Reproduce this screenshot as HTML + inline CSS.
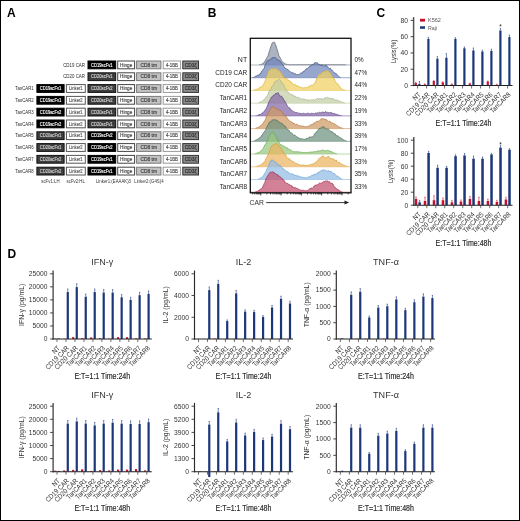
<!DOCTYPE html>
<html><head><meta charset="utf-8"><style>
html,body{margin:0;padding:0;background:#fff;}
svg{display:block;will-change:transform;}
text{font-family:"Liberation Sans", sans-serif;}
</style></head><body>
<svg width="520" height="521" viewBox="0 0 520 521" font-family='"Liberation Sans", sans-serif'>
<rect x="0" y="0" width="520" height="521" fill="#fff"/>
<text x="7.00" y="17.00" font-size="12" fill="#000" text-anchor="start" font-weight="bold" >A</text>
<text x="207.80" y="17.00" font-size="12" fill="#000" text-anchor="start" font-weight="bold" >B</text>
<text x="376.60" y="17.00" font-size="12" fill="#000" text-anchor="start" font-weight="bold" >C</text>
<text x="7.50" y="257.60" font-size="12" fill="#000" text-anchor="start" font-weight="bold" >D</text>
<text x="85.00" y="66.60" font-size="4.8" fill="#2a2a2a" text-anchor="end" font-weight="normal"  textLength="21.84" lengthAdjust="spacingAndGlyphs">CD19 CAR</text>
<rect x="88.00" y="61.00" width="27.70" height="7.80" fill="#000" stroke="#000" stroke-width="1.0" />
<text x="101.85" y="66.60" font-size="4.8" fill="#fff" text-anchor="middle" font-weight="normal" stroke="#fff" stroke-width="0.14" textLength="21.56" lengthAdjust="spacingAndGlyphs">CD19scFv1</text>
<rect x="117.70" y="61.00" width="16.90" height="7.80" fill="#fff" stroke="#444" stroke-width="1.0" />
<text x="126.15" y="66.60" font-size="4.8" fill="#444" text-anchor="middle" font-weight="normal" stroke="#444" stroke-width="0.14" textLength="12.29" lengthAdjust="spacingAndGlyphs">Hinge</text>
<rect x="136.60" y="61.00" width="24.30" height="7.80" fill="#c2c2c2" stroke="#7a7a7a" stroke-width="1.0" />
<text x="148.75" y="66.60" font-size="4.8" fill="#3a3a3a" text-anchor="middle" font-weight="normal" stroke="#3a3a3a" stroke-width="0.14" textLength="16.59" lengthAdjust="spacingAndGlyphs">CD8 tm</text>
<rect x="163.20" y="61.00" width="17.40" height="7.80" fill="#fff" stroke="#999" stroke-width="1.0" />
<text x="171.90" y="66.60" font-size="4.8" fill="#444" text-anchor="middle" font-weight="normal" stroke="#444" stroke-width="0.14" textLength="12.01" lengthAdjust="spacingAndGlyphs">4-1BB</text>
<rect x="182.80" y="61.00" width="15.70" height="7.80" fill="#8a8a8a" stroke="#333" stroke-width="1.0" />
<text x="190.65" y="66.60" font-size="4.8" fill="#2a2a2a" text-anchor="middle" font-weight="normal" stroke="#2a2a2a" stroke-width="0.14" textLength="11.95" lengthAdjust="spacingAndGlyphs">CD3&#950;</text>
<text x="85.00" y="78.40" font-size="4.8" fill="#2a2a2a" text-anchor="end" font-weight="normal"  textLength="21.84" lengthAdjust="spacingAndGlyphs">CD20 CAR</text>
<rect x="88.00" y="72.80" width="27.70" height="7.80" fill="#3e3e3e" stroke="#111" stroke-width="1.0" />
<text x="101.85" y="78.40" font-size="4.8" fill="#d6d6d6" text-anchor="middle" font-weight="normal" stroke="#d6d6d6" stroke-width="0.14" textLength="21.56" lengthAdjust="spacingAndGlyphs">CD20scFv1</text>
<rect x="117.70" y="72.80" width="16.90" height="7.80" fill="#fff" stroke="#444" stroke-width="1.0" />
<text x="126.15" y="78.40" font-size="4.8" fill="#444" text-anchor="middle" font-weight="normal" stroke="#444" stroke-width="0.14" textLength="12.29" lengthAdjust="spacingAndGlyphs">Hinge</text>
<rect x="136.60" y="72.80" width="24.30" height="7.80" fill="#c2c2c2" stroke="#7a7a7a" stroke-width="1.0" />
<text x="148.75" y="78.40" font-size="4.8" fill="#3a3a3a" text-anchor="middle" font-weight="normal" stroke="#3a3a3a" stroke-width="0.14" textLength="16.59" lengthAdjust="spacingAndGlyphs">CD8 tm</text>
<rect x="163.20" y="72.80" width="17.40" height="7.80" fill="#fff" stroke="#999" stroke-width="1.0" />
<text x="171.90" y="78.40" font-size="4.8" fill="#444" text-anchor="middle" font-weight="normal" stroke="#444" stroke-width="0.14" textLength="12.01" lengthAdjust="spacingAndGlyphs">4-1BB</text>
<rect x="182.80" y="72.80" width="15.70" height="7.80" fill="#8a8a8a" stroke="#333" stroke-width="1.0" />
<text x="190.65" y="78.40" font-size="4.8" fill="#2a2a2a" text-anchor="middle" font-weight="normal" stroke="#2a2a2a" stroke-width="0.14" textLength="11.95" lengthAdjust="spacingAndGlyphs">CD3&#950;</text>
<text x="33.60" y="90.20" font-size="4.8" fill="#2a2a2a" text-anchor="end" font-weight="normal"  textLength="18.28" lengthAdjust="spacingAndGlyphs">TanCAR1</text>
<rect x="36.90" y="84.60" width="27.20" height="7.80" fill="#000" stroke="#000" stroke-width="1.0" />
<text x="50.50" y="90.20" font-size="4.8" fill="#fff" text-anchor="middle" font-weight="normal" stroke="#fff" stroke-width="0.14" textLength="21.56" lengthAdjust="spacingAndGlyphs">CD19scFv1</text>
<rect x="66.40" y="84.60" width="18.90" height="7.80" fill="#fff" stroke="#555" stroke-width="1.0" />
<text x="75.85" y="90.20" font-size="4.8" fill="#555" text-anchor="middle" font-weight="normal" stroke="#555" stroke-width="0.14" textLength="13.54" lengthAdjust="spacingAndGlyphs">Linker1</text>
<rect x="88.00" y="84.60" width="27.70" height="7.80" fill="#3e3e3e" stroke="#111" stroke-width="1.0" />
<text x="101.85" y="90.20" font-size="4.8" fill="#d6d6d6" text-anchor="middle" font-weight="normal" stroke="#d6d6d6" stroke-width="0.14" textLength="21.56" lengthAdjust="spacingAndGlyphs">CD20scFv2</text>
<rect x="117.70" y="84.60" width="16.90" height="7.80" fill="#fff" stroke="#444" stroke-width="1.0" />
<text x="126.15" y="90.20" font-size="4.8" fill="#444" text-anchor="middle" font-weight="normal" stroke="#444" stroke-width="0.14" textLength="12.29" lengthAdjust="spacingAndGlyphs">Hinge</text>
<rect x="136.60" y="84.60" width="24.30" height="7.80" fill="#c2c2c2" stroke="#7a7a7a" stroke-width="1.0" />
<text x="148.75" y="90.20" font-size="4.8" fill="#3a3a3a" text-anchor="middle" font-weight="normal" stroke="#3a3a3a" stroke-width="0.14" textLength="16.59" lengthAdjust="spacingAndGlyphs">CD8 tm</text>
<rect x="163.20" y="84.60" width="17.40" height="7.80" fill="#fff" stroke="#999" stroke-width="1.0" />
<text x="171.90" y="90.20" font-size="4.8" fill="#444" text-anchor="middle" font-weight="normal" stroke="#444" stroke-width="0.14" textLength="12.01" lengthAdjust="spacingAndGlyphs">4-1BB</text>
<rect x="182.80" y="84.60" width="15.70" height="7.80" fill="#8a8a8a" stroke="#333" stroke-width="1.0" />
<text x="190.65" y="90.20" font-size="4.8" fill="#2a2a2a" text-anchor="middle" font-weight="normal" stroke="#2a2a2a" stroke-width="0.14" textLength="11.95" lengthAdjust="spacingAndGlyphs">CD3&#950;</text>
<text x="33.60" y="102.00" font-size="4.8" fill="#2a2a2a" text-anchor="end" font-weight="normal"  textLength="18.28" lengthAdjust="spacingAndGlyphs">TanCAR2</text>
<rect x="36.90" y="96.40" width="27.20" height="7.80" fill="#000" stroke="#000" stroke-width="1.0" />
<text x="50.50" y="102.00" font-size="4.8" fill="#fff" text-anchor="middle" font-weight="normal" stroke="#fff" stroke-width="0.14" textLength="21.56" lengthAdjust="spacingAndGlyphs">CD19scFv1</text>
<rect x="66.40" y="96.40" width="18.90" height="7.80" fill="#fff" stroke="#555" stroke-width="1.0" />
<text x="75.85" y="102.00" font-size="4.8" fill="#555" text-anchor="middle" font-weight="normal" stroke="#555" stroke-width="0.14" textLength="13.54" lengthAdjust="spacingAndGlyphs">Linker2</text>
<rect x="88.00" y="96.40" width="27.70" height="7.80" fill="#3e3e3e" stroke="#111" stroke-width="1.0" />
<text x="101.85" y="102.00" font-size="4.8" fill="#d6d6d6" text-anchor="middle" font-weight="normal" stroke="#d6d6d6" stroke-width="0.14" textLength="21.56" lengthAdjust="spacingAndGlyphs">CD20scFv2</text>
<rect x="117.70" y="96.40" width="16.90" height="7.80" fill="#fff" stroke="#444" stroke-width="1.0" />
<text x="126.15" y="102.00" font-size="4.8" fill="#444" text-anchor="middle" font-weight="normal" stroke="#444" stroke-width="0.14" textLength="12.29" lengthAdjust="spacingAndGlyphs">Hinge</text>
<rect x="136.60" y="96.40" width="24.30" height="7.80" fill="#c2c2c2" stroke="#7a7a7a" stroke-width="1.0" />
<text x="148.75" y="102.00" font-size="4.8" fill="#3a3a3a" text-anchor="middle" font-weight="normal" stroke="#3a3a3a" stroke-width="0.14" textLength="16.59" lengthAdjust="spacingAndGlyphs">CD8 tm</text>
<rect x="163.20" y="96.40" width="17.40" height="7.80" fill="#fff" stroke="#999" stroke-width="1.0" />
<text x="171.90" y="102.00" font-size="4.8" fill="#444" text-anchor="middle" font-weight="normal" stroke="#444" stroke-width="0.14" textLength="12.01" lengthAdjust="spacingAndGlyphs">4-1BB</text>
<rect x="182.80" y="96.40" width="15.70" height="7.80" fill="#8a8a8a" stroke="#333" stroke-width="1.0" />
<text x="190.65" y="102.00" font-size="4.8" fill="#2a2a2a" text-anchor="middle" font-weight="normal" stroke="#2a2a2a" stroke-width="0.14" textLength="11.95" lengthAdjust="spacingAndGlyphs">CD3&#950;</text>
<text x="33.60" y="113.80" font-size="4.8" fill="#2a2a2a" text-anchor="end" font-weight="normal"  textLength="18.28" lengthAdjust="spacingAndGlyphs">TanCAR3</text>
<rect x="36.90" y="108.20" width="27.20" height="7.80" fill="#000" stroke="#000" stroke-width="1.0" />
<text x="50.50" y="113.80" font-size="4.8" fill="#fff" text-anchor="middle" font-weight="normal" stroke="#fff" stroke-width="0.14" textLength="21.56" lengthAdjust="spacingAndGlyphs">CD19scFv2</text>
<rect x="66.40" y="108.20" width="18.90" height="7.80" fill="#fff" stroke="#555" stroke-width="1.0" />
<text x="75.85" y="113.80" font-size="4.8" fill="#555" text-anchor="middle" font-weight="normal" stroke="#555" stroke-width="0.14" textLength="13.54" lengthAdjust="spacingAndGlyphs">Linker1</text>
<rect x="88.00" y="108.20" width="27.70" height="7.80" fill="#3e3e3e" stroke="#111" stroke-width="1.0" />
<text x="101.85" y="113.80" font-size="4.8" fill="#d6d6d6" text-anchor="middle" font-weight="normal" stroke="#d6d6d6" stroke-width="0.14" textLength="21.56" lengthAdjust="spacingAndGlyphs">CD20scFv1</text>
<rect x="117.70" y="108.20" width="16.90" height="7.80" fill="#fff" stroke="#444" stroke-width="1.0" />
<text x="126.15" y="113.80" font-size="4.8" fill="#444" text-anchor="middle" font-weight="normal" stroke="#444" stroke-width="0.14" textLength="12.29" lengthAdjust="spacingAndGlyphs">Hinge</text>
<rect x="136.60" y="108.20" width="24.30" height="7.80" fill="#c2c2c2" stroke="#7a7a7a" stroke-width="1.0" />
<text x="148.75" y="113.80" font-size="4.8" fill="#3a3a3a" text-anchor="middle" font-weight="normal" stroke="#3a3a3a" stroke-width="0.14" textLength="16.59" lengthAdjust="spacingAndGlyphs">CD8 tm</text>
<rect x="163.20" y="108.20" width="17.40" height="7.80" fill="#fff" stroke="#999" stroke-width="1.0" />
<text x="171.90" y="113.80" font-size="4.8" fill="#444" text-anchor="middle" font-weight="normal" stroke="#444" stroke-width="0.14" textLength="12.01" lengthAdjust="spacingAndGlyphs">4-1BB</text>
<rect x="182.80" y="108.20" width="15.70" height="7.80" fill="#8a8a8a" stroke="#333" stroke-width="1.0" />
<text x="190.65" y="113.80" font-size="4.8" fill="#2a2a2a" text-anchor="middle" font-weight="normal" stroke="#2a2a2a" stroke-width="0.14" textLength="11.95" lengthAdjust="spacingAndGlyphs">CD3&#950;</text>
<text x="33.60" y="125.60" font-size="4.8" fill="#2a2a2a" text-anchor="end" font-weight="normal"  textLength="18.28" lengthAdjust="spacingAndGlyphs">TanCAR4</text>
<rect x="36.90" y="120.00" width="27.20" height="7.80" fill="#000" stroke="#000" stroke-width="1.0" />
<text x="50.50" y="125.60" font-size="4.8" fill="#fff" text-anchor="middle" font-weight="normal" stroke="#fff" stroke-width="0.14" textLength="21.56" lengthAdjust="spacingAndGlyphs">CD19scFv2</text>
<rect x="66.40" y="120.00" width="18.90" height="7.80" fill="#fff" stroke="#555" stroke-width="1.0" />
<text x="75.85" y="125.60" font-size="4.8" fill="#555" text-anchor="middle" font-weight="normal" stroke="#555" stroke-width="0.14" textLength="13.54" lengthAdjust="spacingAndGlyphs">Linker2</text>
<rect x="88.00" y="120.00" width="27.70" height="7.80" fill="#3e3e3e" stroke="#111" stroke-width="1.0" />
<text x="101.85" y="125.60" font-size="4.8" fill="#d6d6d6" text-anchor="middle" font-weight="normal" stroke="#d6d6d6" stroke-width="0.14" textLength="21.56" lengthAdjust="spacingAndGlyphs">CD20scFv1</text>
<rect x="117.70" y="120.00" width="16.90" height="7.80" fill="#fff" stroke="#444" stroke-width="1.0" />
<text x="126.15" y="125.60" font-size="4.8" fill="#444" text-anchor="middle" font-weight="normal" stroke="#444" stroke-width="0.14" textLength="12.29" lengthAdjust="spacingAndGlyphs">Hinge</text>
<rect x="136.60" y="120.00" width="24.30" height="7.80" fill="#c2c2c2" stroke="#7a7a7a" stroke-width="1.0" />
<text x="148.75" y="125.60" font-size="4.8" fill="#3a3a3a" text-anchor="middle" font-weight="normal" stroke="#3a3a3a" stroke-width="0.14" textLength="16.59" lengthAdjust="spacingAndGlyphs">CD8 tm</text>
<rect x="163.20" y="120.00" width="17.40" height="7.80" fill="#fff" stroke="#999" stroke-width="1.0" />
<text x="171.90" y="125.60" font-size="4.8" fill="#444" text-anchor="middle" font-weight="normal" stroke="#444" stroke-width="0.14" textLength="12.01" lengthAdjust="spacingAndGlyphs">4-1BB</text>
<rect x="182.80" y="120.00" width="15.70" height="7.80" fill="#8a8a8a" stroke="#333" stroke-width="1.0" />
<text x="190.65" y="125.60" font-size="4.8" fill="#2a2a2a" text-anchor="middle" font-weight="normal" stroke="#2a2a2a" stroke-width="0.14" textLength="11.95" lengthAdjust="spacingAndGlyphs">CD3&#950;</text>
<text x="33.60" y="137.40" font-size="4.8" fill="#2a2a2a" text-anchor="end" font-weight="normal"  textLength="18.28" lengthAdjust="spacingAndGlyphs">TanCAR5</text>
<rect x="36.90" y="131.80" width="27.20" height="7.80" fill="#3e3e3e" stroke="#111" stroke-width="1.0" />
<text x="50.50" y="137.40" font-size="4.8" fill="#d6d6d6" text-anchor="middle" font-weight="normal" stroke="#d6d6d6" stroke-width="0.14" textLength="21.56" lengthAdjust="spacingAndGlyphs">CD20scFv1</text>
<rect x="66.40" y="131.80" width="18.90" height="7.80" fill="#fff" stroke="#555" stroke-width="1.0" />
<text x="75.85" y="137.40" font-size="4.8" fill="#555" text-anchor="middle" font-weight="normal" stroke="#555" stroke-width="0.14" textLength="13.54" lengthAdjust="spacingAndGlyphs">Linker1</text>
<rect x="88.00" y="131.80" width="27.70" height="7.80" fill="#000" stroke="#000" stroke-width="1.0" />
<text x="101.85" y="137.40" font-size="4.8" fill="#fff" text-anchor="middle" font-weight="normal" stroke="#fff" stroke-width="0.14" textLength="21.56" lengthAdjust="spacingAndGlyphs">CD19scFv2</text>
<rect x="117.70" y="131.80" width="16.90" height="7.80" fill="#fff" stroke="#444" stroke-width="1.0" />
<text x="126.15" y="137.40" font-size="4.8" fill="#444" text-anchor="middle" font-weight="normal" stroke="#444" stroke-width="0.14" textLength="12.29" lengthAdjust="spacingAndGlyphs">Hinge</text>
<rect x="136.60" y="131.80" width="24.30" height="7.80" fill="#c2c2c2" stroke="#7a7a7a" stroke-width="1.0" />
<text x="148.75" y="137.40" font-size="4.8" fill="#3a3a3a" text-anchor="middle" font-weight="normal" stroke="#3a3a3a" stroke-width="0.14" textLength="16.59" lengthAdjust="spacingAndGlyphs">CD8 tm</text>
<rect x="163.20" y="131.80" width="17.40" height="7.80" fill="#fff" stroke="#999" stroke-width="1.0" />
<text x="171.90" y="137.40" font-size="4.8" fill="#444" text-anchor="middle" font-weight="normal" stroke="#444" stroke-width="0.14" textLength="12.01" lengthAdjust="spacingAndGlyphs">4-1BB</text>
<rect x="182.80" y="131.80" width="15.70" height="7.80" fill="#8a8a8a" stroke="#333" stroke-width="1.0" />
<text x="190.65" y="137.40" font-size="4.8" fill="#2a2a2a" text-anchor="middle" font-weight="normal" stroke="#2a2a2a" stroke-width="0.14" textLength="11.95" lengthAdjust="spacingAndGlyphs">CD3&#950;</text>
<text x="33.60" y="149.20" font-size="4.8" fill="#2a2a2a" text-anchor="end" font-weight="normal"  textLength="18.28" lengthAdjust="spacingAndGlyphs">TanCAR6</text>
<rect x="36.90" y="143.60" width="27.20" height="7.80" fill="#3e3e3e" stroke="#111" stroke-width="1.0" />
<text x="50.50" y="149.20" font-size="4.8" fill="#d6d6d6" text-anchor="middle" font-weight="normal" stroke="#d6d6d6" stroke-width="0.14" textLength="21.56" lengthAdjust="spacingAndGlyphs">CD20scFv1</text>
<rect x="66.40" y="143.60" width="18.90" height="7.80" fill="#fff" stroke="#555" stroke-width="1.0" />
<text x="75.85" y="149.20" font-size="4.8" fill="#555" text-anchor="middle" font-weight="normal" stroke="#555" stroke-width="0.14" textLength="13.54" lengthAdjust="spacingAndGlyphs">Linker2</text>
<rect x="88.00" y="143.60" width="27.70" height="7.80" fill="#000" stroke="#000" stroke-width="1.0" />
<text x="101.85" y="149.20" font-size="4.8" fill="#fff" text-anchor="middle" font-weight="normal" stroke="#fff" stroke-width="0.14" textLength="21.56" lengthAdjust="spacingAndGlyphs">CD19scFv2</text>
<rect x="117.70" y="143.60" width="16.90" height="7.80" fill="#fff" stroke="#444" stroke-width="1.0" />
<text x="126.15" y="149.20" font-size="4.8" fill="#444" text-anchor="middle" font-weight="normal" stroke="#444" stroke-width="0.14" textLength="12.29" lengthAdjust="spacingAndGlyphs">Hinge</text>
<rect x="136.60" y="143.60" width="24.30" height="7.80" fill="#c2c2c2" stroke="#7a7a7a" stroke-width="1.0" />
<text x="148.75" y="149.20" font-size="4.8" fill="#3a3a3a" text-anchor="middle" font-weight="normal" stroke="#3a3a3a" stroke-width="0.14" textLength="16.59" lengthAdjust="spacingAndGlyphs">CD8 tm</text>
<rect x="163.20" y="143.60" width="17.40" height="7.80" fill="#fff" stroke="#999" stroke-width="1.0" />
<text x="171.90" y="149.20" font-size="4.8" fill="#444" text-anchor="middle" font-weight="normal" stroke="#444" stroke-width="0.14" textLength="12.01" lengthAdjust="spacingAndGlyphs">4-1BB</text>
<rect x="182.80" y="143.60" width="15.70" height="7.80" fill="#8a8a8a" stroke="#333" stroke-width="1.0" />
<text x="190.65" y="149.20" font-size="4.8" fill="#2a2a2a" text-anchor="middle" font-weight="normal" stroke="#2a2a2a" stroke-width="0.14" textLength="11.95" lengthAdjust="spacingAndGlyphs">CD3&#950;</text>
<text x="33.60" y="161.00" font-size="4.8" fill="#2a2a2a" text-anchor="end" font-weight="normal"  textLength="18.28" lengthAdjust="spacingAndGlyphs">TanCAR7</text>
<rect x="36.90" y="155.40" width="27.20" height="7.80" fill="#3e3e3e" stroke="#111" stroke-width="1.0" />
<text x="50.50" y="161.00" font-size="4.8" fill="#d6d6d6" text-anchor="middle" font-weight="normal" stroke="#d6d6d6" stroke-width="0.14" textLength="21.56" lengthAdjust="spacingAndGlyphs">CD20scFv2</text>
<rect x="66.40" y="155.40" width="18.90" height="7.80" fill="#fff" stroke="#555" stroke-width="1.0" />
<text x="75.85" y="161.00" font-size="4.8" fill="#555" text-anchor="middle" font-weight="normal" stroke="#555" stroke-width="0.14" textLength="13.54" lengthAdjust="spacingAndGlyphs">Linker1</text>
<rect x="88.00" y="155.40" width="27.70" height="7.80" fill="#000" stroke="#000" stroke-width="1.0" />
<text x="101.85" y="161.00" font-size="4.8" fill="#fff" text-anchor="middle" font-weight="normal" stroke="#fff" stroke-width="0.14" textLength="21.56" lengthAdjust="spacingAndGlyphs">CD19scFv1</text>
<rect x="117.70" y="155.40" width="16.90" height="7.80" fill="#fff" stroke="#444" stroke-width="1.0" />
<text x="126.15" y="161.00" font-size="4.8" fill="#444" text-anchor="middle" font-weight="normal" stroke="#444" stroke-width="0.14" textLength="12.29" lengthAdjust="spacingAndGlyphs">Hinge</text>
<rect x="136.60" y="155.40" width="24.30" height="7.80" fill="#c2c2c2" stroke="#7a7a7a" stroke-width="1.0" />
<text x="148.75" y="161.00" font-size="4.8" fill="#3a3a3a" text-anchor="middle" font-weight="normal" stroke="#3a3a3a" stroke-width="0.14" textLength="16.59" lengthAdjust="spacingAndGlyphs">CD8 tm</text>
<rect x="163.20" y="155.40" width="17.40" height="7.80" fill="#fff" stroke="#999" stroke-width="1.0" />
<text x="171.90" y="161.00" font-size="4.8" fill="#444" text-anchor="middle" font-weight="normal" stroke="#444" stroke-width="0.14" textLength="12.01" lengthAdjust="spacingAndGlyphs">4-1BB</text>
<rect x="182.80" y="155.40" width="15.70" height="7.80" fill="#8a8a8a" stroke="#333" stroke-width="1.0" />
<text x="190.65" y="161.00" font-size="4.8" fill="#2a2a2a" text-anchor="middle" font-weight="normal" stroke="#2a2a2a" stroke-width="0.14" textLength="11.95" lengthAdjust="spacingAndGlyphs">CD3&#950;</text>
<text x="33.60" y="172.80" font-size="4.8" fill="#2a2a2a" text-anchor="end" font-weight="normal"  textLength="18.28" lengthAdjust="spacingAndGlyphs">TanCAR8</text>
<rect x="36.90" y="167.20" width="27.20" height="7.80" fill="#3e3e3e" stroke="#111" stroke-width="1.0" />
<text x="50.50" y="172.80" font-size="4.8" fill="#d6d6d6" text-anchor="middle" font-weight="normal" stroke="#d6d6d6" stroke-width="0.14" textLength="21.56" lengthAdjust="spacingAndGlyphs">CD20scFv2</text>
<rect x="66.40" y="167.20" width="18.90" height="7.80" fill="#fff" stroke="#555" stroke-width="1.0" />
<text x="75.85" y="172.80" font-size="4.8" fill="#555" text-anchor="middle" font-weight="normal" stroke="#555" stroke-width="0.14" textLength="13.54" lengthAdjust="spacingAndGlyphs">Linker2</text>
<rect x="88.00" y="167.20" width="27.70" height="7.80" fill="#000" stroke="#000" stroke-width="1.0" />
<text x="101.85" y="172.80" font-size="4.8" fill="#fff" text-anchor="middle" font-weight="normal" stroke="#fff" stroke-width="0.14" textLength="21.56" lengthAdjust="spacingAndGlyphs">CD19scFv1</text>
<rect x="117.70" y="167.20" width="16.90" height="7.80" fill="#fff" stroke="#444" stroke-width="1.0" />
<text x="126.15" y="172.80" font-size="4.8" fill="#444" text-anchor="middle" font-weight="normal" stroke="#444" stroke-width="0.14" textLength="12.29" lengthAdjust="spacingAndGlyphs">Hinge</text>
<rect x="136.60" y="167.20" width="24.30" height="7.80" fill="#c2c2c2" stroke="#7a7a7a" stroke-width="1.0" />
<text x="148.75" y="172.80" font-size="4.8" fill="#3a3a3a" text-anchor="middle" font-weight="normal" stroke="#3a3a3a" stroke-width="0.14" textLength="16.59" lengthAdjust="spacingAndGlyphs">CD8 tm</text>
<rect x="163.20" y="167.20" width="17.40" height="7.80" fill="#fff" stroke="#999" stroke-width="1.0" />
<text x="171.90" y="172.80" font-size="4.8" fill="#444" text-anchor="middle" font-weight="normal" stroke="#444" stroke-width="0.14" textLength="12.01" lengthAdjust="spacingAndGlyphs">4-1BB</text>
<rect x="182.80" y="167.20" width="15.70" height="7.80" fill="#8a8a8a" stroke="#333" stroke-width="1.0" />
<text x="190.65" y="172.80" font-size="4.8" fill="#2a2a2a" text-anchor="middle" font-weight="normal" stroke="#2a2a2a" stroke-width="0.14" textLength="11.95" lengthAdjust="spacingAndGlyphs">CD3&#950;</text>
<text x="50.40" y="182.70" font-size="4.8" fill="#333" text-anchor="middle" font-weight="normal"  textLength="18.24" lengthAdjust="spacingAndGlyphs">scFv1:LH</text>
<text x="75.70" y="182.70" font-size="4.8" fill="#333" text-anchor="middle" font-weight="normal"  textLength="18.24" lengthAdjust="spacingAndGlyphs">scFv2:HL</text>
<text x="113.50" y="182.70" font-size="4.8" fill="#333" text-anchor="middle" font-weight="normal"  textLength="35.06" lengthAdjust="spacingAndGlyphs">Linker1:(EAAAK)3</text>
<text x="148.90" y="182.70" font-size="4.8" fill="#333" text-anchor="middle" font-weight="normal"  textLength="29.29" lengthAdjust="spacingAndGlyphs">Linker2:(G4S)4</text>
<g font-size="7">
<text x="247.20" y="61.90" font-size="7" fill="#222" text-anchor="end" font-weight="normal"  textLength="9.33" lengthAdjust="spacingAndGlyphs">NT</text>
<text x="354.40" y="61.90" font-size="6.5" fill="#222" text-anchor="start" font-weight="normal"  textLength="9.11" lengthAdjust="spacingAndGlyphs">0%</text>
<text x="247.20" y="74.62" font-size="7" fill="#222" text-anchor="end" font-weight="normal"  textLength="31.85" lengthAdjust="spacingAndGlyphs">CD19 CAR</text>
<text x="354.40" y="74.62" font-size="6.5" fill="#222" text-anchor="start" font-weight="normal"  textLength="12.62" lengthAdjust="spacingAndGlyphs">47%</text>
<text x="247.20" y="87.34" font-size="7" fill="#222" text-anchor="end" font-weight="normal"  textLength="31.85" lengthAdjust="spacingAndGlyphs">CD20 CAR</text>
<text x="354.40" y="87.34" font-size="6.5" fill="#222" text-anchor="start" font-weight="normal"  textLength="12.62" lengthAdjust="spacingAndGlyphs">44%</text>
<text x="247.20" y="100.06" font-size="7" fill="#222" text-anchor="end" font-weight="normal"  textLength="27.56" lengthAdjust="spacingAndGlyphs">TanCAR1</text>
<text x="354.40" y="100.06" font-size="6.5" fill="#222" text-anchor="start" font-weight="normal"  textLength="12.62" lengthAdjust="spacingAndGlyphs">22%</text>
<text x="247.20" y="112.78" font-size="7" fill="#222" text-anchor="end" font-weight="normal"  textLength="27.56" lengthAdjust="spacingAndGlyphs">TanCAR2</text>
<text x="354.40" y="112.78" font-size="6.5" fill="#222" text-anchor="start" font-weight="normal"  textLength="12.62" lengthAdjust="spacingAndGlyphs">19%</text>
<text x="247.20" y="125.50" font-size="7" fill="#222" text-anchor="end" font-weight="normal"  textLength="27.56" lengthAdjust="spacingAndGlyphs">TanCAR3</text>
<text x="354.40" y="125.50" font-size="6.5" fill="#222" text-anchor="start" font-weight="normal"  textLength="12.62" lengthAdjust="spacingAndGlyphs">33%</text>
<text x="247.20" y="138.22" font-size="7" fill="#222" text-anchor="end" font-weight="normal"  textLength="27.56" lengthAdjust="spacingAndGlyphs">TanCAR4</text>
<text x="354.40" y="138.22" font-size="6.5" fill="#222" text-anchor="start" font-weight="normal"  textLength="12.62" lengthAdjust="spacingAndGlyphs">39%</text>
<text x="247.20" y="150.94" font-size="7" fill="#222" text-anchor="end" font-weight="normal"  textLength="27.56" lengthAdjust="spacingAndGlyphs">TanCAR5</text>
<text x="354.40" y="150.94" font-size="6.5" fill="#222" text-anchor="start" font-weight="normal"  textLength="12.62" lengthAdjust="spacingAndGlyphs">17%</text>
<text x="247.20" y="163.66" font-size="7" fill="#222" text-anchor="end" font-weight="normal"  textLength="27.56" lengthAdjust="spacingAndGlyphs">TanCAR6</text>
<text x="354.40" y="163.66" font-size="6.5" fill="#222" text-anchor="start" font-weight="normal"  textLength="12.62" lengthAdjust="spacingAndGlyphs">33%</text>
<text x="247.20" y="176.38" font-size="7" fill="#222" text-anchor="end" font-weight="normal"  textLength="27.56" lengthAdjust="spacingAndGlyphs">TanCAR7</text>
<text x="354.40" y="176.38" font-size="6.5" fill="#222" text-anchor="start" font-weight="normal"  textLength="12.62" lengthAdjust="spacingAndGlyphs">35%</text>
<text x="247.20" y="189.10" font-size="7" fill="#222" text-anchor="end" font-weight="normal"  textLength="27.56" lengthAdjust="spacingAndGlyphs">TanCAR8</text>
<text x="354.40" y="189.10" font-size="6.5" fill="#222" text-anchor="start" font-weight="normal"  textLength="12.62" lengthAdjust="spacingAndGlyphs">33%</text>
</g>
<clipPath id="fc"><rect x="250.3" y="38.3" width="100.69999999999999" height="154.5"/></clipPath>
<g clip-path="url(#fc)">
<path d="M250.30,65.00 L250.80,65.00 L251.30,65.00 L251.80,65.00 L252.30,65.00 L252.80,65.00 L253.30,65.00 L253.80,65.00 L254.30,65.00 L254.80,65.00 L255.30,65.00 L255.80,65.00 L256.30,65.00 L256.80,65.00 L257.30,64.99 L257.80,64.97 L258.30,64.93 L258.80,64.88 L259.30,64.81 L259.80,64.74 L260.30,64.67 L260.80,64.50 L261.30,64.41 L261.80,64.07 L262.30,63.84 L262.80,63.60 L263.30,63.33 L263.80,62.85 L264.30,61.87 L264.80,61.54 L265.30,60.54 L265.80,59.44 L266.30,58.74 L266.80,57.60 L267.30,57.13 L267.80,56.30 L268.30,55.02 L268.80,52.98 L269.30,51.52 L269.80,50.09 L270.30,48.20 L270.80,46.72 L271.30,45.63 L271.80,43.92 L272.30,42.81 L272.80,42.70 L273.30,42.20 L273.80,42.21 L274.30,42.10 L274.80,42.79 L275.30,44.37 L275.80,44.84 L276.30,47.02 L276.80,48.52 L277.30,49.66 L277.80,51.92 L278.30,53.37 L278.80,55.48 L279.30,56.27 L279.80,57.08 L280.30,58.23 L280.80,58.80 L281.30,60.22 L281.80,60.85 L282.30,61.59 L282.80,62.21 L283.30,62.78 L283.80,62.96 L284.30,63.12 L284.80,63.54 L285.30,63.81 L285.80,64.19 L286.30,64.29 L286.80,64.41 L287.30,64.45 L287.80,64.50 L288.30,64.59 L288.80,64.64 L289.30,64.64 L289.80,64.71 L290.30,64.71 L290.80,64.74 L291.30,64.70 L291.80,64.70 L292.30,64.70 L292.80,64.70 L293.30,64.70 L293.80,64.70 L294.30,64.70 L294.80,64.70 L295.30,64.70 L295.80,64.70 L296.30,64.70 L296.80,64.70 L297.30,64.70 L297.80,64.70 L298.30,64.70 L298.80,64.70 L299.30,64.70 L299.80,64.70 L300.30,64.70 L300.80,64.70 L301.30,64.70 L301.80,64.70 L302.30,64.70 L302.80,64.70 L303.30,64.70 L303.80,64.70 L304.30,64.70 L304.80,64.70 L305.30,64.70 L305.80,64.70 L306.30,64.70 L306.80,64.70 L307.30,64.70 L307.80,64.70 L308.30,64.70 L308.80,64.70 L309.30,64.70 L309.80,64.70 L310.30,64.70 L310.80,64.70 L311.30,64.70 L311.80,64.70 L312.30,64.70 L312.80,64.70 L313.30,64.70 L313.80,64.70 L314.30,64.70 L314.80,64.70 L315.30,64.70 L315.80,64.70 L316.30,64.70 L316.80,64.70 L317.30,64.70 L317.80,64.70 L318.30,64.70 L318.80,64.70 L319.30,64.70 L319.80,64.70 L320.30,64.70 L320.80,64.70 L321.30,64.70 L321.80,64.70 L322.30,64.70 L322.80,64.70 L323.30,64.70 L323.80,64.70 L324.30,64.70 L324.80,64.70 L325.30,64.70 L325.80,64.70 L326.30,64.70 L326.80,64.70 L327.30,64.70 L327.80,64.70 L328.30,64.70 L328.80,64.70 L329.30,64.70 L329.80,64.70 L330.30,64.70 L330.80,64.70 L331.30,64.70 L331.80,64.70 L332.30,64.70 L332.80,64.70 L333.30,64.70 L333.80,64.70 L334.30,64.70 L334.80,64.70 L335.30,64.70 L335.80,64.70 L336.30,64.70 L336.80,64.70 L337.30,64.70 L337.80,64.70 L338.30,64.70 L338.80,64.70 L339.30,64.70 L339.80,64.70 L340.30,64.70 L340.80,64.70 L341.30,64.70 L341.80,64.70 L342.30,64.70 L342.80,64.70 L343.30,64.70 L343.80,64.70 L344.30,64.70 L344.80,64.71 L345.30,64.73 L345.80,64.75 L346.30,64.78 L346.80,64.81 L347.30,64.84 L347.80,64.87 L348.30,64.90 L348.80,64.93 L349.30,64.95 L349.80,64.97 L350.30,64.98 L351.00,65.00 Z" fill="#8e96a8" fill-opacity="0.72"/>
<path d="M259.30,64.81 L259.80,64.74 L260.30,64.67 L260.80,64.50 L261.30,64.41 L261.80,64.07 L262.30,63.84 L262.80,63.60 L263.30,63.33 L263.80,62.85 L264.30,61.87 L264.80,61.54 L265.30,60.54 L265.80,59.44 L266.30,58.74 L266.80,57.60 L267.30,57.13 L267.80,56.30 L268.30,55.02 L268.80,52.98 L269.30,51.52 L269.80,50.09 L270.30,48.20 L270.80,46.72 L271.30,45.63 L271.80,43.92 L272.30,42.81 L272.80,42.70 L273.30,42.20 L273.80,42.21 L274.30,42.10 L274.80,42.79 L275.30,44.37 L275.80,44.84 L276.30,47.02 L276.80,48.52 L277.30,49.66 L277.80,51.92 L278.30,53.37 L278.80,55.48 L279.30,56.27 L279.80,57.08 L280.30,58.23 L280.80,58.80 L281.30,60.22 L281.80,60.85 L282.30,61.59 L282.80,62.21 L283.30,62.78 L283.80,62.96 L284.30,63.12 L284.80,63.54 L285.30,63.81 L285.80,64.19 L286.30,64.29 L286.80,64.41 L287.30,64.45 L287.80,64.50 L288.30,64.59 L288.80,64.64 L289.30,64.64 L289.80,64.71 L290.30,64.71 L290.80,64.74 L291.30,64.70 L291.80,64.70 L292.30,64.70 L292.80,64.70 L293.30,64.70 L293.80,64.70 L294.30,64.70 L294.80,64.70 L295.30,64.70 L295.80,64.70 L296.30,64.70 L296.80,64.70 L297.30,64.70 L297.80,64.70 L298.30,64.70 L298.80,64.70 L299.30,64.70 L299.80,64.70 L300.30,64.70 L300.80,64.70 L301.30,64.70 L301.80,64.70 L302.30,64.70 L302.80,64.70 L303.30,64.70 L303.80,64.70 L304.30,64.70 L304.80,64.70 L305.30,64.70 L305.80,64.70 L306.30,64.70 L306.80,64.70 L307.30,64.70 L307.80,64.70 L308.30,64.70 L308.80,64.70 L309.30,64.70 L309.80,64.70 L310.30,64.70 L310.80,64.70 L311.30,64.70 L311.80,64.70 L312.30,64.70 L312.80,64.70 L313.30,64.70 L313.80,64.70 L314.30,64.70 L314.80,64.70 L315.30,64.70 L315.80,64.70 L316.30,64.70 L316.80,64.70 L317.30,64.70 L317.80,64.70 L318.30,64.70 L318.80,64.70 L319.30,64.70 L319.80,64.70 L320.30,64.70 L320.80,64.70 L321.30,64.70 L321.80,64.70 L322.30,64.70 L322.80,64.70 L323.30,64.70 L323.80,64.70 L324.30,64.70 L324.80,64.70 L325.30,64.70 L325.80,64.70 L326.30,64.70 L326.80,64.70 L327.30,64.70 L327.80,64.70 L328.30,64.70 L328.80,64.70 L329.30,64.70 L329.80,64.70 L330.30,64.70 L330.80,64.70 L331.30,64.70 L331.80,64.70 L332.30,64.70 L332.80,64.70 L333.30,64.70 L333.80,64.70 L334.30,64.70 L334.80,64.70 L335.30,64.70 L335.80,64.70 L336.30,64.70 L336.80,64.70 L337.30,64.70 L337.80,64.70 L338.30,64.70 L338.80,64.70 L339.30,64.70 L339.80,64.70 L340.30,64.70 L340.80,64.70 L341.30,64.70 L341.80,64.70 L342.30,64.70 L342.80,64.70 L343.30,64.70 L343.80,64.70 L344.30,64.70 L344.80,64.71 L345.30,64.73 L345.80,64.75" fill="none" stroke="#5c6272" stroke-width="0.8" stroke-linejoin="round" stroke-opacity="0.9"/>
<line x1="250.3" y1="65.00" x2="351.0" y2="65.00" stroke="#8e96a8" stroke-width="0.9" stroke-opacity="0.75"/>
<path d="M250.30,77.72 L250.80,77.72 L251.30,77.72 L251.80,77.72 L252.30,77.68 L252.80,77.60 L253.30,77.46 L253.80,77.31 L254.30,77.02 L254.80,76.84 L255.30,76.50 L255.80,76.11 L256.30,76.01 L256.80,75.84 L257.30,75.31 L257.80,75.00 L258.30,75.10 L258.80,75.09 L259.30,74.97 L259.80,74.01 L260.30,73.30 L260.80,73.41 L261.30,72.24 L261.80,71.02 L262.30,70.44 L262.80,70.15 L263.30,69.23 L263.80,68.81 L264.30,68.19 L264.80,65.93 L265.30,64.70 L265.80,63.80 L266.30,62.35 L266.80,61.95 L267.30,60.89 L267.80,60.18 L268.30,60.48 L268.80,60.41 L269.30,60.19 L269.80,59.99 L270.30,59.23 L270.80,59.15 L271.30,58.73 L271.80,58.75 L272.30,57.56 L272.80,57.72 L273.30,57.68 L273.80,57.59 L274.30,57.24 L274.80,57.91 L275.30,57.67 L275.80,58.24 L276.30,58.58 L276.80,58.86 L277.30,59.79 L277.80,59.75 L278.30,60.25 L278.80,60.96 L279.30,60.44 L279.80,61.34 L280.30,61.69 L280.80,61.84 L281.30,62.49 L281.80,63.52 L282.30,64.16 L282.80,64.83 L283.30,65.19 L283.80,66.62 L284.30,66.99 L284.80,67.86 L285.30,68.49 L285.80,68.34 L286.30,68.85 L286.80,69.24 L287.30,69.34 L287.80,69.37 L288.30,70.22 L288.80,70.59 L289.30,71.09 L289.80,71.50 L290.30,71.62 L290.80,72.17 L291.30,72.47 L291.80,72.83 L292.30,72.53 L292.80,72.83 L293.30,72.92 L293.80,73.04 L294.30,73.94 L294.80,74.12 L295.30,73.87 L295.80,73.83 L296.30,74.43 L296.80,74.69 L297.30,74.49 L297.80,74.72 L298.30,74.64 L298.80,74.75 L299.30,74.15 L299.80,73.64 L300.30,73.15 L300.80,73.63 L301.30,73.08 L301.80,72.70 L302.30,73.08 L302.80,72.09 L303.30,71.29 L303.80,71.72 L304.30,70.68 L304.80,70.68 L305.30,70.30 L305.80,69.17 L306.30,68.58 L306.80,68.97 L307.30,68.54 L307.80,67.96 L308.30,67.67 L308.80,67.47 L309.30,66.98 L309.80,65.98 L310.30,66.31 L310.80,65.59 L311.30,65.28 L311.80,65.60 L312.30,65.19 L312.80,64.46 L313.30,64.12 L313.80,64.45 L314.30,63.20 L314.80,62.72 L315.30,62.09 L315.80,62.87 L316.30,62.90 L316.80,63.26 L317.30,62.60 L317.80,63.31 L318.30,64.23 L318.80,64.63 L319.30,64.36 L319.80,64.44 L320.30,65.25 L320.80,65.76 L321.30,64.96 L321.80,65.07 L322.30,64.97 L322.80,65.79 L323.30,66.27 L323.80,65.64 L324.30,65.71 L324.80,66.26 L325.30,65.35 L325.80,65.36 L326.30,65.31 L326.80,66.53 L327.30,66.38 L327.80,67.68 L328.30,67.46 L328.80,68.06 L329.30,68.59 L329.80,68.60 L330.30,68.22 L330.80,69.10 L331.30,69.92 L331.80,69.97 L332.30,70.58 L332.80,71.26 L333.30,71.73 L333.80,72.35 L334.30,72.69 L334.80,72.96 L335.30,73.36 L335.80,73.18 L336.30,73.94 L336.80,74.32 L337.30,75.03 L337.80,75.46 L338.30,76.08 L338.80,76.46 L339.30,76.91 L339.80,77.11 L340.30,77.38 L340.80,77.58 L341.30,77.68 L341.80,77.71 L342.30,77.72 L342.80,77.72 L343.30,77.72 L343.80,77.72 L344.30,77.72 L344.80,77.72 L345.30,77.72 L345.80,77.72 L346.30,77.72 L346.80,77.72 L347.30,77.72 L347.80,77.72 L348.30,77.72 L348.80,77.72 L349.30,77.72 L349.80,77.72 L350.30,77.72 L351.00,77.72 Z" fill="#6d83b8" fill-opacity="0.72"/>
<path d="M252.80,77.60 L253.30,77.46 L253.80,77.31 L254.30,77.02 L254.80,76.84 L255.30,76.50 L255.80,76.11 L256.30,76.01 L256.80,75.84 L257.30,75.31 L257.80,75.00 L258.30,75.10 L258.80,75.09 L259.30,74.97 L259.80,74.01 L260.30,73.30 L260.80,73.41 L261.30,72.24 L261.80,71.02 L262.30,70.44 L262.80,70.15 L263.30,69.23 L263.80,68.81 L264.30,68.19 L264.80,65.93 L265.30,64.70 L265.80,63.80 L266.30,62.35 L266.80,61.95 L267.30,60.89 L267.80,60.18 L268.30,60.48 L268.80,60.41 L269.30,60.19 L269.80,59.99 L270.30,59.23 L270.80,59.15 L271.30,58.73 L271.80,58.75 L272.30,57.56 L272.80,57.72 L273.30,57.68 L273.80,57.59 L274.30,57.24 L274.80,57.91 L275.30,57.67 L275.80,58.24 L276.30,58.58 L276.80,58.86 L277.30,59.79 L277.80,59.75 L278.30,60.25 L278.80,60.96 L279.30,60.44 L279.80,61.34 L280.30,61.69 L280.80,61.84 L281.30,62.49 L281.80,63.52 L282.30,64.16 L282.80,64.83 L283.30,65.19 L283.80,66.62 L284.30,66.99 L284.80,67.86 L285.30,68.49 L285.80,68.34 L286.30,68.85 L286.80,69.24 L287.30,69.34 L287.80,69.37 L288.30,70.22 L288.80,70.59 L289.30,71.09 L289.80,71.50 L290.30,71.62 L290.80,72.17 L291.30,72.47 L291.80,72.83 L292.30,72.53 L292.80,72.83 L293.30,72.92 L293.80,73.04 L294.30,73.94 L294.80,74.12 L295.30,73.87 L295.80,73.83 L296.30,74.43 L296.80,74.69 L297.30,74.49 L297.80,74.72 L298.30,74.64 L298.80,74.75 L299.30,74.15 L299.80,73.64 L300.30,73.15 L300.80,73.63 L301.30,73.08 L301.80,72.70 L302.30,73.08 L302.80,72.09 L303.30,71.29 L303.80,71.72 L304.30,70.68 L304.80,70.68 L305.30,70.30 L305.80,69.17 L306.30,68.58 L306.80,68.97 L307.30,68.54 L307.80,67.96 L308.30,67.67 L308.80,67.47 L309.30,66.98 L309.80,65.98 L310.30,66.31 L310.80,65.59 L311.30,65.28 L311.80,65.60 L312.30,65.19 L312.80,64.46 L313.30,64.12 L313.80,64.45 L314.30,63.20 L314.80,62.72 L315.30,62.09 L315.80,62.87 L316.30,62.90 L316.80,63.26 L317.30,62.60 L317.80,63.31 L318.30,64.23 L318.80,64.63 L319.30,64.36 L319.80,64.44 L320.30,65.25 L320.80,65.76 L321.30,64.96 L321.80,65.07 L322.30,64.97 L322.80,65.79 L323.30,66.27 L323.80,65.64 L324.30,65.71 L324.80,66.26 L325.30,65.35 L325.80,65.36 L326.30,65.31 L326.80,66.53 L327.30,66.38 L327.80,67.68 L328.30,67.46 L328.80,68.06 L329.30,68.59 L329.80,68.60 L330.30,68.22 L330.80,69.10 L331.30,69.92 L331.80,69.97 L332.30,70.58 L332.80,71.26 L333.30,71.73 L333.80,72.35 L334.30,72.69 L334.80,72.96 L335.30,73.36 L335.80,73.18 L336.30,73.94 L336.80,74.32 L337.30,75.03 L337.80,75.46 L338.30,76.08 L338.80,76.46 L339.30,76.91 L339.80,77.11 L340.30,77.38 L340.80,77.58" fill="none" stroke="#3f5288" stroke-width="0.8" stroke-linejoin="round" stroke-opacity="0.9"/>
<line x1="250.3" y1="77.72" x2="351.0" y2="77.72" stroke="#6d83b8" stroke-width="0.9" stroke-opacity="0.75"/>
<path d="M250.30,90.44 L250.80,90.44 L251.30,90.44 L251.80,90.44 L252.30,90.41 L252.80,90.36 L253.30,90.27 L253.80,90.15 L254.30,89.96 L254.80,89.85 L255.30,89.75 L255.80,89.62 L256.30,89.44 L256.80,89.37 L257.30,89.13 L257.80,88.98 L258.30,88.41 L258.80,87.91 L259.30,87.73 L259.80,87.73 L260.30,87.00 L260.80,87.05 L261.30,86.90 L261.80,87.02 L262.30,86.37 L262.80,85.50 L263.30,84.54 L263.80,83.94 L264.30,82.56 L264.80,81.86 L265.30,80.35 L265.80,78.98 L266.30,77.07 L266.80,75.95 L267.30,74.84 L267.80,73.39 L268.30,72.37 L268.80,71.07 L269.30,70.30 L269.80,69.48 L270.30,69.18 L270.80,68.98 L271.30,68.60 L271.80,69.03 L272.30,69.27 L272.80,68.40 L273.30,69.05 L273.80,68.49 L274.30,68.32 L274.80,69.17 L275.30,68.65 L275.80,68.53 L276.30,69.02 L276.80,69.21 L277.30,69.19 L277.80,70.21 L278.30,70.31 L278.80,70.65 L279.30,70.74 L279.80,71.30 L280.30,71.92 L280.80,72.92 L281.30,73.30 L281.80,74.09 L282.30,74.74 L282.80,75.96 L283.30,77.06 L283.80,77.65 L284.30,77.79 L284.80,78.35 L285.30,77.79 L285.80,78.07 L286.30,78.32 L286.80,78.64 L287.30,78.94 L287.80,79.56 L288.30,80.74 L288.80,80.40 L289.30,80.47 L289.80,81.02 L290.30,81.41 L290.80,81.61 L291.30,82.72 L291.80,82.52 L292.30,83.28 L292.80,84.10 L293.30,84.43 L293.80,84.13 L294.30,84.89 L294.80,84.68 L295.30,84.37 L295.80,85.01 L296.30,85.59 L296.80,85.84 L297.30,85.82 L297.80,85.83 L298.30,86.12 L298.80,86.33 L299.30,87.07 L299.80,87.41 L300.30,87.50 L300.80,87.11 L301.30,87.37 L301.80,87.31 L302.30,87.80 L302.80,88.03 L303.30,88.00 L303.80,87.71 L304.30,87.60 L304.80,87.59 L305.30,87.86 L305.80,87.77 L306.30,87.68 L306.80,87.53 L307.30,87.63 L307.80,86.88 L308.30,87.06 L308.80,86.24 L309.30,85.74 L309.80,86.44 L310.30,86.21 L310.80,85.54 L311.30,84.90 L311.80,85.18 L312.30,85.48 L312.80,85.51 L313.30,84.24 L313.80,84.32 L314.30,83.48 L314.80,83.29 L315.30,82.17 L315.80,80.44 L316.30,80.07 L316.80,78.31 L317.30,77.31 L317.80,75.87 L318.30,75.12 L318.80,75.22 L319.30,74.12 L319.80,73.90 L320.30,74.19 L320.80,74.11 L321.30,73.14 L321.80,72.53 L322.30,72.31 L322.80,72.36 L323.30,72.06 L323.80,71.97 L324.30,71.18 L324.80,71.93 L325.30,71.24 L325.80,70.75 L326.30,71.49 L326.80,70.71 L327.30,70.60 L327.80,70.38 L328.30,71.30 L328.80,71.88 L329.30,72.44 L329.80,72.23 L330.30,72.99 L330.80,74.02 L331.30,74.79 L331.80,75.77 L332.30,76.98 L332.80,77.93 L333.30,77.80 L333.80,78.91 L334.30,78.95 L334.80,80.32 L335.30,81.37 L335.80,81.92 L336.30,83.01 L336.80,83.68 L337.30,83.55 L337.80,83.92 L338.30,84.53 L338.80,85.45 L339.30,85.91 L339.80,86.49 L340.30,87.44 L340.80,87.99 L341.30,88.79 L341.80,88.98 L342.30,89.28 L342.80,89.42 L343.30,89.64 L343.80,89.89 L344.30,90.10 L344.80,90.18 L345.30,90.29 L345.80,90.36 L346.30,90.41 L346.80,90.43 L347.30,90.44 L347.80,90.44 L348.30,90.44 L348.80,90.44 L349.30,90.44 L349.80,90.44 L350.30,90.44 L351.00,90.44 Z" fill="#f0d060" fill-opacity="0.72"/>
<path d="M253.30,90.27 L253.80,90.15 L254.30,89.96 L254.80,89.85 L255.30,89.75 L255.80,89.62 L256.30,89.44 L256.80,89.37 L257.30,89.13 L257.80,88.98 L258.30,88.41 L258.80,87.91 L259.30,87.73 L259.80,87.73 L260.30,87.00 L260.80,87.05 L261.30,86.90 L261.80,87.02 L262.30,86.37 L262.80,85.50 L263.30,84.54 L263.80,83.94 L264.30,82.56 L264.80,81.86 L265.30,80.35 L265.80,78.98 L266.30,77.07 L266.80,75.95 L267.30,74.84 L267.80,73.39 L268.30,72.37 L268.80,71.07 L269.30,70.30 L269.80,69.48 L270.30,69.18 L270.80,68.98 L271.30,68.60 L271.80,69.03 L272.30,69.27 L272.80,68.40 L273.30,69.05 L273.80,68.49 L274.30,68.32 L274.80,69.17 L275.30,68.65 L275.80,68.53 L276.30,69.02 L276.80,69.21 L277.30,69.19 L277.80,70.21 L278.30,70.31 L278.80,70.65 L279.30,70.74 L279.80,71.30 L280.30,71.92 L280.80,72.92 L281.30,73.30 L281.80,74.09 L282.30,74.74 L282.80,75.96 L283.30,77.06 L283.80,77.65 L284.30,77.79 L284.80,78.35 L285.30,77.79 L285.80,78.07 L286.30,78.32 L286.80,78.64 L287.30,78.94 L287.80,79.56 L288.30,80.74 L288.80,80.40 L289.30,80.47 L289.80,81.02 L290.30,81.41 L290.80,81.61 L291.30,82.72 L291.80,82.52 L292.30,83.28 L292.80,84.10 L293.30,84.43 L293.80,84.13 L294.30,84.89 L294.80,84.68 L295.30,84.37 L295.80,85.01 L296.30,85.59 L296.80,85.84 L297.30,85.82 L297.80,85.83 L298.30,86.12 L298.80,86.33 L299.30,87.07 L299.80,87.41 L300.30,87.50 L300.80,87.11 L301.30,87.37 L301.80,87.31 L302.30,87.80 L302.80,88.03 L303.30,88.00 L303.80,87.71 L304.30,87.60 L304.80,87.59 L305.30,87.86 L305.80,87.77 L306.30,87.68 L306.80,87.53 L307.30,87.63 L307.80,86.88 L308.30,87.06 L308.80,86.24 L309.30,85.74 L309.80,86.44 L310.30,86.21 L310.80,85.54 L311.30,84.90 L311.80,85.18 L312.30,85.48 L312.80,85.51 L313.30,84.24 L313.80,84.32 L314.30,83.48 L314.80,83.29 L315.30,82.17 L315.80,80.44 L316.30,80.07 L316.80,78.31 L317.30,77.31 L317.80,75.87 L318.30,75.12 L318.80,75.22 L319.30,74.12 L319.80,73.90 L320.30,74.19 L320.80,74.11 L321.30,73.14 L321.80,72.53 L322.30,72.31 L322.80,72.36 L323.30,72.06 L323.80,71.97 L324.30,71.18 L324.80,71.93 L325.30,71.24 L325.80,70.75 L326.30,71.49 L326.80,70.71 L327.30,70.60 L327.80,70.38 L328.30,71.30 L328.80,71.88 L329.30,72.44 L329.80,72.23 L330.30,72.99 L330.80,74.02 L331.30,74.79 L331.80,75.77 L332.30,76.98 L332.80,77.93 L333.30,77.80 L333.80,78.91 L334.30,78.95 L334.80,80.32 L335.30,81.37 L335.80,81.92 L336.30,83.01 L336.80,83.68 L337.30,83.55 L337.80,83.92 L338.30,84.53 L338.80,85.45 L339.30,85.91 L339.80,86.49 L340.30,87.44 L340.80,87.99 L341.30,88.79 L341.80,88.98 L342.30,89.28 L342.80,89.42 L343.30,89.64 L343.80,89.89 L344.30,90.10 L344.80,90.18 L345.30,90.29" fill="none" stroke="#dcb83a" stroke-width="0.8" stroke-linejoin="round" stroke-opacity="0.9"/>
<line x1="250.3" y1="90.44" x2="351.0" y2="90.44" stroke="#f0d060" stroke-width="0.9" stroke-opacity="0.75"/>
<path d="M250.30,103.16 L250.80,103.16 L251.30,103.16 L251.80,103.16 L252.30,103.16 L252.80,103.16 L253.30,103.16 L253.80,103.16 L254.30,103.16 L254.80,103.16 L255.30,103.16 L255.80,103.16 L256.30,103.16 L256.80,103.16 L257.30,103.12 L257.80,103.04 L258.30,102.92 L258.80,102.78 L259.30,102.50 L259.80,102.26 L260.30,102.12 L260.80,101.93 L261.30,101.64 L261.80,101.39 L262.30,101.11 L262.80,100.97 L263.30,100.58 L263.80,99.53 L264.30,99.61 L264.80,99.04 L265.30,98.27 L265.80,97.17 L266.30,97.11 L266.80,96.55 L267.30,95.80 L267.80,94.76 L268.30,93.73 L268.80,92.04 L269.30,90.90 L269.80,89.83 L270.30,90.04 L270.80,89.69 L271.30,88.15 L271.80,86.71 L272.30,86.20 L272.80,85.41 L273.30,85.47 L273.80,84.58 L274.30,83.00 L274.80,82.04 L275.30,81.26 L275.80,80.52 L276.30,81.01 L276.80,81.35 L277.30,81.35 L277.80,80.71 L278.30,80.03 L278.80,79.34 L279.30,79.43 L279.80,79.78 L280.30,80.09 L280.80,81.06 L281.30,81.75 L281.80,83.12 L282.30,83.08 L282.80,84.19 L283.30,84.17 L283.80,84.95 L284.30,86.25 L284.80,87.60 L285.30,88.53 L285.80,88.89 L286.30,89.42 L286.80,90.84 L287.30,91.90 L287.80,92.04 L288.30,92.23 L288.80,92.75 L289.30,93.44 L289.80,93.45 L290.30,94.48 L290.80,94.79 L291.30,94.91 L291.80,94.43 L292.30,94.77 L292.80,94.71 L293.30,95.36 L293.80,96.10 L294.30,96.55 L294.80,95.88 L295.30,96.00 L295.80,96.71 L296.30,97.57 L296.80,97.43 L297.30,97.22 L297.80,97.56 L298.30,98.06 L298.80,97.84 L299.30,97.47 L299.80,98.35 L300.30,99.12 L300.80,99.15 L301.30,99.12 L301.80,98.85 L302.30,99.32 L302.80,98.90 L303.30,98.82 L303.80,99.08 L304.30,99.58 L304.80,99.06 L305.30,99.54 L305.80,99.31 L306.30,99.82 L306.80,100.12 L307.30,99.81 L307.80,100.12 L308.30,99.72 L308.80,99.92 L309.30,100.27 L309.80,100.39 L310.30,100.25 L310.80,99.93 L311.30,99.48 L311.80,99.97 L312.30,99.96 L312.80,100.11 L313.30,99.42 L313.80,99.86 L314.30,100.15 L314.80,100.27 L315.30,99.97 L315.80,99.27 L316.30,98.90 L316.80,98.85 L317.30,98.50 L317.80,98.36 L318.30,98.92 L318.80,99.34 L319.30,98.65 L319.80,98.47 L320.30,99.19 L320.80,98.75 L321.30,98.84 L321.80,98.85 L322.30,98.87 L322.80,99.06 L323.30,99.34 L323.80,99.08 L324.30,98.81 L324.80,97.79 L325.30,98.39 L325.80,97.48 L326.30,98.04 L326.80,98.09 L327.30,97.47 L327.80,97.19 L328.30,97.64 L328.80,98.47 L329.30,98.36 L329.80,98.50 L330.30,97.86 L330.80,98.60 L331.30,98.78 L331.80,98.24 L332.30,99.12 L332.80,99.13 L333.30,98.72 L333.80,98.65 L334.30,99.52 L334.80,100.01 L335.30,100.29 L335.80,99.68 L336.30,100.12 L336.80,99.99 L337.30,99.92 L337.80,100.43 L338.30,100.81 L338.80,100.64 L339.30,100.88 L339.80,101.30 L340.30,101.36 L340.80,101.67 L341.30,101.92 L341.80,102.21 L342.30,102.21 L342.80,102.29 L343.30,102.50 L343.80,102.66 L344.30,102.89 L344.80,103.01 L345.30,103.10 L345.80,103.15 L346.30,103.16 L346.80,103.16 L347.30,103.16 L347.80,103.16 L348.30,103.16 L348.80,103.16 L349.30,103.16 L349.80,103.16 L350.30,103.16 L351.00,103.16 Z" fill="#c4cea6" fill-opacity="0.72"/>
<path d="M258.30,102.92 L258.80,102.78 L259.30,102.50 L259.80,102.26 L260.30,102.12 L260.80,101.93 L261.30,101.64 L261.80,101.39 L262.30,101.11 L262.80,100.97 L263.30,100.58 L263.80,99.53 L264.30,99.61 L264.80,99.04 L265.30,98.27 L265.80,97.17 L266.30,97.11 L266.80,96.55 L267.30,95.80 L267.80,94.76 L268.30,93.73 L268.80,92.04 L269.30,90.90 L269.80,89.83 L270.30,90.04 L270.80,89.69 L271.30,88.15 L271.80,86.71 L272.30,86.20 L272.80,85.41 L273.30,85.47 L273.80,84.58 L274.30,83.00 L274.80,82.04 L275.30,81.26 L275.80,80.52 L276.30,81.01 L276.80,81.35 L277.30,81.35 L277.80,80.71 L278.30,80.03 L278.80,79.34 L279.30,79.43 L279.80,79.78 L280.30,80.09 L280.80,81.06 L281.30,81.75 L281.80,83.12 L282.30,83.08 L282.80,84.19 L283.30,84.17 L283.80,84.95 L284.30,86.25 L284.80,87.60 L285.30,88.53 L285.80,88.89 L286.30,89.42 L286.80,90.84 L287.30,91.90 L287.80,92.04 L288.30,92.23 L288.80,92.75 L289.30,93.44 L289.80,93.45 L290.30,94.48 L290.80,94.79 L291.30,94.91 L291.80,94.43 L292.30,94.77 L292.80,94.71 L293.30,95.36 L293.80,96.10 L294.30,96.55 L294.80,95.88 L295.30,96.00 L295.80,96.71 L296.30,97.57 L296.80,97.43 L297.30,97.22 L297.80,97.56 L298.30,98.06 L298.80,97.84 L299.30,97.47 L299.80,98.35 L300.30,99.12 L300.80,99.15 L301.30,99.12 L301.80,98.85 L302.30,99.32 L302.80,98.90 L303.30,98.82 L303.80,99.08 L304.30,99.58 L304.80,99.06 L305.30,99.54 L305.80,99.31 L306.30,99.82 L306.80,100.12 L307.30,99.81 L307.80,100.12 L308.30,99.72 L308.80,99.92 L309.30,100.27 L309.80,100.39 L310.30,100.25 L310.80,99.93 L311.30,99.48 L311.80,99.97 L312.30,99.96 L312.80,100.11 L313.30,99.42 L313.80,99.86 L314.30,100.15 L314.80,100.27 L315.30,99.97 L315.80,99.27 L316.30,98.90 L316.80,98.85 L317.30,98.50 L317.80,98.36 L318.30,98.92 L318.80,99.34 L319.30,98.65 L319.80,98.47 L320.30,99.19 L320.80,98.75 L321.30,98.84 L321.80,98.85 L322.30,98.87 L322.80,99.06 L323.30,99.34 L323.80,99.08 L324.30,98.81 L324.80,97.79 L325.30,98.39 L325.80,97.48 L326.30,98.04 L326.80,98.09 L327.30,97.47 L327.80,97.19 L328.30,97.64 L328.80,98.47 L329.30,98.36 L329.80,98.50 L330.30,97.86 L330.80,98.60 L331.30,98.78 L331.80,98.24 L332.30,99.12 L332.80,99.13 L333.30,98.72 L333.80,98.65 L334.30,99.52 L334.80,100.01 L335.30,100.29 L335.80,99.68 L336.30,100.12 L336.80,99.99 L337.30,99.92 L337.80,100.43 L338.30,100.81 L338.80,100.64 L339.30,100.88 L339.80,101.30 L340.30,101.36 L340.80,101.67 L341.30,101.92 L341.80,102.21 L342.30,102.21 L342.80,102.29 L343.30,102.50 L343.80,102.66 L344.30,102.89 L344.80,103.01" fill="none" stroke="#a6b48a" stroke-width="0.8" stroke-linejoin="round" stroke-opacity="0.9"/>
<line x1="250.3" y1="103.16" x2="351.0" y2="103.16" stroke="#c4cea6" stroke-width="0.9" stroke-opacity="0.75"/>
<path d="M250.30,115.88 L250.80,115.88 L251.30,115.88 L251.80,115.88 L252.30,115.88 L252.80,115.88 L253.30,115.88 L253.80,115.88 L254.30,115.88 L254.80,115.88 L255.30,115.85 L255.80,115.80 L256.30,115.70 L256.80,115.64 L257.30,115.46 L257.80,115.32 L258.30,115.03 L258.80,114.79 L259.30,114.54 L259.80,114.53 L260.30,114.50 L260.80,114.36 L261.30,113.92 L261.80,113.33 L262.30,113.01 L262.80,112.86 L263.30,112.45 L263.80,111.83 L264.30,111.24 L264.80,110.58 L265.30,109.71 L265.80,109.06 L266.30,108.91 L266.80,107.17 L267.30,106.34 L267.80,104.90 L268.30,103.80 L268.80,102.09 L269.30,101.34 L269.80,100.33 L270.30,99.40 L270.80,98.74 L271.30,97.15 L271.80,96.65 L272.30,96.63 L272.80,96.34 L273.30,95.18 L273.80,95.11 L274.30,95.28 L274.80,94.38 L275.30,93.97 L275.80,93.11 L276.30,93.75 L276.80,93.47 L277.30,92.90 L277.80,92.71 L278.30,92.73 L278.80,94.26 L279.30,94.96 L279.80,95.80 L280.30,96.38 L280.80,95.82 L281.30,96.33 L281.80,96.40 L282.30,97.55 L282.80,97.79 L283.30,98.89 L283.80,100.13 L284.30,100.43 L284.80,100.74 L285.30,102.47 L285.80,103.04 L286.30,103.70 L286.80,104.93 L287.30,105.64 L287.80,106.60 L288.30,107.25 L288.80,107.72 L289.30,107.73 L289.80,107.92 L290.30,108.90 L290.80,109.91 L291.30,110.22 L291.80,110.15 L292.30,111.02 L292.80,111.44 L293.30,111.89 L293.80,111.47 L294.30,111.64 L294.80,112.32 L295.30,112.67 L295.80,112.59 L296.30,112.46 L296.80,112.40 L297.30,112.95 L297.80,113.21 L298.30,112.95 L298.80,113.14 L299.30,113.40 L299.80,113.57 L300.30,113.26 L300.80,113.58 L301.30,113.59 L301.80,113.73 L302.30,113.74 L302.80,113.46 L303.30,113.22 L303.80,113.50 L304.30,113.74 L304.80,113.52 L305.30,113.74 L305.80,113.97 L306.30,113.50 L306.80,113.57 L307.30,113.34 L307.80,113.49 L308.30,113.25 L308.80,113.40 L309.30,113.67 L309.80,113.90 L310.30,113.65 L310.80,113.46 L311.30,113.17 L311.80,113.58 L312.30,113.42 L312.80,113.50 L313.30,113.45 L313.80,113.66 L314.30,113.66 L314.80,113.47 L315.30,113.06 L315.80,113.41 L316.30,113.28 L316.80,112.94 L317.30,112.61 L317.80,113.02 L318.30,113.26 L318.80,112.68 L319.30,112.32 L319.80,112.53 L320.30,112.99 L320.80,112.41 L321.30,112.57 L321.80,112.15 L322.30,112.17 L322.80,111.95 L323.30,112.45 L323.80,112.06 L324.30,112.40 L324.80,112.36 L325.30,111.85 L325.80,111.59 L326.30,112.16 L326.80,112.43 L327.30,112.40 L327.80,112.32 L328.30,112.46 L328.80,112.83 L329.30,112.92 L329.80,112.56 L330.30,112.27 L330.80,112.94 L331.30,112.85 L331.80,112.71 L332.30,113.29 L332.80,113.01 L333.30,113.51 L333.80,113.49 L334.30,113.61 L334.80,113.71 L335.30,114.03 L335.80,114.20 L336.30,114.29 L336.80,114.50 L337.30,114.59 L337.80,114.80 L338.30,114.99 L338.80,115.23 L339.30,115.29 L339.80,115.41 L340.30,115.55 L340.80,115.62 L341.30,115.72 L341.80,115.79 L342.30,115.84 L342.80,115.87 L343.30,115.88 L343.80,115.88 L344.30,115.88 L344.80,115.88 L345.30,115.88 L345.80,115.88 L346.30,115.88 L346.80,115.88 L347.30,115.88 L347.80,115.88 L348.30,115.88 L348.80,115.88 L349.30,115.88 L349.80,115.88 L350.30,115.88 L351.00,115.88 Z" fill="#8468a8" fill-opacity="0.72"/>
<path d="M256.80,115.64 L257.30,115.46 L257.80,115.32 L258.30,115.03 L258.80,114.79 L259.30,114.54 L259.80,114.53 L260.30,114.50 L260.80,114.36 L261.30,113.92 L261.80,113.33 L262.30,113.01 L262.80,112.86 L263.30,112.45 L263.80,111.83 L264.30,111.24 L264.80,110.58 L265.30,109.71 L265.80,109.06 L266.30,108.91 L266.80,107.17 L267.30,106.34 L267.80,104.90 L268.30,103.80 L268.80,102.09 L269.30,101.34 L269.80,100.33 L270.30,99.40 L270.80,98.74 L271.30,97.15 L271.80,96.65 L272.30,96.63 L272.80,96.34 L273.30,95.18 L273.80,95.11 L274.30,95.28 L274.80,94.38 L275.30,93.97 L275.80,93.11 L276.30,93.75 L276.80,93.47 L277.30,92.90 L277.80,92.71 L278.30,92.73 L278.80,94.26 L279.30,94.96 L279.80,95.80 L280.30,96.38 L280.80,95.82 L281.30,96.33 L281.80,96.40 L282.30,97.55 L282.80,97.79 L283.30,98.89 L283.80,100.13 L284.30,100.43 L284.80,100.74 L285.30,102.47 L285.80,103.04 L286.30,103.70 L286.80,104.93 L287.30,105.64 L287.80,106.60 L288.30,107.25 L288.80,107.72 L289.30,107.73 L289.80,107.92 L290.30,108.90 L290.80,109.91 L291.30,110.22 L291.80,110.15 L292.30,111.02 L292.80,111.44 L293.30,111.89 L293.80,111.47 L294.30,111.64 L294.80,112.32 L295.30,112.67 L295.80,112.59 L296.30,112.46 L296.80,112.40 L297.30,112.95 L297.80,113.21 L298.30,112.95 L298.80,113.14 L299.30,113.40 L299.80,113.57 L300.30,113.26 L300.80,113.58 L301.30,113.59 L301.80,113.73 L302.30,113.74 L302.80,113.46 L303.30,113.22 L303.80,113.50 L304.30,113.74 L304.80,113.52 L305.30,113.74 L305.80,113.97 L306.30,113.50 L306.80,113.57 L307.30,113.34 L307.80,113.49 L308.30,113.25 L308.80,113.40 L309.30,113.67 L309.80,113.90 L310.30,113.65 L310.80,113.46 L311.30,113.17 L311.80,113.58 L312.30,113.42 L312.80,113.50 L313.30,113.45 L313.80,113.66 L314.30,113.66 L314.80,113.47 L315.30,113.06 L315.80,113.41 L316.30,113.28 L316.80,112.94 L317.30,112.61 L317.80,113.02 L318.30,113.26 L318.80,112.68 L319.30,112.32 L319.80,112.53 L320.30,112.99 L320.80,112.41 L321.30,112.57 L321.80,112.15 L322.30,112.17 L322.80,111.95 L323.30,112.45 L323.80,112.06 L324.30,112.40 L324.80,112.36 L325.30,111.85 L325.80,111.59 L326.30,112.16 L326.80,112.43 L327.30,112.40 L327.80,112.32 L328.30,112.46 L328.80,112.83 L329.30,112.92 L329.80,112.56 L330.30,112.27 L330.80,112.94 L331.30,112.85 L331.80,112.71 L332.30,113.29 L332.80,113.01 L333.30,113.51 L333.80,113.49 L334.30,113.61 L334.80,113.71 L335.30,114.03 L335.80,114.20 L336.30,114.29 L336.80,114.50 L337.30,114.59 L337.80,114.80 L338.30,114.99 L338.80,115.23 L339.30,115.29 L339.80,115.41 L340.30,115.55 L340.80,115.62 L341.30,115.72" fill="none" stroke="#5e3e82" stroke-width="0.8" stroke-linejoin="round" stroke-opacity="0.9"/>
<line x1="250.3" y1="115.88" x2="351.0" y2="115.88" stroke="#8468a8" stroke-width="0.9" stroke-opacity="0.75"/>
<path d="M250.30,128.60 L250.80,128.60 L251.30,128.60 L251.80,128.60 L252.30,128.60 L252.80,128.60 L253.30,128.60 L253.80,128.60 L254.30,128.57 L254.80,128.50 L255.30,128.40 L255.80,128.20 L256.30,128.09 L256.80,127.85 L257.30,127.58 L257.80,127.58 L258.30,127.41 L258.80,127.01 L259.30,126.91 L259.80,126.27 L260.30,126.11 L260.80,125.42 L261.30,125.44 L261.80,124.92 L262.30,123.81 L262.80,123.74 L263.30,123.21 L263.80,122.10 L264.30,121.25 L264.80,120.72 L265.30,119.76 L265.80,118.80 L266.30,116.74 L266.80,115.57 L267.30,114.19 L267.80,114.02 L268.30,112.58 L268.80,112.31 L269.30,111.10 L269.80,109.90 L270.30,109.34 L270.80,108.06 L271.30,107.64 L271.80,107.22 L272.30,106.50 L272.80,107.24 L273.30,106.45 L273.80,106.72 L274.30,107.44 L274.80,107.49 L275.30,108.48 L275.80,108.11 L276.30,108.58 L276.80,109.16 L277.30,108.86 L277.80,109.15 L278.30,109.74 L278.80,109.37 L279.30,110.33 L279.80,109.96 L280.30,110.79 L280.80,110.89 L281.30,110.70 L281.80,111.44 L282.30,111.98 L282.80,113.04 L283.30,114.30 L283.80,115.17 L284.30,115.74 L284.80,115.65 L285.30,116.16 L285.80,116.58 L286.30,116.55 L286.80,117.86 L287.30,118.62 L287.80,118.63 L288.30,119.74 L288.80,120.51 L289.30,120.61 L289.80,121.23 L290.30,121.39 L290.80,121.87 L291.30,121.82 L291.80,122.00 L292.30,122.82 L292.80,122.80 L293.30,123.12 L293.80,123.87 L294.30,123.21 L294.80,123.93 L295.30,124.48 L295.80,124.89 L296.30,124.52 L296.80,124.18 L297.30,124.23 L297.80,124.77 L298.30,125.25 L298.80,125.80 L299.30,125.58 L299.80,125.65 L300.30,125.94 L300.80,125.91 L301.30,126.10 L301.80,125.88 L302.30,125.94 L302.80,126.30 L303.30,126.09 L303.80,126.55 L304.30,126.50 L304.80,126.57 L305.30,126.73 L305.80,126.93 L306.30,126.61 L306.80,126.83 L307.30,126.56 L307.80,126.05 L308.30,126.19 L308.80,126.13 L309.30,125.67 L309.80,125.40 L310.30,125.01 L310.80,124.51 L311.30,124.82 L311.80,124.74 L312.30,124.61 L312.80,124.77 L313.30,123.64 L313.80,123.06 L314.30,122.73 L314.80,123.40 L315.30,122.41 L315.80,121.88 L316.30,121.83 L316.80,121.25 L317.30,121.20 L317.80,121.32 L318.30,121.38 L318.80,121.08 L319.30,121.08 L319.80,120.55 L320.30,119.62 L320.80,119.17 L321.30,118.66 L321.80,118.52 L322.30,118.99 L322.80,118.80 L323.30,118.90 L323.80,118.53 L324.30,118.83 L324.80,119.50 L325.30,119.45 L325.80,119.10 L326.30,120.11 L326.80,119.81 L327.30,121.01 L327.80,121.39 L328.30,121.75 L328.80,121.35 L329.30,120.99 L329.80,121.23 L330.30,122.07 L330.80,121.86 L331.30,122.66 L331.80,123.33 L332.30,122.87 L332.80,123.17 L333.30,123.40 L333.80,123.71 L334.30,123.65 L334.80,124.37 L335.30,124.48 L335.80,124.84 L336.30,125.04 L336.80,125.63 L337.30,125.82 L337.80,126.15 L338.30,126.57 L338.80,126.91 L339.30,126.98 L339.80,127.35 L340.30,127.32 L340.80,127.67 L341.30,127.94 L341.80,128.12 L342.30,128.16 L342.80,128.32 L343.30,128.43 L343.80,128.51 L344.30,128.56 L344.80,128.59 L345.30,128.60 L345.80,128.60 L346.30,128.60 L346.80,128.60 L347.30,128.60 L347.80,128.60 L348.30,128.60 L348.80,128.60 L349.30,128.60 L349.80,128.60 L350.30,128.60 L351.00,128.60 Z" fill="#cf9a62" fill-opacity="0.72"/>
<path d="M255.30,128.40 L255.80,128.20 L256.30,128.09 L256.80,127.85 L257.30,127.58 L257.80,127.58 L258.30,127.41 L258.80,127.01 L259.30,126.91 L259.80,126.27 L260.30,126.11 L260.80,125.42 L261.30,125.44 L261.80,124.92 L262.30,123.81 L262.80,123.74 L263.30,123.21 L263.80,122.10 L264.30,121.25 L264.80,120.72 L265.30,119.76 L265.80,118.80 L266.30,116.74 L266.80,115.57 L267.30,114.19 L267.80,114.02 L268.30,112.58 L268.80,112.31 L269.30,111.10 L269.80,109.90 L270.30,109.34 L270.80,108.06 L271.30,107.64 L271.80,107.22 L272.30,106.50 L272.80,107.24 L273.30,106.45 L273.80,106.72 L274.30,107.44 L274.80,107.49 L275.30,108.48 L275.80,108.11 L276.30,108.58 L276.80,109.16 L277.30,108.86 L277.80,109.15 L278.30,109.74 L278.80,109.37 L279.30,110.33 L279.80,109.96 L280.30,110.79 L280.80,110.89 L281.30,110.70 L281.80,111.44 L282.30,111.98 L282.80,113.04 L283.30,114.30 L283.80,115.17 L284.30,115.74 L284.80,115.65 L285.30,116.16 L285.80,116.58 L286.30,116.55 L286.80,117.86 L287.30,118.62 L287.80,118.63 L288.30,119.74 L288.80,120.51 L289.30,120.61 L289.80,121.23 L290.30,121.39 L290.80,121.87 L291.30,121.82 L291.80,122.00 L292.30,122.82 L292.80,122.80 L293.30,123.12 L293.80,123.87 L294.30,123.21 L294.80,123.93 L295.30,124.48 L295.80,124.89 L296.30,124.52 L296.80,124.18 L297.30,124.23 L297.80,124.77 L298.30,125.25 L298.80,125.80 L299.30,125.58 L299.80,125.65 L300.30,125.94 L300.80,125.91 L301.30,126.10 L301.80,125.88 L302.30,125.94 L302.80,126.30 L303.30,126.09 L303.80,126.55 L304.30,126.50 L304.80,126.57 L305.30,126.73 L305.80,126.93 L306.30,126.61 L306.80,126.83 L307.30,126.56 L307.80,126.05 L308.30,126.19 L308.80,126.13 L309.30,125.67 L309.80,125.40 L310.30,125.01 L310.80,124.51 L311.30,124.82 L311.80,124.74 L312.30,124.61 L312.80,124.77 L313.30,123.64 L313.80,123.06 L314.30,122.73 L314.80,123.40 L315.30,122.41 L315.80,121.88 L316.30,121.83 L316.80,121.25 L317.30,121.20 L317.80,121.32 L318.30,121.38 L318.80,121.08 L319.30,121.08 L319.80,120.55 L320.30,119.62 L320.80,119.17 L321.30,118.66 L321.80,118.52 L322.30,118.99 L322.80,118.80 L323.30,118.90 L323.80,118.53 L324.30,118.83 L324.80,119.50 L325.30,119.45 L325.80,119.10 L326.30,120.11 L326.80,119.81 L327.30,121.01 L327.80,121.39 L328.30,121.75 L328.80,121.35 L329.30,120.99 L329.80,121.23 L330.30,122.07 L330.80,121.86 L331.30,122.66 L331.80,123.33 L332.30,122.87 L332.80,123.17 L333.30,123.40 L333.80,123.71 L334.30,123.65 L334.80,124.37 L335.30,124.48 L335.80,124.84 L336.30,125.04 L336.80,125.63 L337.30,125.82 L337.80,126.15 L338.30,126.57 L338.80,126.91 L339.30,126.98 L339.80,127.35 L340.30,127.32 L340.80,127.67 L341.30,127.94 L341.80,128.12 L342.30,128.16 L342.80,128.32 L343.30,128.43" fill="none" stroke="#b57436" stroke-width="0.8" stroke-linejoin="round" stroke-opacity="0.9"/>
<line x1="250.3" y1="128.60" x2="351.0" y2="128.60" stroke="#cf9a62" stroke-width="0.9" stroke-opacity="0.75"/>
<path d="M250.30,141.32 L250.80,141.32 L251.30,141.32 L251.80,141.32 L252.30,141.32 L252.80,141.32 L253.30,141.28 L253.80,141.18 L254.30,140.99 L254.80,140.75 L255.30,140.40 L255.80,140.08 L256.30,139.89 L256.80,139.77 L257.30,139.59 L257.80,138.90 L258.30,138.72 L258.80,138.35 L259.30,137.82 L259.80,137.80 L260.30,137.32 L260.80,136.80 L261.30,135.68 L261.80,135.36 L262.30,135.02 L262.80,133.70 L263.30,133.32 L263.80,132.24 L264.30,131.58 L264.80,131.56 L265.30,130.48 L265.80,129.41 L266.30,127.91 L266.80,127.26 L267.30,125.94 L267.80,125.01 L268.30,124.51 L268.80,122.91 L269.30,122.88 L269.80,121.60 L270.30,121.70 L270.80,121.90 L271.30,121.64 L271.80,120.60 L272.30,119.66 L272.80,120.43 L273.30,120.01 L273.80,119.74 L274.30,119.19 L274.80,119.84 L275.30,119.86 L275.80,120.25 L276.30,119.93 L276.80,120.71 L277.30,120.29 L277.80,121.14 L278.30,121.81 L278.80,121.62 L279.30,121.97 L279.80,122.86 L280.30,122.74 L280.80,123.64 L281.30,123.29 L281.80,123.41 L282.30,123.53 L282.80,123.99 L283.30,124.78 L283.80,125.33 L284.30,125.85 L284.80,125.69 L285.30,127.01 L285.80,126.85 L286.30,128.26 L286.80,129.00 L287.30,129.57 L287.80,129.24 L288.30,129.92 L288.80,130.72 L289.30,130.69 L289.80,131.87 L290.30,132.41 L290.80,132.81 L291.30,132.90 L291.80,133.13 L292.30,133.54 L292.80,134.30 L293.30,134.87 L293.80,135.55 L294.30,135.09 L294.80,135.26 L295.30,135.40 L295.80,136.42 L296.30,136.71 L296.80,136.58 L297.30,136.94 L297.80,137.77 L298.30,137.93 L298.80,137.72 L299.30,138.29 L299.80,138.64 L300.30,138.75 L300.80,138.52 L301.30,138.34 L301.80,138.82 L302.30,139.08 L302.80,139.19 L303.30,139.22 L303.80,139.15 L304.30,139.35 L304.80,139.31 L305.30,139.32 L305.80,138.72 L306.30,138.45 L306.80,138.69 L307.30,138.04 L307.80,138.34 L308.30,138.17 L308.80,137.40 L309.30,137.08 L309.80,136.88 L310.30,137.02 L310.80,137.29 L311.30,136.80 L311.80,137.13 L312.30,137.03 L312.80,136.49 L313.30,136.45 L313.80,135.62 L314.30,134.34 L314.80,133.54 L315.30,133.12 L315.80,132.43 L316.30,132.03 L316.80,131.99 L317.30,131.03 L317.80,130.55 L318.30,129.63 L318.80,128.73 L319.30,128.79 L319.80,128.48 L320.30,127.95 L320.80,128.00 L321.30,128.15 L321.80,127.44 L322.30,126.85 L322.80,126.73 L323.30,126.85 L323.80,126.82 L324.30,127.17 L324.80,127.49 L325.30,128.01 L325.80,128.57 L326.30,128.50 L326.80,129.31 L327.30,129.36 L327.80,129.00 L328.30,129.07 L328.80,129.39 L329.30,130.26 L329.80,130.65 L330.30,130.99 L330.80,131.12 L331.30,131.67 L331.80,131.75 L332.30,131.63 L332.80,132.80 L333.30,132.91 L333.80,132.98 L334.30,133.74 L334.80,134.17 L335.30,133.90 L335.80,135.24 L336.30,135.38 L336.80,136.14 L337.30,135.81 L337.80,135.58 L338.30,136.23 L338.80,137.22 L339.30,137.27 L339.80,137.51 L340.30,137.62 L340.80,138.04 L341.30,138.30 L341.80,138.47 L342.30,138.94 L342.80,139.39 L343.30,139.50 L343.80,140.01 L344.30,140.19 L344.80,140.48 L345.30,140.63 L345.80,140.90 L346.30,141.03 L346.80,141.16 L347.30,141.25 L347.80,141.30 L348.30,141.32 L348.80,141.32 L349.30,141.32 L349.80,141.32 L350.30,141.32 L351.00,141.32 Z" fill="#6e937f" fill-opacity="0.72"/>
<path d="M253.80,141.18 L254.30,140.99 L254.80,140.75 L255.30,140.40 L255.80,140.08 L256.30,139.89 L256.80,139.77 L257.30,139.59 L257.80,138.90 L258.30,138.72 L258.80,138.35 L259.30,137.82 L259.80,137.80 L260.30,137.32 L260.80,136.80 L261.30,135.68 L261.80,135.36 L262.30,135.02 L262.80,133.70 L263.30,133.32 L263.80,132.24 L264.30,131.58 L264.80,131.56 L265.30,130.48 L265.80,129.41 L266.30,127.91 L266.80,127.26 L267.30,125.94 L267.80,125.01 L268.30,124.51 L268.80,122.91 L269.30,122.88 L269.80,121.60 L270.30,121.70 L270.80,121.90 L271.30,121.64 L271.80,120.60 L272.30,119.66 L272.80,120.43 L273.30,120.01 L273.80,119.74 L274.30,119.19 L274.80,119.84 L275.30,119.86 L275.80,120.25 L276.30,119.93 L276.80,120.71 L277.30,120.29 L277.80,121.14 L278.30,121.81 L278.80,121.62 L279.30,121.97 L279.80,122.86 L280.30,122.74 L280.80,123.64 L281.30,123.29 L281.80,123.41 L282.30,123.53 L282.80,123.99 L283.30,124.78 L283.80,125.33 L284.30,125.85 L284.80,125.69 L285.30,127.01 L285.80,126.85 L286.30,128.26 L286.80,129.00 L287.30,129.57 L287.80,129.24 L288.30,129.92 L288.80,130.72 L289.30,130.69 L289.80,131.87 L290.30,132.41 L290.80,132.81 L291.30,132.90 L291.80,133.13 L292.30,133.54 L292.80,134.30 L293.30,134.87 L293.80,135.55 L294.30,135.09 L294.80,135.26 L295.30,135.40 L295.80,136.42 L296.30,136.71 L296.80,136.58 L297.30,136.94 L297.80,137.77 L298.30,137.93 L298.80,137.72 L299.30,138.29 L299.80,138.64 L300.30,138.75 L300.80,138.52 L301.30,138.34 L301.80,138.82 L302.30,139.08 L302.80,139.19 L303.30,139.22 L303.80,139.15 L304.30,139.35 L304.80,139.31 L305.30,139.32 L305.80,138.72 L306.30,138.45 L306.80,138.69 L307.30,138.04 L307.80,138.34 L308.30,138.17 L308.80,137.40 L309.30,137.08 L309.80,136.88 L310.30,137.02 L310.80,137.29 L311.30,136.80 L311.80,137.13 L312.30,137.03 L312.80,136.49 L313.30,136.45 L313.80,135.62 L314.30,134.34 L314.80,133.54 L315.30,133.12 L315.80,132.43 L316.30,132.03 L316.80,131.99 L317.30,131.03 L317.80,130.55 L318.30,129.63 L318.80,128.73 L319.30,128.79 L319.80,128.48 L320.30,127.95 L320.80,128.00 L321.30,128.15 L321.80,127.44 L322.30,126.85 L322.80,126.73 L323.30,126.85 L323.80,126.82 L324.30,127.17 L324.80,127.49 L325.30,128.01 L325.80,128.57 L326.30,128.50 L326.80,129.31 L327.30,129.36 L327.80,129.00 L328.30,129.07 L328.80,129.39 L329.30,130.26 L329.80,130.65 L330.30,130.99 L330.80,131.12 L331.30,131.67 L331.80,131.75 L332.30,131.63 L332.80,132.80 L333.30,132.91 L333.80,132.98 L334.30,133.74 L334.80,134.17 L335.30,133.90 L335.80,135.24 L336.30,135.38 L336.80,136.14 L337.30,135.81 L337.80,135.58 L338.30,136.23 L338.80,137.22 L339.30,137.27 L339.80,137.51 L340.30,137.62 L340.80,138.04 L341.30,138.30 L341.80,138.47 L342.30,138.94 L342.80,139.39 L343.30,139.50 L343.80,140.01 L344.30,140.19 L344.80,140.48 L345.30,140.63 L345.80,140.90 L346.30,141.03 L346.80,141.16" fill="none" stroke="#4c6e5c" stroke-width="0.8" stroke-linejoin="round" stroke-opacity="0.9"/>
<line x1="250.3" y1="141.32" x2="351.0" y2="141.32" stroke="#6e937f" stroke-width="0.9" stroke-opacity="0.75"/>
<path d="M250.30,154.04 L250.80,154.04 L251.30,154.04 L251.80,154.04 L252.30,154.04 L252.80,154.04 L253.30,154.02 L253.80,153.98 L254.30,153.90 L254.80,153.80 L255.30,153.70 L255.80,153.60 L256.30,153.38 L256.80,153.15 L257.30,152.96 L257.80,152.80 L258.30,152.55 L258.80,152.45 L259.30,151.88 L259.80,151.79 L260.30,151.43 L260.80,150.97 L261.30,150.43 L261.80,150.13 L262.30,149.83 L262.80,148.94 L263.30,148.57 L263.80,146.94 L264.30,146.35 L264.80,144.91 L265.30,144.56 L265.80,143.77 L266.30,143.03 L266.80,141.88 L267.30,141.07 L267.80,140.32 L268.30,138.32 L268.80,137.37 L269.30,136.45 L269.80,135.44 L270.30,134.25 L270.80,133.34 L271.30,132.39 L271.80,131.87 L272.30,132.17 L272.80,131.81 L273.30,132.18 L273.80,133.89 L274.30,134.02 L274.80,134.34 L275.30,135.07 L275.80,136.76 L276.30,137.07 L276.80,137.95 L277.30,139.71 L277.80,141.04 L278.30,140.82 L278.80,141.50 L279.30,142.72 L279.80,143.80 L280.30,144.50 L280.80,144.89 L281.30,144.52 L281.80,145.15 L282.30,145.94 L282.80,145.50 L283.30,145.64 L283.80,146.79 L284.30,146.56 L284.80,147.01 L285.30,147.14 L285.80,147.50 L286.30,147.47 L286.80,147.70 L287.30,147.86 L287.80,148.95 L288.30,148.92 L288.80,149.24 L289.30,149.26 L289.80,149.75 L290.30,149.61 L290.80,150.03 L291.30,150.63 L291.80,151.05 L292.30,151.41 L292.80,151.36 L293.30,151.73 L293.80,151.64 L294.30,151.85 L294.80,151.73 L295.30,151.69 L295.80,151.68 L296.30,151.49 L296.80,151.98 L297.30,151.73 L297.80,151.86 L298.30,151.90 L298.80,151.90 L299.30,151.83 L299.80,152.08 L300.30,152.21 L300.80,152.03 L301.30,152.41 L301.80,152.36 L302.30,152.36 L302.80,152.66 L303.30,152.59 L303.80,152.55 L304.30,152.46 L304.80,152.64 L305.30,152.47 L305.80,152.54 L306.30,152.55 L306.80,152.35 L307.30,152.60 L307.80,152.40 L308.30,152.31 L308.80,152.38 L309.30,152.13 L309.80,152.23 L310.30,152.19 L310.80,152.13 L311.30,151.93 L311.80,152.12 L312.30,152.07 L312.80,152.02 L313.30,151.89 L313.80,151.63 L314.30,151.80 L314.80,151.50 L315.30,151.59 L315.80,151.52 L316.30,151.60 L316.80,151.43 L317.30,150.94 L317.80,150.88 L318.30,150.69 L318.80,150.94 L319.30,151.03 L319.80,151.06 L320.30,150.77 L320.80,150.53 L321.30,150.21 L321.80,150.74 L322.30,150.28 L322.80,149.84 L323.30,149.98 L323.80,150.60 L324.30,150.67 L324.80,151.06 L325.30,151.10 L325.80,150.44 L326.30,150.48 L326.80,150.49 L327.30,150.43 L327.80,150.35 L328.30,150.62 L328.80,150.79 L329.30,150.91 L329.80,150.99 L330.30,151.18 L330.80,151.31 L331.30,151.80 L331.80,151.85 L332.30,152.11 L332.80,152.19 L333.30,152.63 L333.80,152.89 L334.30,153.14 L334.80,153.15 L335.30,153.26 L335.80,153.46 L336.30,153.67 L336.80,153.81 L337.30,153.91 L337.80,153.97 L338.30,154.01 L338.80,154.03 L339.30,154.04 L339.80,154.04 L340.30,154.04 L340.80,154.04 L341.30,154.04 L341.80,154.04 L342.30,154.04 L342.80,154.04 L343.30,154.04 L343.80,154.04 L344.30,154.04 L344.80,154.04 L345.30,154.04 L345.80,154.04 L346.30,154.04 L346.80,154.04 L347.30,154.04 L347.80,154.04 L348.30,154.04 L348.80,154.04 L349.30,154.04 L349.80,154.04 L350.30,154.04 L351.00,154.04 Z" fill="#98c880" fill-opacity="0.72"/>
<path d="M254.80,153.80 L255.30,153.70 L255.80,153.60 L256.30,153.38 L256.80,153.15 L257.30,152.96 L257.80,152.80 L258.30,152.55 L258.80,152.45 L259.30,151.88 L259.80,151.79 L260.30,151.43 L260.80,150.97 L261.30,150.43 L261.80,150.13 L262.30,149.83 L262.80,148.94 L263.30,148.57 L263.80,146.94 L264.30,146.35 L264.80,144.91 L265.30,144.56 L265.80,143.77 L266.30,143.03 L266.80,141.88 L267.30,141.07 L267.80,140.32 L268.30,138.32 L268.80,137.37 L269.30,136.45 L269.80,135.44 L270.30,134.25 L270.80,133.34 L271.30,132.39 L271.80,131.87 L272.30,132.17 L272.80,131.81 L273.30,132.18 L273.80,133.89 L274.30,134.02 L274.80,134.34 L275.30,135.07 L275.80,136.76 L276.30,137.07 L276.80,137.95 L277.30,139.71 L277.80,141.04 L278.30,140.82 L278.80,141.50 L279.30,142.72 L279.80,143.80 L280.30,144.50 L280.80,144.89 L281.30,144.52 L281.80,145.15 L282.30,145.94 L282.80,145.50 L283.30,145.64 L283.80,146.79 L284.30,146.56 L284.80,147.01 L285.30,147.14 L285.80,147.50 L286.30,147.47 L286.80,147.70 L287.30,147.86 L287.80,148.95 L288.30,148.92 L288.80,149.24 L289.30,149.26 L289.80,149.75 L290.30,149.61 L290.80,150.03 L291.30,150.63 L291.80,151.05 L292.30,151.41 L292.80,151.36 L293.30,151.73 L293.80,151.64 L294.30,151.85 L294.80,151.73 L295.30,151.69 L295.80,151.68 L296.30,151.49 L296.80,151.98 L297.30,151.73 L297.80,151.86 L298.30,151.90 L298.80,151.90 L299.30,151.83 L299.80,152.08 L300.30,152.21 L300.80,152.03 L301.30,152.41 L301.80,152.36 L302.30,152.36 L302.80,152.66 L303.30,152.59 L303.80,152.55 L304.30,152.46 L304.80,152.64 L305.30,152.47 L305.80,152.54 L306.30,152.55 L306.80,152.35 L307.30,152.60 L307.80,152.40 L308.30,152.31 L308.80,152.38 L309.30,152.13 L309.80,152.23 L310.30,152.19 L310.80,152.13 L311.30,151.93 L311.80,152.12 L312.30,152.07 L312.80,152.02 L313.30,151.89 L313.80,151.63 L314.30,151.80 L314.80,151.50 L315.30,151.59 L315.80,151.52 L316.30,151.60 L316.80,151.43 L317.30,150.94 L317.80,150.88 L318.30,150.69 L318.80,150.94 L319.30,151.03 L319.80,151.06 L320.30,150.77 L320.80,150.53 L321.30,150.21 L321.80,150.74 L322.30,150.28 L322.80,149.84 L323.30,149.98 L323.80,150.60 L324.30,150.67 L324.80,151.06 L325.30,151.10 L325.80,150.44 L326.30,150.48 L326.80,150.49 L327.30,150.43 L327.80,150.35 L328.30,150.62 L328.80,150.79 L329.30,150.91 L329.80,150.99 L330.30,151.18 L330.80,151.31 L331.30,151.80 L331.80,151.85 L332.30,152.11 L332.80,152.19 L333.30,152.63 L333.80,152.89 L334.30,153.14 L334.80,153.15 L335.30,153.26 L335.80,153.46 L336.30,153.67 L336.80,153.81" fill="none" stroke="#6aa852" stroke-width="0.8" stroke-linejoin="round" stroke-opacity="0.9"/>
<line x1="250.3" y1="154.04" x2="351.0" y2="154.04" stroke="#98c880" stroke-width="0.9" stroke-opacity="0.75"/>
<path d="M250.30,166.76 L250.80,166.76 L251.30,166.76 L251.80,166.76 L252.30,166.76 L252.80,166.76 L253.30,166.76 L253.80,166.76 L254.30,166.75 L254.80,166.70 L255.30,166.64 L255.80,166.55 L256.30,166.46 L256.80,166.30 L257.30,166.23 L257.80,166.17 L258.30,165.92 L258.80,165.69 L259.30,165.39 L259.80,165.14 L260.30,165.16 L260.80,164.78 L261.30,164.40 L261.80,164.22 L262.30,163.64 L262.80,163.72 L263.30,162.82 L263.80,162.17 L264.30,162.30 L264.80,161.93 L265.30,160.28 L265.80,158.73 L266.30,158.48 L266.80,157.54 L267.30,155.98 L267.80,155.46 L268.30,153.65 L268.80,152.67 L269.30,152.13 L269.80,150.76 L270.30,149.11 L270.80,147.90 L271.30,146.58 L271.80,146.38 L272.30,145.20 L272.80,145.16 L273.30,144.71 L273.80,144.40 L274.30,144.44 L274.80,144.41 L275.30,143.73 L275.80,143.15 L276.30,143.17 L276.80,143.64 L277.30,144.48 L277.80,145.53 L278.30,145.06 L278.80,145.46 L279.30,145.75 L279.80,146.88 L280.30,147.40 L280.80,147.51 L281.30,148.16 L281.80,149.22 L282.30,150.57 L282.80,151.47 L283.30,151.68 L283.80,152.90 L284.30,153.47 L284.80,154.21 L285.30,154.48 L285.80,155.02 L286.30,156.27 L286.80,157.51 L287.30,158.02 L287.80,158.30 L288.30,158.46 L288.80,158.47 L289.30,158.62 L289.80,160.13 L290.30,160.02 L290.80,160.18 L291.30,160.35 L291.80,160.98 L292.30,161.82 L292.80,161.54 L293.30,161.60 L293.80,161.92 L294.30,161.93 L294.80,162.70 L295.30,163.44 L295.80,163.43 L296.30,163.33 L296.80,163.92 L297.30,163.87 L297.80,163.86 L298.30,164.43 L298.80,164.53 L299.30,164.60 L299.80,164.78 L300.30,165.02 L300.80,165.13 L301.30,164.96 L301.80,164.89 L302.30,165.04 L302.80,165.30 L303.30,165.14 L303.80,165.10 L304.30,165.34 L304.80,165.34 L305.30,165.24 L305.80,165.23 L306.30,165.35 L306.80,165.40 L307.30,165.33 L307.80,165.38 L308.30,165.34 L308.80,165.26 L309.30,164.89 L309.80,164.80 L310.30,164.57 L310.80,164.48 L311.30,164.29 L311.80,164.39 L312.30,164.47 L312.80,163.67 L313.30,163.71 L313.80,163.89 L314.30,163.35 L314.80,162.71 L315.30,162.86 L315.80,162.18 L316.30,161.89 L316.80,161.25 L317.30,161.37 L317.80,161.17 L318.30,159.48 L318.80,158.57 L319.30,158.44 L319.80,158.06 L320.30,158.13 L320.80,157.28 L321.30,157.23 L321.80,156.40 L322.30,156.20 L322.80,156.02 L323.30,155.75 L323.80,156.64 L324.30,157.39 L324.80,157.54 L325.30,157.66 L325.80,157.86 L326.30,158.01 L326.80,157.39 L327.30,156.65 L327.80,156.90 L328.30,156.41 L328.80,156.31 L329.30,157.57 L329.80,157.59 L330.30,158.01 L330.80,158.73 L331.30,158.04 L331.80,158.80 L332.30,158.88 L332.80,158.93 L333.30,158.64 L333.80,159.02 L334.30,159.72 L334.80,160.11 L335.30,160.84 L335.80,160.21 L336.30,160.01 L336.80,161.15 L337.30,162.14 L337.80,162.49 L338.30,162.67 L338.80,162.26 L339.30,162.28 L339.80,162.58 L340.30,163.65 L340.80,163.66 L341.30,163.93 L341.80,164.26 L342.30,164.35 L342.80,165.01 L343.30,165.33 L343.80,165.29 L344.30,165.32 L344.80,165.53 L345.30,165.83 L345.80,165.98 L346.30,166.12 L346.80,166.37 L347.30,166.50 L347.80,166.62 L348.30,166.70 L348.80,166.75 L349.30,166.76 L349.80,166.76 L350.30,166.76 L351.00,166.76 Z" fill="#ecb460" fill-opacity="0.72"/>
<path d="M255.80,166.55 L256.30,166.46 L256.80,166.30 L257.30,166.23 L257.80,166.17 L258.30,165.92 L258.80,165.69 L259.30,165.39 L259.80,165.14 L260.30,165.16 L260.80,164.78 L261.30,164.40 L261.80,164.22 L262.30,163.64 L262.80,163.72 L263.30,162.82 L263.80,162.17 L264.30,162.30 L264.80,161.93 L265.30,160.28 L265.80,158.73 L266.30,158.48 L266.80,157.54 L267.30,155.98 L267.80,155.46 L268.30,153.65 L268.80,152.67 L269.30,152.13 L269.80,150.76 L270.30,149.11 L270.80,147.90 L271.30,146.58 L271.80,146.38 L272.30,145.20 L272.80,145.16 L273.30,144.71 L273.80,144.40 L274.30,144.44 L274.80,144.41 L275.30,143.73 L275.80,143.15 L276.30,143.17 L276.80,143.64 L277.30,144.48 L277.80,145.53 L278.30,145.06 L278.80,145.46 L279.30,145.75 L279.80,146.88 L280.30,147.40 L280.80,147.51 L281.30,148.16 L281.80,149.22 L282.30,150.57 L282.80,151.47 L283.30,151.68 L283.80,152.90 L284.30,153.47 L284.80,154.21 L285.30,154.48 L285.80,155.02 L286.30,156.27 L286.80,157.51 L287.30,158.02 L287.80,158.30 L288.30,158.46 L288.80,158.47 L289.30,158.62 L289.80,160.13 L290.30,160.02 L290.80,160.18 L291.30,160.35 L291.80,160.98 L292.30,161.82 L292.80,161.54 L293.30,161.60 L293.80,161.92 L294.30,161.93 L294.80,162.70 L295.30,163.44 L295.80,163.43 L296.30,163.33 L296.80,163.92 L297.30,163.87 L297.80,163.86 L298.30,164.43 L298.80,164.53 L299.30,164.60 L299.80,164.78 L300.30,165.02 L300.80,165.13 L301.30,164.96 L301.80,164.89 L302.30,165.04 L302.80,165.30 L303.30,165.14 L303.80,165.10 L304.30,165.34 L304.80,165.34 L305.30,165.24 L305.80,165.23 L306.30,165.35 L306.80,165.40 L307.30,165.33 L307.80,165.38 L308.30,165.34 L308.80,165.26 L309.30,164.89 L309.80,164.80 L310.30,164.57 L310.80,164.48 L311.30,164.29 L311.80,164.39 L312.30,164.47 L312.80,163.67 L313.30,163.71 L313.80,163.89 L314.30,163.35 L314.80,162.71 L315.30,162.86 L315.80,162.18 L316.30,161.89 L316.80,161.25 L317.30,161.37 L317.80,161.17 L318.30,159.48 L318.80,158.57 L319.30,158.44 L319.80,158.06 L320.30,158.13 L320.80,157.28 L321.30,157.23 L321.80,156.40 L322.30,156.20 L322.80,156.02 L323.30,155.75 L323.80,156.64 L324.30,157.39 L324.80,157.54 L325.30,157.66 L325.80,157.86 L326.30,158.01 L326.80,157.39 L327.30,156.65 L327.80,156.90 L328.30,156.41 L328.80,156.31 L329.30,157.57 L329.80,157.59 L330.30,158.01 L330.80,158.73 L331.30,158.04 L331.80,158.80 L332.30,158.88 L332.80,158.93 L333.30,158.64 L333.80,159.02 L334.30,159.72 L334.80,160.11 L335.30,160.84 L335.80,160.21 L336.30,160.01 L336.80,161.15 L337.30,162.14 L337.80,162.49 L338.30,162.67 L338.80,162.26 L339.30,162.28 L339.80,162.58 L340.30,163.65 L340.80,163.66 L341.30,163.93 L341.80,164.26 L342.30,164.35 L342.80,165.01 L343.30,165.33 L343.80,165.29 L344.30,165.32 L344.80,165.53 L345.30,165.83 L345.80,165.98 L346.30,166.12 L346.80,166.37 L347.30,166.50 L347.80,166.62" fill="none" stroke="#de9a34" stroke-width="0.8" stroke-linejoin="round" stroke-opacity="0.9"/>
<line x1="250.3" y1="166.76" x2="351.0" y2="166.76" stroke="#ecb460" stroke-width="0.9" stroke-opacity="0.75"/>
<path d="M250.30,179.48 L250.80,179.48 L251.30,179.48 L251.80,179.48 L252.30,179.48 L252.80,179.48 L253.30,179.48 L253.80,179.48 L254.30,179.48 L254.80,179.48 L255.30,179.48 L255.80,179.48 L256.30,179.48 L256.80,179.48 L257.30,179.44 L257.80,179.35 L258.30,179.21 L258.80,179.02 L259.30,178.83 L259.80,178.49 L260.30,178.24 L260.80,177.86 L261.30,177.70 L261.80,177.41 L262.30,177.21 L262.80,176.35 L263.30,175.67 L263.80,175.44 L264.30,173.92 L264.80,173.47 L265.30,172.50 L265.80,171.87 L266.30,170.90 L266.80,169.10 L267.30,168.37 L267.80,167.69 L268.30,166.33 L268.80,165.32 L269.30,163.40 L269.80,163.05 L270.30,161.30 L270.80,161.44 L271.30,160.16 L271.80,159.74 L272.30,160.16 L272.80,160.09 L273.30,160.49 L273.80,160.99 L274.30,161.68 L274.80,162.16 L275.30,161.84 L275.80,161.94 L276.30,162.31 L276.80,163.82 L277.30,164.45 L277.80,164.02 L278.30,165.08 L278.80,164.79 L279.30,165.38 L279.80,164.88 L280.30,166.17 L280.80,165.92 L281.30,166.70 L281.80,167.64 L282.30,168.56 L282.80,168.10 L283.30,168.55 L283.80,169.51 L284.30,169.88 L284.80,169.61 L285.30,170.61 L285.80,170.77 L286.30,171.58 L286.80,172.03 L287.30,171.55 L287.80,171.52 L288.30,172.35 L288.80,173.05 L289.30,173.52 L289.80,173.15 L290.30,173.25 L290.80,173.73 L291.30,174.19 L291.80,173.98 L292.30,173.86 L292.80,173.75 L293.30,174.12 L293.80,174.91 L294.30,175.54 L294.80,175.07 L295.30,175.33 L295.80,175.17 L296.30,175.93 L296.80,175.56 L297.30,175.96 L297.80,175.74 L298.30,175.72 L298.80,176.14 L299.30,176.82 L299.80,176.51 L300.30,176.77 L300.80,176.68 L301.30,177.10 L301.80,177.39 L302.30,177.15 L302.80,177.35 L303.30,177.60 L303.80,177.63 L304.30,177.56 L304.80,177.87 L305.30,177.79 L305.80,177.82 L306.30,177.79 L306.80,177.92 L307.30,177.62 L307.80,177.30 L308.30,176.94 L308.80,176.99 L309.30,176.65 L309.80,176.61 L310.30,176.18 L310.80,176.47 L311.30,175.75 L311.80,175.16 L312.30,175.22 L312.80,175.13 L313.30,174.96 L313.80,174.75 L314.30,175.21 L314.80,174.00 L315.30,174.27 L315.80,174.29 L316.30,174.23 L316.80,173.83 L317.30,172.67 L317.80,173.02 L318.30,172.93 L318.80,171.89 L319.30,171.95 L319.80,172.12 L320.30,171.30 L320.80,170.84 L321.30,170.62 L321.80,170.18 L322.30,170.71 L322.80,169.82 L323.30,169.51 L323.80,170.26 L324.30,170.52 L324.80,170.18 L325.30,170.06 L325.80,170.42 L326.30,170.92 L326.80,170.86 L327.30,171.29 L327.80,170.95 L328.30,170.49 L328.80,171.34 L329.30,171.26 L329.80,171.08 L330.30,171.94 L330.80,171.59 L331.30,171.42 L331.80,172.28 L332.30,172.83 L332.80,172.69 L333.30,173.22 L333.80,173.84 L334.30,173.54 L334.80,173.80 L335.30,174.71 L335.80,175.42 L336.30,175.81 L336.80,176.06 L337.30,175.87 L337.80,176.18 L338.30,176.48 L338.80,176.93 L339.30,177.35 L339.80,178.10 L340.30,178.42 L340.80,178.62 L341.30,178.88 L341.80,179.17 L342.30,179.31 L342.80,179.39 L343.30,179.44 L343.80,179.47 L344.30,179.48 L344.80,179.48 L345.30,179.48 L345.80,179.48 L346.30,179.48 L346.80,179.48 L347.30,179.48 L347.80,179.48 L348.30,179.48 L348.80,179.48 L349.30,179.48 L349.80,179.48 L350.30,179.48 L351.00,179.48 Z" fill="#92bce6" fill-opacity="0.72"/>
<path d="M257.80,179.35 L258.30,179.21 L258.80,179.02 L259.30,178.83 L259.80,178.49 L260.30,178.24 L260.80,177.86 L261.30,177.70 L261.80,177.41 L262.30,177.21 L262.80,176.35 L263.30,175.67 L263.80,175.44 L264.30,173.92 L264.80,173.47 L265.30,172.50 L265.80,171.87 L266.30,170.90 L266.80,169.10 L267.30,168.37 L267.80,167.69 L268.30,166.33 L268.80,165.32 L269.30,163.40 L269.80,163.05 L270.30,161.30 L270.80,161.44 L271.30,160.16 L271.80,159.74 L272.30,160.16 L272.80,160.09 L273.30,160.49 L273.80,160.99 L274.30,161.68 L274.80,162.16 L275.30,161.84 L275.80,161.94 L276.30,162.31 L276.80,163.82 L277.30,164.45 L277.80,164.02 L278.30,165.08 L278.80,164.79 L279.30,165.38 L279.80,164.88 L280.30,166.17 L280.80,165.92 L281.30,166.70 L281.80,167.64 L282.30,168.56 L282.80,168.10 L283.30,168.55 L283.80,169.51 L284.30,169.88 L284.80,169.61 L285.30,170.61 L285.80,170.77 L286.30,171.58 L286.80,172.03 L287.30,171.55 L287.80,171.52 L288.30,172.35 L288.80,173.05 L289.30,173.52 L289.80,173.15 L290.30,173.25 L290.80,173.73 L291.30,174.19 L291.80,173.98 L292.30,173.86 L292.80,173.75 L293.30,174.12 L293.80,174.91 L294.30,175.54 L294.80,175.07 L295.30,175.33 L295.80,175.17 L296.30,175.93 L296.80,175.56 L297.30,175.96 L297.80,175.74 L298.30,175.72 L298.80,176.14 L299.30,176.82 L299.80,176.51 L300.30,176.77 L300.80,176.68 L301.30,177.10 L301.80,177.39 L302.30,177.15 L302.80,177.35 L303.30,177.60 L303.80,177.63 L304.30,177.56 L304.80,177.87 L305.30,177.79 L305.80,177.82 L306.30,177.79 L306.80,177.92 L307.30,177.62 L307.80,177.30 L308.30,176.94 L308.80,176.99 L309.30,176.65 L309.80,176.61 L310.30,176.18 L310.80,176.47 L311.30,175.75 L311.80,175.16 L312.30,175.22 L312.80,175.13 L313.30,174.96 L313.80,174.75 L314.30,175.21 L314.80,174.00 L315.30,174.27 L315.80,174.29 L316.30,174.23 L316.80,173.83 L317.30,172.67 L317.80,173.02 L318.30,172.93 L318.80,171.89 L319.30,171.95 L319.80,172.12 L320.30,171.30 L320.80,170.84 L321.30,170.62 L321.80,170.18 L322.30,170.71 L322.80,169.82 L323.30,169.51 L323.80,170.26 L324.30,170.52 L324.80,170.18 L325.30,170.06 L325.80,170.42 L326.30,170.92 L326.80,170.86 L327.30,171.29 L327.80,170.95 L328.30,170.49 L328.80,171.34 L329.30,171.26 L329.80,171.08 L330.30,171.94 L330.80,171.59 L331.30,171.42 L331.80,172.28 L332.30,172.83 L332.80,172.69 L333.30,173.22 L333.80,173.84 L334.30,173.54 L334.80,173.80 L335.30,174.71 L335.80,175.42 L336.30,175.81 L336.80,176.06 L337.30,175.87 L337.80,176.18 L338.30,176.48 L338.80,176.93 L339.30,177.35 L339.80,178.10 L340.30,178.42 L340.80,178.62 L341.30,178.88 L341.80,179.17 L342.30,179.31" fill="none" stroke="#6aa0d8" stroke-width="0.8" stroke-linejoin="round" stroke-opacity="0.9"/>
<line x1="250.3" y1="179.48" x2="351.0" y2="179.48" stroke="#92bce6" stroke-width="0.9" stroke-opacity="0.75"/>
<path d="M250.30,192.20 L250.80,192.20 L251.30,192.20 L251.80,192.20 L252.30,192.20 L252.80,192.20 L253.30,192.20 L253.80,192.20 L254.30,192.17 L254.80,192.10 L255.30,191.99 L255.80,191.80 L256.30,191.66 L256.80,191.51 L257.30,191.24 L257.80,191.13 L258.30,190.76 L258.80,190.21 L259.30,189.94 L259.80,189.81 L260.30,189.44 L260.80,189.02 L261.30,188.88 L261.80,188.53 L262.30,187.95 L262.80,186.84 L263.30,185.50 L263.80,184.44 L264.30,183.42 L264.80,182.58 L265.30,180.97 L265.80,179.21 L266.30,178.16 L266.80,177.22 L267.30,176.19 L267.80,175.89 L268.30,174.63 L268.80,173.97 L269.30,173.24 L269.80,172.57 L270.30,172.28 L270.80,172.26 L271.30,172.26 L271.80,172.25 L272.30,171.88 L272.80,172.00 L273.30,171.95 L273.80,172.97 L274.30,173.24 L274.80,172.87 L275.30,173.76 L275.80,173.96 L276.30,174.32 L276.80,174.96 L277.30,174.46 L277.80,175.32 L278.30,175.23 L278.80,176.20 L279.30,176.97 L279.80,176.38 L280.30,176.84 L280.80,177.80 L281.30,178.06 L281.80,178.38 L282.30,178.42 L282.80,179.65 L283.30,180.40 L283.80,180.05 L284.30,180.49 L284.80,181.83 L285.30,182.54 L285.80,183.11 L286.30,183.15 L286.80,183.43 L287.30,183.39 L287.80,183.52 L288.30,184.15 L288.80,184.30 L289.30,184.51 L289.80,184.74 L290.30,185.40 L290.80,185.43 L291.30,185.70 L291.80,185.69 L292.30,186.92 L292.80,186.62 L293.30,187.77 L293.80,187.41 L294.30,187.57 L294.80,187.84 L295.30,187.54 L295.80,187.94 L296.30,188.39 L296.80,188.34 L297.30,188.34 L297.80,188.69 L298.30,189.15 L298.80,189.40 L299.30,189.61 L299.80,189.62 L300.30,190.00 L300.80,190.17 L301.30,190.20 L301.80,190.34 L302.30,190.46 L302.80,190.30 L303.30,190.22 L303.80,190.38 L304.30,190.51 L304.80,190.72 L305.30,190.79 L305.80,190.91 L306.30,190.76 L306.80,190.62 L307.30,190.68 L307.80,190.15 L308.30,190.04 L308.80,189.49 L309.30,189.03 L309.80,188.52 L310.30,188.79 L310.80,188.60 L311.30,187.83 L311.80,188.32 L312.30,188.44 L312.80,187.71 L313.30,187.28 L313.80,186.32 L314.30,185.90 L314.80,185.88 L315.30,185.08 L315.80,185.22 L316.30,185.15 L316.80,184.74 L317.30,184.81 L317.80,184.75 L318.30,184.24 L318.80,184.19 L319.30,183.19 L319.80,182.94 L320.30,182.92 L320.80,183.42 L321.30,183.20 L321.80,182.98 L322.30,182.59 L322.80,182.30 L323.30,181.65 L323.80,181.14 L324.30,181.48 L324.80,181.64 L325.30,181.39 L325.80,180.68 L326.30,181.16 L326.80,181.13 L327.30,180.76 L327.80,181.59 L328.30,181.95 L328.80,181.41 L329.30,181.55 L329.80,182.23 L330.30,183.30 L330.80,182.92 L331.30,183.18 L331.80,183.33 L332.30,183.39 L332.80,183.79 L333.30,184.89 L333.80,186.07 L334.30,186.73 L334.80,187.00 L335.30,187.39 L335.80,188.23 L336.30,188.84 L336.80,188.87 L337.30,189.15 L337.80,189.68 L338.30,189.67 L338.80,190.07 L339.30,190.71 L339.80,190.99 L340.30,191.17 L340.80,191.51 L341.30,191.69 L341.80,191.94 L342.30,192.03 L342.80,192.11 L343.30,192.16 L343.80,192.19 L344.30,192.20 L344.80,192.20 L345.30,192.20 L345.80,192.20 L346.30,192.20 L346.80,192.20 L347.30,192.20 L347.80,192.20 L348.30,192.20 L348.80,192.20 L349.30,192.20 L349.80,192.20 L350.30,192.20 L351.00,192.20 Z" fill="#c2506e" fill-opacity="0.72"/>
<path d="M255.30,191.99 L255.80,191.80 L256.30,191.66 L256.80,191.51 L257.30,191.24 L257.80,191.13 L258.30,190.76 L258.80,190.21 L259.30,189.94 L259.80,189.81 L260.30,189.44 L260.80,189.02 L261.30,188.88 L261.80,188.53 L262.30,187.95 L262.80,186.84 L263.30,185.50 L263.80,184.44 L264.30,183.42 L264.80,182.58 L265.30,180.97 L265.80,179.21 L266.30,178.16 L266.80,177.22 L267.30,176.19 L267.80,175.89 L268.30,174.63 L268.80,173.97 L269.30,173.24 L269.80,172.57 L270.30,172.28 L270.80,172.26 L271.30,172.26 L271.80,172.25 L272.30,171.88 L272.80,172.00 L273.30,171.95 L273.80,172.97 L274.30,173.24 L274.80,172.87 L275.30,173.76 L275.80,173.96 L276.30,174.32 L276.80,174.96 L277.30,174.46 L277.80,175.32 L278.30,175.23 L278.80,176.20 L279.30,176.97 L279.80,176.38 L280.30,176.84 L280.80,177.80 L281.30,178.06 L281.80,178.38 L282.30,178.42 L282.80,179.65 L283.30,180.40 L283.80,180.05 L284.30,180.49 L284.80,181.83 L285.30,182.54 L285.80,183.11 L286.30,183.15 L286.80,183.43 L287.30,183.39 L287.80,183.52 L288.30,184.15 L288.80,184.30 L289.30,184.51 L289.80,184.74 L290.30,185.40 L290.80,185.43 L291.30,185.70 L291.80,185.69 L292.30,186.92 L292.80,186.62 L293.30,187.77 L293.80,187.41 L294.30,187.57 L294.80,187.84 L295.30,187.54 L295.80,187.94 L296.30,188.39 L296.80,188.34 L297.30,188.34 L297.80,188.69 L298.30,189.15 L298.80,189.40 L299.30,189.61 L299.80,189.62 L300.30,190.00 L300.80,190.17 L301.30,190.20 L301.80,190.34 L302.30,190.46 L302.80,190.30 L303.30,190.22 L303.80,190.38 L304.30,190.51 L304.80,190.72 L305.30,190.79 L305.80,190.91 L306.30,190.76 L306.80,190.62 L307.30,190.68 L307.80,190.15 L308.30,190.04 L308.80,189.49 L309.30,189.03 L309.80,188.52 L310.30,188.79 L310.80,188.60 L311.30,187.83 L311.80,188.32 L312.30,188.44 L312.80,187.71 L313.30,187.28 L313.80,186.32 L314.30,185.90 L314.80,185.88 L315.30,185.08 L315.80,185.22 L316.30,185.15 L316.80,184.74 L317.30,184.81 L317.80,184.75 L318.30,184.24 L318.80,184.19 L319.30,183.19 L319.80,182.94 L320.30,182.92 L320.80,183.42 L321.30,183.20 L321.80,182.98 L322.30,182.59 L322.80,182.30 L323.30,181.65 L323.80,181.14 L324.30,181.48 L324.80,181.64 L325.30,181.39 L325.80,180.68 L326.30,181.16 L326.80,181.13 L327.30,180.76 L327.80,181.59 L328.30,181.95 L328.80,181.41 L329.30,181.55 L329.80,182.23 L330.30,183.30 L330.80,182.92 L331.30,183.18 L331.80,183.33 L332.30,183.39 L332.80,183.79 L333.30,184.89 L333.80,186.07 L334.30,186.73 L334.80,187.00 L335.30,187.39 L335.80,188.23 L336.30,188.84 L336.80,188.87 L337.30,189.15 L337.80,189.68 L338.30,189.67 L338.80,190.07 L339.30,190.71 L339.80,190.99 L340.30,191.17 L340.80,191.51 L341.30,191.69 L341.80,191.94 L342.30,192.03" fill="none" stroke="#a42a4c" stroke-width="0.8" stroke-linejoin="round" stroke-opacity="0.9"/>
<line x1="250.3" y1="192.20" x2="351.0" y2="192.20" stroke="#c2506e" stroke-width="0.9" stroke-opacity="0.75"/>
</g>
<rect x="250.30" y="38.30" width="100.70" height="154.50" fill="none" stroke="#111" stroke-width="1.3" />
<line x1="252.72" y1="192.80" x2="252.72" y2="194.40" stroke="#111" stroke-width="0.8"/>
<line x1="254.69" y1="192.80" x2="254.69" y2="194.40" stroke="#111" stroke-width="0.8"/>
<line x1="256.30" y1="192.80" x2="256.30" y2="194.40" stroke="#111" stroke-width="0.8"/>
<line x1="257.66" y1="192.80" x2="257.66" y2="194.40" stroke="#111" stroke-width="0.8"/>
<line x1="258.83" y1="192.80" x2="258.83" y2="194.40" stroke="#111" stroke-width="0.8"/>
<line x1="259.87" y1="192.80" x2="259.87" y2="194.40" stroke="#111" stroke-width="0.8"/>
<line x1="260.80" y1="192.80" x2="260.80" y2="195.40" stroke="#111" stroke-width="0.8"/>
<line x1="266.91" y1="192.80" x2="266.91" y2="194.40" stroke="#111" stroke-width="0.8"/>
<line x1="270.49" y1="192.80" x2="270.49" y2="194.40" stroke="#111" stroke-width="0.8"/>
<line x1="273.02" y1="192.80" x2="273.02" y2="194.40" stroke="#111" stroke-width="0.8"/>
<line x1="274.99" y1="192.80" x2="274.99" y2="194.40" stroke="#111" stroke-width="0.8"/>
<line x1="276.60" y1="192.80" x2="276.60" y2="194.40" stroke="#111" stroke-width="0.8"/>
<line x1="277.96" y1="192.80" x2="277.96" y2="194.40" stroke="#111" stroke-width="0.8"/>
<line x1="279.13" y1="192.80" x2="279.13" y2="194.40" stroke="#111" stroke-width="0.8"/>
<line x1="280.17" y1="192.80" x2="280.17" y2="194.40" stroke="#111" stroke-width="0.8"/>
<line x1="281.10" y1="192.80" x2="281.10" y2="195.40" stroke="#111" stroke-width="0.8"/>
<line x1="287.21" y1="192.80" x2="287.21" y2="194.40" stroke="#111" stroke-width="0.8"/>
<line x1="290.79" y1="192.80" x2="290.79" y2="194.40" stroke="#111" stroke-width="0.8"/>
<line x1="293.32" y1="192.80" x2="293.32" y2="194.40" stroke="#111" stroke-width="0.8"/>
<line x1="295.29" y1="192.80" x2="295.29" y2="194.40" stroke="#111" stroke-width="0.8"/>
<line x1="296.90" y1="192.80" x2="296.90" y2="194.40" stroke="#111" stroke-width="0.8"/>
<line x1="298.26" y1="192.80" x2="298.26" y2="194.40" stroke="#111" stroke-width="0.8"/>
<line x1="299.43" y1="192.80" x2="299.43" y2="194.40" stroke="#111" stroke-width="0.8"/>
<line x1="300.47" y1="192.80" x2="300.47" y2="194.40" stroke="#111" stroke-width="0.8"/>
<line x1="301.40" y1="192.80" x2="301.40" y2="195.40" stroke="#111" stroke-width="0.8"/>
<line x1="307.51" y1="192.80" x2="307.51" y2="194.40" stroke="#111" stroke-width="0.8"/>
<line x1="311.09" y1="192.80" x2="311.09" y2="194.40" stroke="#111" stroke-width="0.8"/>
<line x1="313.62" y1="192.80" x2="313.62" y2="194.40" stroke="#111" stroke-width="0.8"/>
<line x1="315.59" y1="192.80" x2="315.59" y2="194.40" stroke="#111" stroke-width="0.8"/>
<line x1="317.20" y1="192.80" x2="317.20" y2="194.40" stroke="#111" stroke-width="0.8"/>
<line x1="318.56" y1="192.80" x2="318.56" y2="194.40" stroke="#111" stroke-width="0.8"/>
<line x1="319.73" y1="192.80" x2="319.73" y2="194.40" stroke="#111" stroke-width="0.8"/>
<line x1="320.77" y1="192.80" x2="320.77" y2="194.40" stroke="#111" stroke-width="0.8"/>
<line x1="321.70" y1="192.80" x2="321.70" y2="195.40" stroke="#111" stroke-width="0.8"/>
<line x1="327.81" y1="192.80" x2="327.81" y2="194.40" stroke="#111" stroke-width="0.8"/>
<line x1="331.39" y1="192.80" x2="331.39" y2="194.40" stroke="#111" stroke-width="0.8"/>
<line x1="333.92" y1="192.80" x2="333.92" y2="194.40" stroke="#111" stroke-width="0.8"/>
<line x1="335.89" y1="192.80" x2="335.89" y2="194.40" stroke="#111" stroke-width="0.8"/>
<line x1="337.50" y1="192.80" x2="337.50" y2="194.40" stroke="#111" stroke-width="0.8"/>
<line x1="338.86" y1="192.80" x2="338.86" y2="194.40" stroke="#111" stroke-width="0.8"/>
<line x1="340.03" y1="192.80" x2="340.03" y2="194.40" stroke="#111" stroke-width="0.8"/>
<line x1="341.07" y1="192.80" x2="341.07" y2="194.40" stroke="#111" stroke-width="0.8"/>
<line x1="342.00" y1="192.80" x2="342.00" y2="195.40" stroke="#111" stroke-width="0.8"/>
<line x1="348.11" y1="192.80" x2="348.11" y2="194.40" stroke="#111" stroke-width="0.8"/>
<text x="249.60" y="204.70" font-size="6.8" fill="#333" text-anchor="start" font-weight="normal" >CAR</text>
<line x1="266.20" y1="202.60" x2="345.50" y2="202.60" stroke="#222" stroke-width="0.9"/>
<path d="M349.2,202.6 L344.5,200.6 L344.5,204.6 Z" fill="#222"/>
<rect x="414.70" y="83.06" width="2.20" height="2.44" fill="#c8102e" />
<line x1="415.80" y1="83.06" x2="415.80" y2="82.25" stroke="#c8102e" stroke-width="0.6"/>
<line x1="415.20" y1="82.25" x2="416.40" y2="82.25" stroke="#c8102e" stroke-width="0.6"/>
<rect x="418.30" y="83.87" width="2.20" height="1.63" fill="#1c3679" />
<line x1="419.40" y1="83.87" x2="419.40" y2="81.43" stroke="#1c3679" stroke-width="0.6"/>
<line x1="418.80" y1="81.43" x2="420.00" y2="81.43" stroke="#1c3679" stroke-width="0.6"/>
<line x1="417.60" y1="85.50" x2="417.60" y2="88.50" stroke="#333" stroke-width="0.7"/>
<text x="421.10" y="95.10" font-size="7.0" fill="#333" text-anchor="end" textLength="8.12" lengthAdjust="spacingAndGlyphs" transform="rotate(-45 421.10 95.10)">NT</text>
<rect x="423.70" y="84.28" width="2.20" height="1.22" fill="#c8102e" />
<line x1="424.80" y1="84.28" x2="424.80" y2="83.87" stroke="#c8102e" stroke-width="0.6"/>
<line x1="424.20" y1="83.87" x2="425.40" y2="83.87" stroke="#c8102e" stroke-width="0.6"/>
<rect x="427.30" y="38.95" width="2.20" height="46.55" fill="#1c3679" />
<line x1="428.40" y1="38.95" x2="428.40" y2="37.33" stroke="#1c3679" stroke-width="0.6"/>
<line x1="427.80" y1="37.33" x2="429.00" y2="37.33" stroke="#1c3679" stroke-width="0.6"/>
<line x1="426.60" y1="85.50" x2="426.60" y2="88.50" stroke="#333" stroke-width="0.7"/>
<text x="430.10" y="95.10" font-size="7.0" fill="#333" text-anchor="end" textLength="30.12" lengthAdjust="spacingAndGlyphs" transform="rotate(-45 430.10 95.10)">CD19 CAR</text>
<rect x="432.70" y="81.02" width="2.20" height="4.48" fill="#c8102e" />
<line x1="433.80" y1="81.02" x2="433.80" y2="80.62" stroke="#c8102e" stroke-width="0.6"/>
<line x1="433.20" y1="80.62" x2="434.40" y2="80.62" stroke="#c8102e" stroke-width="0.6"/>
<rect x="436.30" y="58.65" width="2.20" height="26.85" fill="#1c3679" />
<line x1="437.40" y1="58.65" x2="437.40" y2="56.61" stroke="#1c3679" stroke-width="0.6"/>
<line x1="436.80" y1="56.61" x2="438.00" y2="56.61" stroke="#1c3679" stroke-width="0.6"/>
<line x1="435.60" y1="85.50" x2="435.60" y2="88.50" stroke="#333" stroke-width="0.7"/>
<text x="439.10" y="95.10" font-size="7.0" fill="#333" text-anchor="end" textLength="30.12" lengthAdjust="spacingAndGlyphs" transform="rotate(-45 439.10 95.10)">CD20 CAR</text>
<rect x="441.70" y="82.25" width="2.20" height="3.25" fill="#c8102e" />
<line x1="442.80" y1="82.25" x2="442.80" y2="81.84" stroke="#c8102e" stroke-width="0.6"/>
<line x1="442.20" y1="81.84" x2="443.40" y2="81.84" stroke="#c8102e" stroke-width="0.6"/>
<rect x="445.30" y="57.67" width="2.20" height="27.83" fill="#1c3679" />
<line x1="446.40" y1="57.67" x2="446.40" y2="53.60" stroke="#1c3679" stroke-width="0.6"/>
<line x1="445.80" y1="53.60" x2="447.00" y2="53.60" stroke="#1c3679" stroke-width="0.6"/>
<line x1="444.60" y1="85.50" x2="444.60" y2="88.50" stroke="#333" stroke-width="0.7"/>
<text x="448.10" y="95.10" font-size="7.0" fill="#333" text-anchor="end" textLength="26.06" lengthAdjust="spacingAndGlyphs" transform="rotate(-45 448.10 95.10)">TanCAR1</text>
<rect x="450.70" y="84.28" width="2.20" height="1.22" fill="#c8102e" />
<line x1="451.80" y1="84.28" x2="451.80" y2="83.87" stroke="#c8102e" stroke-width="0.6"/>
<line x1="451.20" y1="83.87" x2="452.40" y2="83.87" stroke="#c8102e" stroke-width="0.6"/>
<rect x="454.30" y="38.95" width="2.20" height="46.55" fill="#1c3679" />
<line x1="455.40" y1="38.95" x2="455.40" y2="37.73" stroke="#1c3679" stroke-width="0.6"/>
<line x1="454.80" y1="37.73" x2="456.00" y2="37.73" stroke="#1c3679" stroke-width="0.6"/>
<line x1="453.60" y1="85.50" x2="453.60" y2="88.50" stroke="#333" stroke-width="0.7"/>
<text x="457.10" y="95.10" font-size="7.0" fill="#333" text-anchor="end" textLength="26.06" lengthAdjust="spacingAndGlyphs" transform="rotate(-45 457.10 95.10)">TanCAR2</text>
<rect x="463.30" y="48.23" width="2.20" height="37.27" fill="#1c3679" />
<line x1="464.40" y1="48.23" x2="464.40" y2="47.01" stroke="#1c3679" stroke-width="0.6"/>
<line x1="463.80" y1="47.01" x2="465.00" y2="47.01" stroke="#1c3679" stroke-width="0.6"/>
<line x1="462.60" y1="85.50" x2="462.60" y2="88.50" stroke="#333" stroke-width="0.7"/>
<text x="466.10" y="95.10" font-size="7.0" fill="#333" text-anchor="end" textLength="26.06" lengthAdjust="spacingAndGlyphs" transform="rotate(-45 466.10 95.10)">TanCAR3</text>
<rect x="468.70" y="83.47" width="2.20" height="2.03" fill="#c8102e" />
<line x1="469.80" y1="83.47" x2="469.80" y2="83.06" stroke="#c8102e" stroke-width="0.6"/>
<line x1="469.20" y1="83.06" x2="470.40" y2="83.06" stroke="#c8102e" stroke-width="0.6"/>
<rect x="472.30" y="50.43" width="2.20" height="35.07" fill="#1c3679" />
<line x1="473.40" y1="50.43" x2="473.40" y2="47.99" stroke="#1c3679" stroke-width="0.6"/>
<line x1="472.80" y1="47.99" x2="474.00" y2="47.99" stroke="#1c3679" stroke-width="0.6"/>
<line x1="471.60" y1="85.50" x2="471.60" y2="88.50" stroke="#333" stroke-width="0.7"/>
<text x="475.10" y="95.10" font-size="7.0" fill="#333" text-anchor="end" textLength="26.06" lengthAdjust="spacingAndGlyphs" transform="rotate(-45 475.10 95.10)">TanCAR4</text>
<rect x="481.30" y="51.49" width="2.20" height="34.01" fill="#1c3679" />
<line x1="482.40" y1="51.49" x2="482.40" y2="50.26" stroke="#1c3679" stroke-width="0.6"/>
<line x1="481.80" y1="50.26" x2="483.00" y2="50.26" stroke="#1c3679" stroke-width="0.6"/>
<line x1="480.60" y1="85.50" x2="480.60" y2="88.50" stroke="#333" stroke-width="0.7"/>
<text x="484.10" y="95.10" font-size="7.0" fill="#333" text-anchor="end" textLength="26.06" lengthAdjust="spacingAndGlyphs" transform="rotate(-45 484.10 95.10)">TanCAR5</text>
<rect x="486.70" y="81.43" width="2.20" height="4.07" fill="#c8102e" />
<line x1="487.80" y1="81.43" x2="487.80" y2="81.02" stroke="#c8102e" stroke-width="0.6"/>
<line x1="487.20" y1="81.02" x2="488.40" y2="81.02" stroke="#c8102e" stroke-width="0.6"/>
<rect x="490.30" y="50.83" width="2.20" height="34.67" fill="#1c3679" />
<line x1="491.40" y1="50.83" x2="491.40" y2="49.21" stroke="#1c3679" stroke-width="0.6"/>
<line x1="490.80" y1="49.21" x2="492.00" y2="49.21" stroke="#1c3679" stroke-width="0.6"/>
<line x1="489.60" y1="85.50" x2="489.60" y2="88.50" stroke="#333" stroke-width="0.7"/>
<text x="493.10" y="95.10" font-size="7.0" fill="#333" text-anchor="end" textLength="26.06" lengthAdjust="spacingAndGlyphs" transform="rotate(-45 493.10 95.10)">TanCAR6</text>
<rect x="495.70" y="84.69" width="2.20" height="0.81" fill="#c8102e" />
<line x1="496.80" y1="84.69" x2="496.80" y2="84.28" stroke="#c8102e" stroke-width="0.6"/>
<line x1="496.20" y1="84.28" x2="497.40" y2="84.28" stroke="#c8102e" stroke-width="0.6"/>
<rect x="499.30" y="30.49" width="2.20" height="55.01" fill="#1c3679" />
<line x1="500.40" y1="30.49" x2="500.40" y2="28.46" stroke="#1c3679" stroke-width="0.6"/>
<line x1="499.80" y1="28.46" x2="501.00" y2="28.46" stroke="#1c3679" stroke-width="0.6"/>
<line x1="498.60" y1="85.50" x2="498.60" y2="88.50" stroke="#333" stroke-width="0.7"/>
<text x="502.10" y="95.10" font-size="7.0" fill="#333" text-anchor="end" textLength="26.06" lengthAdjust="spacingAndGlyphs" transform="rotate(-45 502.10 95.10)">TanCAR7</text>
<rect x="508.30" y="37.08" width="2.20" height="48.42" fill="#1c3679" />
<line x1="509.40" y1="37.08" x2="509.40" y2="35.05" stroke="#1c3679" stroke-width="0.6"/>
<line x1="508.80" y1="35.05" x2="510.00" y2="35.05" stroke="#1c3679" stroke-width="0.6"/>
<line x1="507.60" y1="85.50" x2="507.60" y2="88.50" stroke="#333" stroke-width="0.7"/>
<text x="511.10" y="95.10" font-size="7.0" fill="#333" text-anchor="end" textLength="26.06" lengthAdjust="spacingAndGlyphs" transform="rotate(-45 511.10 95.10)">TanCAR8</text>
<text x="500.40" y="29.10" font-size="6.5" fill="#222" text-anchor="middle" font-weight="normal" >*</text>
<line x1="413.60" y1="17.10" x2="413.60" y2="86.10" stroke="#555" stroke-width="1.5"/>
<line x1="413.00" y1="85.50" x2="512.50" y2="85.50" stroke="#222" stroke-width="1.1"/>
<line x1="410.60" y1="85.50" x2="413.60" y2="85.50" stroke="#333" stroke-width="0.9"/>
<text x="408.00" y="87.80" font-size="6.4" fill="#333" text-anchor="end" font-weight="normal"  textLength="3.74" lengthAdjust="spacingAndGlyphs">0</text>
<line x1="410.60" y1="69.22" x2="413.60" y2="69.22" stroke="#333" stroke-width="0.9"/>
<text x="408.00" y="71.52" font-size="6.4" fill="#333" text-anchor="end" font-weight="normal"  textLength="7.47" lengthAdjust="spacingAndGlyphs">20</text>
<line x1="410.60" y1="52.95" x2="413.60" y2="52.95" stroke="#333" stroke-width="0.9"/>
<text x="408.00" y="55.25" font-size="6.4" fill="#333" text-anchor="end" font-weight="normal"  textLength="7.47" lengthAdjust="spacingAndGlyphs">40</text>
<line x1="410.60" y1="36.68" x2="413.60" y2="36.68" stroke="#333" stroke-width="0.9"/>
<text x="408.00" y="38.98" font-size="6.4" fill="#333" text-anchor="end" font-weight="normal"  textLength="7.47" lengthAdjust="spacingAndGlyphs">60</text>
<line x1="410.60" y1="20.40" x2="413.60" y2="20.40" stroke="#333" stroke-width="0.9"/>
<text x="408.00" y="22.70" font-size="6.4" fill="#333" text-anchor="end" font-weight="normal"  textLength="7.47" lengthAdjust="spacingAndGlyphs">80</text>
<text x="396.20" y="51.40" font-size="6.9" fill="#333" text-anchor="middle" textLength="23.31" lengthAdjust="spacingAndGlyphs" transform="rotate(-90 396.20 51.40)">Lysis(%)</text>
<text x="463.50" y="125.70" font-size="8.4" fill="#2a2a2a" text-anchor="middle" font-weight="normal" stroke="#2a2a2a" stroke-width="0.18" textLength="55.80" lengthAdjust="spacingAndGlyphs">E:T=1:1 Time:24h</text>
<rect x="420.00" y="18.80" width="5.00" height="2.80" fill="#c8102e" />
<rect x="420.00" y="26.30" width="5.00" height="2.50" fill="#1c3679" />
<text x="428.00" y="22.20" font-size="6.0" fill="#555" text-anchor="start" font-weight="normal"  textLength="12.90" lengthAdjust="spacingAndGlyphs">K562</text>
<text x="428.00" y="29.60" font-size="6.0" fill="#555" text-anchor="start" font-weight="normal"  textLength="9.00" lengthAdjust="spacingAndGlyphs">Raji</text>
<rect x="414.75" y="198.89" width="2.50" height="6.30" fill="#c8102e" />
<line x1="416.00" y1="198.89" x2="416.00" y2="196.94" stroke="#c8102e" stroke-width="0.6"/>
<line x1="415.40" y1="196.94" x2="416.60" y2="196.94" stroke="#c8102e" stroke-width="0.6"/>
<rect x="418.35" y="202.27" width="2.50" height="2.93" fill="#1c3679" />
<line x1="419.60" y1="202.27" x2="419.60" y2="200.32" stroke="#1c3679" stroke-width="0.6"/>
<line x1="419.00" y1="200.32" x2="420.20" y2="200.32" stroke="#1c3679" stroke-width="0.6"/>
<line x1="417.80" y1="205.20" x2="417.80" y2="208.20" stroke="#333" stroke-width="0.7"/>
<text x="421.30" y="214.80" font-size="7.0" fill="#333" text-anchor="end" textLength="8.12" lengthAdjust="spacingAndGlyphs" transform="rotate(-45 421.30 214.80)">NT</text>
<rect x="423.74" y="200.97" width="2.50" height="4.23" fill="#c8102e" />
<line x1="424.99" y1="200.97" x2="424.99" y2="197.07" stroke="#c8102e" stroke-width="0.6"/>
<line x1="424.39" y1="197.07" x2="425.59" y2="197.07" stroke="#c8102e" stroke-width="0.6"/>
<rect x="427.34" y="152.94" width="2.50" height="52.26" fill="#1c3679" />
<line x1="428.59" y1="152.94" x2="428.59" y2="151.31" stroke="#1c3679" stroke-width="0.6"/>
<line x1="427.99" y1="151.31" x2="429.19" y2="151.31" stroke="#1c3679" stroke-width="0.6"/>
<line x1="426.79" y1="205.20" x2="426.79" y2="208.20" stroke="#333" stroke-width="0.7"/>
<text x="430.29" y="214.80" font-size="7.0" fill="#333" text-anchor="end" textLength="30.12" lengthAdjust="spacingAndGlyphs" transform="rotate(-45 430.29 214.80)">CD19 CAR</text>
<rect x="432.73" y="200.19" width="2.50" height="5.00" fill="#c8102e" />
<line x1="433.98" y1="200.19" x2="433.98" y2="195.64" stroke="#c8102e" stroke-width="0.6"/>
<line x1="433.38" y1="195.64" x2="434.58" y2="195.64" stroke="#c8102e" stroke-width="0.6"/>
<rect x="436.33" y="167.76" width="2.50" height="37.44" fill="#1c3679" />
<line x1="437.58" y1="167.76" x2="437.58" y2="165.16" stroke="#1c3679" stroke-width="0.6"/>
<line x1="436.98" y1="165.16" x2="438.18" y2="165.16" stroke="#1c3679" stroke-width="0.6"/>
<line x1="435.78" y1="205.20" x2="435.78" y2="208.20" stroke="#333" stroke-width="0.7"/>
<text x="439.28" y="214.80" font-size="7.0" fill="#333" text-anchor="end" textLength="30.12" lengthAdjust="spacingAndGlyphs" transform="rotate(-45 439.28 214.80)">CD20 CAR</text>
<rect x="441.72" y="200.19" width="2.50" height="5.00" fill="#c8102e" />
<line x1="442.97" y1="200.19" x2="442.97" y2="197.92" stroke="#c8102e" stroke-width="0.6"/>
<line x1="442.37" y1="197.92" x2="443.57" y2="197.92" stroke="#c8102e" stroke-width="0.6"/>
<rect x="445.32" y="167.76" width="2.50" height="37.44" fill="#1c3679" />
<line x1="446.57" y1="167.76" x2="446.57" y2="166.46" stroke="#1c3679" stroke-width="0.6"/>
<line x1="445.97" y1="166.46" x2="447.17" y2="166.46" stroke="#1c3679" stroke-width="0.6"/>
<line x1="444.77" y1="205.20" x2="444.77" y2="208.20" stroke="#333" stroke-width="0.7"/>
<text x="448.27" y="214.80" font-size="7.0" fill="#333" text-anchor="end" textLength="26.06" lengthAdjust="spacingAndGlyphs" transform="rotate(-45 448.27 214.80)">TanCAR1</text>
<rect x="450.71" y="202.27" width="2.50" height="2.93" fill="#c8102e" />
<line x1="451.96" y1="202.27" x2="451.96" y2="200.32" stroke="#c8102e" stroke-width="0.6"/>
<line x1="451.36" y1="200.32" x2="452.56" y2="200.32" stroke="#c8102e" stroke-width="0.6"/>
<rect x="454.31" y="156.12" width="2.50" height="49.08" fill="#1c3679" />
<line x1="455.56" y1="156.12" x2="455.56" y2="154.82" stroke="#1c3679" stroke-width="0.6"/>
<line x1="454.96" y1="154.82" x2="456.16" y2="154.82" stroke="#1c3679" stroke-width="0.6"/>
<line x1="453.76" y1="205.20" x2="453.76" y2="208.20" stroke="#333" stroke-width="0.7"/>
<text x="457.26" y="214.80" font-size="7.0" fill="#333" text-anchor="end" textLength="26.06" lengthAdjust="spacingAndGlyphs" transform="rotate(-45 457.26 214.80)">TanCAR2</text>
<rect x="459.70" y="201.49" width="2.50" height="3.71" fill="#c8102e" />
<line x1="460.95" y1="201.49" x2="460.95" y2="199.87" stroke="#c8102e" stroke-width="0.6"/>
<line x1="460.35" y1="199.87" x2="461.55" y2="199.87" stroke="#c8102e" stroke-width="0.6"/>
<rect x="463.30" y="155.41" width="2.50" height="49.79" fill="#1c3679" />
<line x1="464.55" y1="155.41" x2="464.55" y2="153.46" stroke="#1c3679" stroke-width="0.6"/>
<line x1="463.95" y1="153.46" x2="465.15" y2="153.46" stroke="#1c3679" stroke-width="0.6"/>
<line x1="462.75" y1="205.20" x2="462.75" y2="208.20" stroke="#333" stroke-width="0.7"/>
<text x="466.25" y="214.80" font-size="7.0" fill="#333" text-anchor="end" textLength="26.06" lengthAdjust="spacingAndGlyphs" transform="rotate(-45 466.25 214.80)">TanCAR3</text>
<rect x="468.69" y="198.89" width="2.50" height="6.30" fill="#c8102e" />
<line x1="469.94" y1="198.89" x2="469.94" y2="196.29" stroke="#c8102e" stroke-width="0.6"/>
<line x1="469.34" y1="196.29" x2="470.54" y2="196.29" stroke="#c8102e" stroke-width="0.6"/>
<rect x="472.29" y="158.66" width="2.50" height="46.54" fill="#1c3679" />
<line x1="473.54" y1="158.66" x2="473.54" y2="156.06" stroke="#1c3679" stroke-width="0.6"/>
<line x1="472.94" y1="156.06" x2="474.14" y2="156.06" stroke="#1c3679" stroke-width="0.6"/>
<line x1="471.74" y1="205.20" x2="471.74" y2="208.20" stroke="#333" stroke-width="0.7"/>
<text x="475.24" y="214.80" font-size="7.0" fill="#333" text-anchor="end" textLength="26.06" lengthAdjust="spacingAndGlyphs" transform="rotate(-45 475.24 214.80)">TanCAR4</text>
<rect x="477.68" y="200.97" width="2.50" height="4.23" fill="#c8102e" />
<line x1="478.93" y1="200.97" x2="478.93" y2="197.07" stroke="#c8102e" stroke-width="0.6"/>
<line x1="478.33" y1="197.07" x2="479.53" y2="197.07" stroke="#c8102e" stroke-width="0.6"/>
<rect x="481.28" y="158.66" width="2.50" height="46.54" fill="#1c3679" />
<line x1="482.53" y1="158.66" x2="482.53" y2="157.03" stroke="#1c3679" stroke-width="0.6"/>
<line x1="481.93" y1="157.03" x2="483.13" y2="157.03" stroke="#1c3679" stroke-width="0.6"/>
<line x1="480.73" y1="205.20" x2="480.73" y2="208.20" stroke="#333" stroke-width="0.7"/>
<text x="484.23" y="214.80" font-size="7.0" fill="#333" text-anchor="end" textLength="26.06" lengthAdjust="spacingAndGlyphs" transform="rotate(-45 484.23 214.80)">TanCAR5</text>
<rect x="486.67" y="200.97" width="2.50" height="4.23" fill="#c8102e" />
<line x1="487.92" y1="200.97" x2="487.92" y2="199.03" stroke="#c8102e" stroke-width="0.6"/>
<line x1="487.32" y1="199.03" x2="488.52" y2="199.03" stroke="#c8102e" stroke-width="0.6"/>
<rect x="490.27" y="154.44" width="2.50" height="50.77" fill="#1c3679" />
<line x1="491.52" y1="154.44" x2="491.52" y2="153.46" stroke="#1c3679" stroke-width="0.6"/>
<line x1="490.92" y1="153.46" x2="492.12" y2="153.46" stroke="#1c3679" stroke-width="0.6"/>
<line x1="489.72" y1="205.20" x2="489.72" y2="208.20" stroke="#333" stroke-width="0.7"/>
<text x="493.22" y="214.80" font-size="7.0" fill="#333" text-anchor="end" textLength="26.06" lengthAdjust="spacingAndGlyphs" transform="rotate(-45 493.22 214.80)">TanCAR6</text>
<rect x="495.66" y="201.95" width="2.50" height="3.25" fill="#c8102e" />
<line x1="496.91" y1="201.95" x2="496.91" y2="200.32" stroke="#c8102e" stroke-width="0.6"/>
<line x1="496.31" y1="200.32" x2="497.51" y2="200.32" stroke="#c8102e" stroke-width="0.6"/>
<rect x="499.26" y="147.61" width="2.50" height="57.59" fill="#1c3679" />
<line x1="500.51" y1="147.61" x2="500.51" y2="145.66" stroke="#1c3679" stroke-width="0.6"/>
<line x1="499.91" y1="145.66" x2="501.11" y2="145.66" stroke="#1c3679" stroke-width="0.6"/>
<line x1="498.71" y1="205.20" x2="498.71" y2="208.20" stroke="#333" stroke-width="0.7"/>
<text x="502.21" y="214.80" font-size="7.0" fill="#333" text-anchor="end" textLength="26.06" lengthAdjust="spacingAndGlyphs" transform="rotate(-45 502.21 214.80)">TanCAR7</text>
<rect x="504.65" y="199.48" width="2.50" height="5.72" fill="#c8102e" />
<line x1="505.90" y1="199.48" x2="505.90" y2="197.20" stroke="#c8102e" stroke-width="0.6"/>
<line x1="505.30" y1="197.20" x2="506.50" y2="197.20" stroke="#c8102e" stroke-width="0.6"/>
<rect x="508.25" y="149.69" width="2.50" height="55.51" fill="#1c3679" />
<line x1="509.50" y1="149.69" x2="509.50" y2="148.72" stroke="#1c3679" stroke-width="0.6"/>
<line x1="508.90" y1="148.72" x2="510.10" y2="148.72" stroke="#1c3679" stroke-width="0.6"/>
<line x1="507.70" y1="205.20" x2="507.70" y2="208.20" stroke="#333" stroke-width="0.7"/>
<text x="511.20" y="214.80" font-size="7.0" fill="#333" text-anchor="end" textLength="26.06" lengthAdjust="spacingAndGlyphs" transform="rotate(-45 511.20 214.80)">TanCAR8</text>
<text x="500.51" y="146.70" font-size="6.5" fill="#222" text-anchor="middle" font-weight="normal" >*</text>
<line x1="413.80" y1="136.90" x2="413.80" y2="205.80" stroke="#555" stroke-width="1.5"/>
<line x1="413.20" y1="205.20" x2="512.50" y2="205.20" stroke="#222" stroke-width="1.1"/>
<line x1="410.80" y1="205.20" x2="413.80" y2="205.20" stroke="#333" stroke-width="0.9"/>
<text x="408.20" y="207.50" font-size="6.4" fill="#333" text-anchor="end" font-weight="normal"  textLength="3.74" lengthAdjust="spacingAndGlyphs">0</text>
<line x1="410.80" y1="192.20" x2="413.80" y2="192.20" stroke="#333" stroke-width="0.9"/>
<text x="408.20" y="194.50" font-size="6.4" fill="#333" text-anchor="end" font-weight="normal"  textLength="7.47" lengthAdjust="spacingAndGlyphs">20</text>
<line x1="410.80" y1="179.20" x2="413.80" y2="179.20" stroke="#333" stroke-width="0.9"/>
<text x="408.20" y="181.50" font-size="6.4" fill="#333" text-anchor="end" font-weight="normal"  textLength="7.47" lengthAdjust="spacingAndGlyphs">40</text>
<line x1="410.80" y1="166.20" x2="413.80" y2="166.20" stroke="#333" stroke-width="0.9"/>
<text x="408.20" y="168.50" font-size="6.4" fill="#333" text-anchor="end" font-weight="normal"  textLength="7.47" lengthAdjust="spacingAndGlyphs">60</text>
<line x1="410.80" y1="153.20" x2="413.80" y2="153.20" stroke="#333" stroke-width="0.9"/>
<text x="408.20" y="155.50" font-size="6.4" fill="#333" text-anchor="end" font-weight="normal"  textLength="7.47" lengthAdjust="spacingAndGlyphs">80</text>
<line x1="410.80" y1="140.20" x2="413.80" y2="140.20" stroke="#333" stroke-width="0.9"/>
<text x="408.20" y="142.50" font-size="6.4" fill="#333" text-anchor="end" font-weight="normal"  textLength="11.21" lengthAdjust="spacingAndGlyphs">100</text>
<text x="392.60" y="171.40" font-size="6.9" fill="#333" text-anchor="middle" textLength="23.31" lengthAdjust="spacingAndGlyphs" transform="rotate(-90 392.60 171.40)">Lysis(%)</text>
<text x="463.50" y="245.70" font-size="8.4" fill="#2a2a2a" text-anchor="middle" font-weight="normal" stroke="#2a2a2a" stroke-width="0.18" textLength="55.80" lengthAdjust="spacingAndGlyphs">E:T=1:1 Time:48h</text>
<rect x="54.10" y="338.61" width="2.20" height="0.39" fill="#c8102e" />
<rect x="57.70" y="338.48" width="2.20" height="0.52" fill="#1c3679" />
<line x1="57.00" y1="339.00" x2="57.00" y2="342.00" stroke="#333" stroke-width="0.7"/>
<text x="60.50" y="348.60" font-size="7.0" fill="#333" text-anchor="end" textLength="8.12" lengthAdjust="spacingAndGlyphs" transform="rotate(-45 60.50 348.60)">NT</text>
<rect x="63.08" y="338.74" width="2.20" height="0.26" fill="#c8102e" />
<rect x="66.68" y="292.06" width="2.20" height="46.94" fill="#1c3679" />
<line x1="67.78" y1="292.06" x2="67.78" y2="289.00" stroke="#1c3679" stroke-width="0.6"/>
<line x1="67.18" y1="289.00" x2="68.38" y2="289.00" stroke="#1c3679" stroke-width="0.6"/>
<line x1="65.98" y1="339.00" x2="65.98" y2="342.00" stroke="#333" stroke-width="0.7"/>
<text x="69.48" y="348.60" font-size="7.0" fill="#333" text-anchor="end" textLength="30.12" lengthAdjust="spacingAndGlyphs" transform="rotate(-45 69.48 348.60)">CD19 CAR</text>
<rect x="72.06" y="337.17" width="2.20" height="1.83" fill="#c8102e" />
<rect x="75.66" y="287.10" width="2.20" height="51.90" fill="#1c3679" />
<line x1="76.76" y1="287.10" x2="76.76" y2="283.73" stroke="#1c3679" stroke-width="0.6"/>
<line x1="76.16" y1="283.73" x2="77.36" y2="283.73" stroke="#1c3679" stroke-width="0.6"/>
<line x1="74.96" y1="339.00" x2="74.96" y2="342.00" stroke="#333" stroke-width="0.7"/>
<text x="78.46" y="348.60" font-size="7.0" fill="#333" text-anchor="end" textLength="30.12" lengthAdjust="spacingAndGlyphs" transform="rotate(-45 78.46 348.60)">CD20 CAR</text>
<rect x="81.04" y="338.22" width="2.20" height="0.78" fill="#c8102e" />
<rect x="84.64" y="296.75" width="2.20" height="42.25" fill="#1c3679" />
<line x1="85.74" y1="296.75" x2="85.74" y2="294.00" stroke="#1c3679" stroke-width="0.6"/>
<line x1="85.14" y1="294.00" x2="86.34" y2="294.00" stroke="#1c3679" stroke-width="0.6"/>
<line x1="83.94" y1="339.00" x2="83.94" y2="342.00" stroke="#333" stroke-width="0.7"/>
<text x="87.44" y="348.60" font-size="7.0" fill="#333" text-anchor="end" textLength="26.06" lengthAdjust="spacingAndGlyphs" transform="rotate(-45 87.44 348.60)">TanCAR1</text>
<rect x="90.02" y="337.44" width="2.20" height="1.56" fill="#c8102e" />
<rect x="93.62" y="292.06" width="2.20" height="46.94" fill="#1c3679" />
<line x1="94.72" y1="292.06" x2="94.72" y2="289.00" stroke="#1c3679" stroke-width="0.6"/>
<line x1="94.12" y1="289.00" x2="95.32" y2="289.00" stroke="#1c3679" stroke-width="0.6"/>
<line x1="92.92" y1="339.00" x2="92.92" y2="342.00" stroke="#333" stroke-width="0.7"/>
<text x="96.42" y="348.60" font-size="7.0" fill="#333" text-anchor="end" textLength="26.06" lengthAdjust="spacingAndGlyphs" transform="rotate(-45 96.42 348.60)">TanCAR2</text>
<rect x="99.00" y="338.22" width="2.20" height="0.78" fill="#c8102e" />
<rect x="102.60" y="292.58" width="2.20" height="46.42" fill="#1c3679" />
<line x1="103.70" y1="292.58" x2="103.70" y2="289.56" stroke="#1c3679" stroke-width="0.6"/>
<line x1="103.10" y1="289.56" x2="104.30" y2="289.56" stroke="#1c3679" stroke-width="0.6"/>
<line x1="101.90" y1="339.00" x2="101.90" y2="342.00" stroke="#333" stroke-width="0.7"/>
<text x="105.40" y="348.60" font-size="7.0" fill="#333" text-anchor="end" textLength="26.06" lengthAdjust="spacingAndGlyphs" transform="rotate(-45 105.40 348.60)">TanCAR3</text>
<rect x="107.98" y="338.74" width="2.20" height="0.26" fill="#c8102e" />
<rect x="111.58" y="292.58" width="2.20" height="46.42" fill="#1c3679" />
<line x1="112.68" y1="292.58" x2="112.68" y2="289.56" stroke="#1c3679" stroke-width="0.6"/>
<line x1="112.08" y1="289.56" x2="113.28" y2="289.56" stroke="#1c3679" stroke-width="0.6"/>
<line x1="110.88" y1="339.00" x2="110.88" y2="342.00" stroke="#333" stroke-width="0.7"/>
<text x="114.38" y="348.60" font-size="7.0" fill="#333" text-anchor="end" textLength="26.06" lengthAdjust="spacingAndGlyphs" transform="rotate(-45 114.38 348.60)">TanCAR4</text>
<rect x="116.96" y="337.17" width="2.20" height="1.83" fill="#c8102e" />
<rect x="120.56" y="297.27" width="2.20" height="41.73" fill="#1c3679" />
<line x1="121.66" y1="297.27" x2="121.66" y2="294.56" stroke="#1c3679" stroke-width="0.6"/>
<line x1="121.06" y1="294.56" x2="122.26" y2="294.56" stroke="#1c3679" stroke-width="0.6"/>
<line x1="119.86" y1="339.00" x2="119.86" y2="342.00" stroke="#333" stroke-width="0.7"/>
<text x="123.36" y="348.60" font-size="7.0" fill="#333" text-anchor="end" textLength="26.06" lengthAdjust="spacingAndGlyphs" transform="rotate(-45 123.36 348.60)">TanCAR5</text>
<rect x="125.94" y="337.17" width="2.20" height="1.83" fill="#c8102e" />
<rect x="129.54" y="299.88" width="2.20" height="39.12" fill="#1c3679" />
<line x1="130.64" y1="299.88" x2="130.64" y2="297.34" stroke="#1c3679" stroke-width="0.6"/>
<line x1="130.04" y1="297.34" x2="131.24" y2="297.34" stroke="#1c3679" stroke-width="0.6"/>
<line x1="128.84" y1="339.00" x2="128.84" y2="342.00" stroke="#333" stroke-width="0.7"/>
<text x="132.34" y="348.60" font-size="7.0" fill="#333" text-anchor="end" textLength="26.06" lengthAdjust="spacingAndGlyphs" transform="rotate(-45 132.34 348.60)">TanCAR6</text>
<rect x="134.92" y="338.35" width="2.20" height="0.65" fill="#c8102e" />
<rect x="138.52" y="295.19" width="2.20" height="43.81" fill="#1c3679" />
<line x1="139.62" y1="295.19" x2="139.62" y2="292.34" stroke="#1c3679" stroke-width="0.6"/>
<line x1="139.02" y1="292.34" x2="140.22" y2="292.34" stroke="#1c3679" stroke-width="0.6"/>
<line x1="137.82" y1="339.00" x2="137.82" y2="342.00" stroke="#333" stroke-width="0.7"/>
<text x="141.32" y="348.60" font-size="7.0" fill="#333" text-anchor="end" textLength="26.06" lengthAdjust="spacingAndGlyphs" transform="rotate(-45 141.32 348.60)">TanCAR7</text>
<rect x="143.90" y="338.48" width="2.20" height="0.52" fill="#c8102e" />
<rect x="147.50" y="293.88" width="2.20" height="45.12" fill="#1c3679" />
<line x1="148.60" y1="293.88" x2="148.60" y2="290.95" stroke="#1c3679" stroke-width="0.6"/>
<line x1="148.00" y1="290.95" x2="149.20" y2="290.95" stroke="#1c3679" stroke-width="0.6"/>
<line x1="146.80" y1="339.00" x2="146.80" y2="342.00" stroke="#333" stroke-width="0.7"/>
<text x="150.30" y="348.60" font-size="7.0" fill="#333" text-anchor="end" textLength="26.06" lengthAdjust="spacingAndGlyphs" transform="rotate(-45 150.30 348.60)">TanCAR8</text>
<line x1="53.10" y1="270.50" x2="53.10" y2="339.60" stroke="#2a2a2a" stroke-width="1.15"/>
<line x1="52.50" y1="339.00" x2="151.80" y2="339.00" stroke="#222" stroke-width="1.1"/>
<line x1="50.10" y1="339.00" x2="53.10" y2="339.00" stroke="#333" stroke-width="0.9"/>
<text x="47.50" y="341.30" font-size="6.4" fill="#333" text-anchor="end" font-weight="normal"  textLength="3.74" lengthAdjust="spacingAndGlyphs">0</text>
<line x1="50.10" y1="325.96" x2="53.10" y2="325.96" stroke="#333" stroke-width="0.9"/>
<text x="47.50" y="328.26" font-size="6.4" fill="#333" text-anchor="end" font-weight="normal"  textLength="14.95" lengthAdjust="spacingAndGlyphs">5000</text>
<line x1="50.10" y1="312.92" x2="53.10" y2="312.92" stroke="#333" stroke-width="0.9"/>
<text x="47.50" y="315.22" font-size="6.4" fill="#333" text-anchor="end" font-weight="normal"  textLength="18.69" lengthAdjust="spacingAndGlyphs">10000</text>
<line x1="50.10" y1="299.88" x2="53.10" y2="299.88" stroke="#333" stroke-width="0.9"/>
<text x="47.50" y="302.18" font-size="6.4" fill="#333" text-anchor="end" font-weight="normal"  textLength="18.69" lengthAdjust="spacingAndGlyphs">15000</text>
<line x1="50.10" y1="286.84" x2="53.10" y2="286.84" stroke="#333" stroke-width="0.9"/>
<text x="47.50" y="289.14" font-size="6.4" fill="#333" text-anchor="end" font-weight="normal"  textLength="18.69" lengthAdjust="spacingAndGlyphs">20000</text>
<line x1="50.10" y1="273.80" x2="53.10" y2="273.80" stroke="#333" stroke-width="0.9"/>
<text x="47.50" y="276.10" font-size="6.4" fill="#333" text-anchor="end" font-weight="normal"  textLength="18.69" lengthAdjust="spacingAndGlyphs">25000</text>
<text x="23.60" y="304.80" font-size="7.6" fill="#333" text-anchor="middle" textLength="42.18" lengthAdjust="spacingAndGlyphs" transform="rotate(-90 23.60 304.80)">IFN-&#947; (pg/mL)</text>
<text x="102.30" y="264.70" font-size="8.7" fill="#333" text-anchor="middle" font-weight="normal"  textLength="22.11" lengthAdjust="spacingAndGlyphs">IFN-&#947;</text>
<text x="102.30" y="378.70" font-size="8.4" fill="#2a2a2a" text-anchor="middle" font-weight="normal" stroke="#2a2a2a" stroke-width="0.18" textLength="55.80" lengthAdjust="spacingAndGlyphs">E:T=1:1 Time:24h</text>
<line x1="198.50" y1="339.00" x2="198.50" y2="342.00" stroke="#333" stroke-width="0.7"/>
<text x="202.00" y="348.60" font-size="7.0" fill="#333" text-anchor="end" textLength="8.12" lengthAdjust="spacingAndGlyphs" transform="rotate(-45 202.00 348.60)">NT</text>
<rect x="208.17" y="290.10" width="2.20" height="48.90" fill="#1c3679" />
<line x1="209.27" y1="290.10" x2="209.27" y2="286.92" stroke="#1c3679" stroke-width="0.6"/>
<line x1="208.67" y1="286.92" x2="209.87" y2="286.92" stroke="#1c3679" stroke-width="0.6"/>
<line x1="207.47" y1="339.00" x2="207.47" y2="342.00" stroke="#333" stroke-width="0.7"/>
<text x="210.97" y="348.60" font-size="7.0" fill="#333" text-anchor="end" textLength="30.12" lengthAdjust="spacingAndGlyphs" transform="rotate(-45 210.97 348.60)">CD19 CAR</text>
<rect x="213.54" y="338.57" width="2.20" height="0.43" fill="#c8102e" />
<rect x="217.14" y="283.91" width="2.20" height="55.09" fill="#1c3679" />
<line x1="218.24" y1="283.91" x2="218.24" y2="280.32" stroke="#1c3679" stroke-width="0.6"/>
<line x1="217.64" y1="280.32" x2="218.84" y2="280.32" stroke="#1c3679" stroke-width="0.6"/>
<line x1="216.44" y1="339.00" x2="216.44" y2="342.00" stroke="#333" stroke-width="0.7"/>
<text x="219.94" y="348.60" font-size="7.0" fill="#333" text-anchor="end" textLength="30.12" lengthAdjust="spacingAndGlyphs" transform="rotate(-45 219.94 348.60)">CD20 CAR</text>
<rect x="226.11" y="321.07" width="2.20" height="17.93" fill="#1c3679" />
<line x1="227.21" y1="321.07" x2="227.21" y2="319.90" stroke="#1c3679" stroke-width="0.6"/>
<line x1="226.61" y1="319.90" x2="227.81" y2="319.90" stroke="#1c3679" stroke-width="0.6"/>
<line x1="225.41" y1="339.00" x2="225.41" y2="342.00" stroke="#333" stroke-width="0.7"/>
<text x="228.91" y="348.60" font-size="7.0" fill="#333" text-anchor="end" textLength="26.06" lengthAdjust="spacingAndGlyphs" transform="rotate(-45 228.91 348.60)">TanCAR1</text>
<rect x="235.08" y="293.36" width="2.20" height="45.64" fill="#1c3679" />
<line x1="236.18" y1="293.36" x2="236.18" y2="290.39" stroke="#1c3679" stroke-width="0.6"/>
<line x1="235.58" y1="290.39" x2="236.78" y2="290.39" stroke="#1c3679" stroke-width="0.6"/>
<line x1="234.38" y1="339.00" x2="234.38" y2="342.00" stroke="#333" stroke-width="0.7"/>
<text x="237.88" y="348.60" font-size="7.0" fill="#333" text-anchor="end" textLength="26.06" lengthAdjust="spacingAndGlyphs" transform="rotate(-45 237.88 348.60)">TanCAR2</text>
<rect x="244.05" y="311.62" width="2.20" height="27.38" fill="#1c3679" />
<line x1="245.15" y1="311.62" x2="245.15" y2="309.84" stroke="#1c3679" stroke-width="0.6"/>
<line x1="244.55" y1="309.84" x2="245.75" y2="309.84" stroke="#1c3679" stroke-width="0.6"/>
<line x1="243.35" y1="339.00" x2="243.35" y2="342.00" stroke="#333" stroke-width="0.7"/>
<text x="246.85" y="348.60" font-size="7.0" fill="#333" text-anchor="end" textLength="26.06" lengthAdjust="spacingAndGlyphs" transform="rotate(-45 246.85 348.60)">TanCAR3</text>
<rect x="253.02" y="312.05" width="2.20" height="26.95" fill="#1c3679" />
<line x1="254.12" y1="312.05" x2="254.12" y2="310.30" stroke="#1c3679" stroke-width="0.6"/>
<line x1="253.52" y1="310.30" x2="254.72" y2="310.30" stroke="#1c3679" stroke-width="0.6"/>
<line x1="252.32" y1="339.00" x2="252.32" y2="342.00" stroke="#333" stroke-width="0.7"/>
<text x="255.82" y="348.60" font-size="7.0" fill="#333" text-anchor="end" textLength="26.06" lengthAdjust="spacingAndGlyphs" transform="rotate(-45 255.82 348.60)">TanCAR4</text>
<rect x="261.99" y="316.94" width="2.20" height="22.06" fill="#1c3679" />
<line x1="263.09" y1="316.94" x2="263.09" y2="315.51" stroke="#1c3679" stroke-width="0.6"/>
<line x1="262.49" y1="315.51" x2="263.69" y2="315.51" stroke="#1c3679" stroke-width="0.6"/>
<line x1="261.29" y1="339.00" x2="261.29" y2="342.00" stroke="#333" stroke-width="0.7"/>
<text x="264.79" y="348.60" font-size="7.0" fill="#333" text-anchor="end" textLength="26.06" lengthAdjust="spacingAndGlyphs" transform="rotate(-45 264.79 348.60)">TanCAR5</text>
<rect x="270.96" y="307.49" width="2.20" height="31.51" fill="#1c3679" />
<line x1="272.06" y1="307.49" x2="272.06" y2="305.44" stroke="#1c3679" stroke-width="0.6"/>
<line x1="271.46" y1="305.44" x2="272.66" y2="305.44" stroke="#1c3679" stroke-width="0.6"/>
<line x1="270.26" y1="339.00" x2="270.26" y2="342.00" stroke="#333" stroke-width="0.7"/>
<text x="273.76" y="348.60" font-size="7.0" fill="#333" text-anchor="end" textLength="26.06" lengthAdjust="spacingAndGlyphs" transform="rotate(-45 273.76 348.60)">TanCAR6</text>
<rect x="279.93" y="298.79" width="2.20" height="40.21" fill="#1c3679" />
<line x1="281.03" y1="298.79" x2="281.03" y2="296.18" stroke="#1c3679" stroke-width="0.6"/>
<line x1="280.43" y1="296.18" x2="281.63" y2="296.18" stroke="#1c3679" stroke-width="0.6"/>
<line x1="279.23" y1="339.00" x2="279.23" y2="342.00" stroke="#333" stroke-width="0.7"/>
<text x="282.73" y="348.60" font-size="7.0" fill="#333" text-anchor="end" textLength="26.06" lengthAdjust="spacingAndGlyphs" transform="rotate(-45 282.73 348.60)">TanCAR7</text>
<rect x="288.90" y="303.47" width="2.20" height="35.53" fill="#1c3679" />
<line x1="290.00" y1="303.47" x2="290.00" y2="301.16" stroke="#1c3679" stroke-width="0.6"/>
<line x1="289.40" y1="301.16" x2="290.60" y2="301.16" stroke="#1c3679" stroke-width="0.6"/>
<line x1="288.20" y1="339.00" x2="288.20" y2="342.00" stroke="#333" stroke-width="0.7"/>
<text x="291.70" y="348.60" font-size="7.0" fill="#333" text-anchor="end" textLength="26.06" lengthAdjust="spacingAndGlyphs" transform="rotate(-45 291.70 348.60)">TanCAR8</text>
<line x1="194.50" y1="270.50" x2="194.50" y2="339.60" stroke="#2a2a2a" stroke-width="1.15"/>
<line x1="193.90" y1="339.00" x2="293.00" y2="339.00" stroke="#222" stroke-width="1.1"/>
<line x1="191.50" y1="339.00" x2="194.50" y2="339.00" stroke="#333" stroke-width="0.9"/>
<text x="188.90" y="341.30" font-size="6.4" fill="#333" text-anchor="end" font-weight="normal"  textLength="3.74" lengthAdjust="spacingAndGlyphs">0</text>
<line x1="191.50" y1="317.27" x2="194.50" y2="317.27" stroke="#333" stroke-width="0.9"/>
<text x="188.90" y="319.57" font-size="6.4" fill="#333" text-anchor="end" font-weight="normal"  textLength="14.95" lengthAdjust="spacingAndGlyphs">2000</text>
<line x1="191.50" y1="295.53" x2="194.50" y2="295.53" stroke="#333" stroke-width="0.9"/>
<text x="188.90" y="297.83" font-size="6.4" fill="#333" text-anchor="end" font-weight="normal"  textLength="14.95" lengthAdjust="spacingAndGlyphs">4000</text>
<line x1="191.50" y1="273.80" x2="194.50" y2="273.80" stroke="#333" stroke-width="0.9"/>
<text x="188.90" y="276.10" font-size="6.4" fill="#333" text-anchor="end" font-weight="normal"  textLength="14.95" lengthAdjust="spacingAndGlyphs">6000</text>
<text x="168.00" y="304.80" font-size="7.6" fill="#333" text-anchor="middle" textLength="37.25" lengthAdjust="spacingAndGlyphs" transform="rotate(-90 168.00 304.80)">IL-2 (pg/mL)</text>
<text x="243.50" y="264.70" font-size="8.7" fill="#333" text-anchor="middle" font-weight="normal"  textLength="15.59" lengthAdjust="spacingAndGlyphs">IL-2</text>
<text x="243.50" y="378.70" font-size="8.4" fill="#2a2a2a" text-anchor="middle" font-weight="normal" stroke="#2a2a2a" stroke-width="0.18" textLength="55.80" lengthAdjust="spacingAndGlyphs">E:T=1:1 Time:24h</text>
<rect x="337.50" y="338.67" width="2.20" height="0.33" fill="#c8102e" />
<rect x="341.10" y="338.35" width="2.20" height="0.65" fill="#1c3679" />
<line x1="340.40" y1="339.00" x2="340.40" y2="342.00" stroke="#333" stroke-width="0.7"/>
<text x="343.90" y="348.60" font-size="7.0" fill="#333" text-anchor="end" textLength="8.12" lengthAdjust="spacingAndGlyphs" transform="rotate(-45 343.90 348.60)">NT</text>
<rect x="350.12" y="294.83" width="2.20" height="44.17" fill="#1c3679" />
<line x1="351.22" y1="294.83" x2="351.22" y2="291.96" stroke="#1c3679" stroke-width="0.6"/>
<line x1="350.62" y1="291.96" x2="351.82" y2="291.96" stroke="#1c3679" stroke-width="0.6"/>
<line x1="349.42" y1="339.00" x2="349.42" y2="342.00" stroke="#333" stroke-width="0.7"/>
<text x="352.92" y="348.60" font-size="7.0" fill="#333" text-anchor="end" textLength="30.12" lengthAdjust="spacingAndGlyphs" transform="rotate(-45 352.92 348.60)">CD19 CAR</text>
<rect x="355.54" y="338.67" width="2.20" height="0.33" fill="#c8102e" />
<rect x="359.14" y="291.73" width="2.20" height="47.27" fill="#1c3679" />
<line x1="360.24" y1="291.73" x2="360.24" y2="288.66" stroke="#1c3679" stroke-width="0.6"/>
<line x1="359.64" y1="288.66" x2="360.84" y2="288.66" stroke="#1c3679" stroke-width="0.6"/>
<line x1="358.44" y1="339.00" x2="358.44" y2="342.00" stroke="#333" stroke-width="0.7"/>
<text x="361.94" y="348.60" font-size="7.0" fill="#333" text-anchor="end" textLength="30.12" lengthAdjust="spacingAndGlyphs" transform="rotate(-45 361.94 348.60)">CD20 CAR</text>
<rect x="364.56" y="338.67" width="2.20" height="0.33" fill="#c8102e" />
<rect x="368.16" y="317.48" width="2.20" height="21.52" fill="#1c3679" />
<line x1="369.26" y1="317.48" x2="369.26" y2="316.09" stroke="#1c3679" stroke-width="0.6"/>
<line x1="368.66" y1="316.09" x2="369.86" y2="316.09" stroke="#1c3679" stroke-width="0.6"/>
<line x1="367.46" y1="339.00" x2="367.46" y2="342.00" stroke="#333" stroke-width="0.7"/>
<text x="370.96" y="348.60" font-size="7.0" fill="#333" text-anchor="end" textLength="26.06" lengthAdjust="spacingAndGlyphs" transform="rotate(-45 370.96 348.60)">TanCAR1</text>
<rect x="377.18" y="307.54" width="2.20" height="31.46" fill="#1c3679" />
<line x1="378.28" y1="307.54" x2="378.28" y2="305.50" stroke="#1c3679" stroke-width="0.6"/>
<line x1="377.68" y1="305.50" x2="378.88" y2="305.50" stroke="#1c3679" stroke-width="0.6"/>
<line x1="376.48" y1="339.00" x2="376.48" y2="342.00" stroke="#333" stroke-width="0.7"/>
<text x="379.98" y="348.60" font-size="7.0" fill="#333" text-anchor="end" textLength="26.06" lengthAdjust="spacingAndGlyphs" transform="rotate(-45 379.98 348.60)">TanCAR2</text>
<rect x="382.60" y="338.67" width="2.20" height="0.33" fill="#c8102e" />
<rect x="386.20" y="306.24" width="2.20" height="32.76" fill="#1c3679" />
<line x1="387.30" y1="306.24" x2="387.30" y2="304.11" stroke="#1c3679" stroke-width="0.6"/>
<line x1="386.70" y1="304.11" x2="387.90" y2="304.11" stroke="#1c3679" stroke-width="0.6"/>
<line x1="385.50" y1="339.00" x2="385.50" y2="342.00" stroke="#333" stroke-width="0.7"/>
<text x="389.00" y="348.60" font-size="7.0" fill="#333" text-anchor="end" textLength="26.06" lengthAdjust="spacingAndGlyphs" transform="rotate(-45 389.00 348.60)">TanCAR3</text>
<rect x="395.22" y="299.39" width="2.20" height="39.61" fill="#1c3679" />
<line x1="396.32" y1="299.39" x2="396.32" y2="296.82" stroke="#1c3679" stroke-width="0.6"/>
<line x1="395.72" y1="296.82" x2="396.92" y2="296.82" stroke="#1c3679" stroke-width="0.6"/>
<line x1="394.52" y1="339.00" x2="394.52" y2="342.00" stroke="#333" stroke-width="0.7"/>
<text x="398.02" y="348.60" font-size="7.0" fill="#333" text-anchor="end" textLength="26.06" lengthAdjust="spacingAndGlyphs" transform="rotate(-45 398.02 348.60)">TanCAR4</text>
<rect x="404.24" y="310.15" width="2.20" height="28.85" fill="#1c3679" />
<line x1="405.34" y1="310.15" x2="405.34" y2="308.27" stroke="#1c3679" stroke-width="0.6"/>
<line x1="404.74" y1="308.27" x2="405.94" y2="308.27" stroke="#1c3679" stroke-width="0.6"/>
<line x1="403.54" y1="339.00" x2="403.54" y2="342.00" stroke="#333" stroke-width="0.7"/>
<text x="407.04" y="348.60" font-size="7.0" fill="#333" text-anchor="end" textLength="26.06" lengthAdjust="spacingAndGlyphs" transform="rotate(-45 407.04 348.60)">TanCAR5</text>
<rect x="413.26" y="302.16" width="2.20" height="36.84" fill="#1c3679" />
<line x1="414.36" y1="302.16" x2="414.36" y2="299.77" stroke="#1c3679" stroke-width="0.6"/>
<line x1="413.76" y1="299.77" x2="414.96" y2="299.77" stroke="#1c3679" stroke-width="0.6"/>
<line x1="412.56" y1="339.00" x2="412.56" y2="342.00" stroke="#333" stroke-width="0.7"/>
<text x="416.06" y="348.60" font-size="7.0" fill="#333" text-anchor="end" textLength="26.06" lengthAdjust="spacingAndGlyphs" transform="rotate(-45 416.06 348.60)">TanCAR6</text>
<rect x="422.28" y="296.62" width="2.20" height="42.38" fill="#1c3679" />
<line x1="423.38" y1="296.62" x2="423.38" y2="293.87" stroke="#1c3679" stroke-width="0.6"/>
<line x1="422.78" y1="293.87" x2="423.98" y2="293.87" stroke="#1c3679" stroke-width="0.6"/>
<line x1="421.58" y1="339.00" x2="421.58" y2="342.00" stroke="#333" stroke-width="0.7"/>
<text x="425.08" y="348.60" font-size="7.0" fill="#333" text-anchor="end" textLength="26.06" lengthAdjust="spacingAndGlyphs" transform="rotate(-45 425.08 348.60)">TanCAR7</text>
<rect x="431.30" y="298.09" width="2.20" height="40.91" fill="#1c3679" />
<line x1="432.40" y1="298.09" x2="432.40" y2="295.43" stroke="#1c3679" stroke-width="0.6"/>
<line x1="431.80" y1="295.43" x2="433.00" y2="295.43" stroke="#1c3679" stroke-width="0.6"/>
<line x1="430.60" y1="339.00" x2="430.60" y2="342.00" stroke="#333" stroke-width="0.7"/>
<text x="434.10" y="348.60" font-size="7.0" fill="#333" text-anchor="end" textLength="26.06" lengthAdjust="spacingAndGlyphs" transform="rotate(-45 434.10 348.60)">TanCAR8</text>
<line x1="336.30" y1="270.50" x2="336.30" y2="339.60" stroke="#2a2a2a" stroke-width="1.15"/>
<line x1="335.70" y1="339.00" x2="434.90" y2="339.00" stroke="#222" stroke-width="1.1"/>
<line x1="333.30" y1="339.00" x2="336.30" y2="339.00" stroke="#333" stroke-width="0.9"/>
<text x="330.70" y="341.30" font-size="6.4" fill="#333" text-anchor="end" font-weight="normal"  textLength="3.74" lengthAdjust="spacingAndGlyphs">0</text>
<line x1="333.30" y1="322.70" x2="336.30" y2="322.70" stroke="#333" stroke-width="0.9"/>
<text x="330.70" y="325.00" font-size="6.4" fill="#333" text-anchor="end" font-weight="normal"  textLength="11.21" lengthAdjust="spacingAndGlyphs">500</text>
<line x1="333.30" y1="306.40" x2="336.30" y2="306.40" stroke="#333" stroke-width="0.9"/>
<text x="330.70" y="308.70" font-size="6.4" fill="#333" text-anchor="end" font-weight="normal"  textLength="14.95" lengthAdjust="spacingAndGlyphs">1000</text>
<line x1="333.30" y1="290.10" x2="336.30" y2="290.10" stroke="#333" stroke-width="0.9"/>
<text x="330.70" y="292.40" font-size="6.4" fill="#333" text-anchor="end" font-weight="normal"  textLength="14.95" lengthAdjust="spacingAndGlyphs">1500</text>
<line x1="333.30" y1="273.80" x2="336.30" y2="273.80" stroke="#333" stroke-width="0.9"/>
<text x="330.70" y="276.10" font-size="6.4" fill="#333" text-anchor="end" font-weight="normal"  textLength="14.95" lengthAdjust="spacingAndGlyphs">2000</text>
<text x="309.50" y="304.80" font-size="7.6" fill="#333" text-anchor="middle" textLength="44.99" lengthAdjust="spacingAndGlyphs" transform="rotate(-90 309.50 304.80)">TNF-&#945; (pg/mL)</text>
<text x="386.00" y="264.70" font-size="8.7" fill="#333" text-anchor="middle" font-weight="normal"  textLength="25.83" lengthAdjust="spacingAndGlyphs">TNF-&#945;</text>
<text x="386.00" y="378.70" font-size="8.4" fill="#2a2a2a" text-anchor="middle" font-weight="normal" stroke="#2a2a2a" stroke-width="0.18" textLength="55.80" lengthAdjust="spacingAndGlyphs">E:T=1:1 Time:24h</text>
<rect x="54.10" y="470.65" width="2.20" height="1.05" fill="#c8102e" />
<rect x="57.70" y="470.91" width="2.20" height="0.79" fill="#1c3679" />
<line x1="57.00" y1="471.70" x2="57.00" y2="474.70" stroke="#333" stroke-width="0.7"/>
<text x="60.50" y="481.30" font-size="7.0" fill="#333" text-anchor="end" textLength="8.12" lengthAdjust="spacingAndGlyphs" transform="rotate(-45 60.50 481.30)">NT</text>
<rect x="63.08" y="470.39" width="2.20" height="1.31" fill="#c8102e" />
<rect x="66.68" y="423.62" width="2.20" height="48.08" fill="#1c3679" />
<line x1="67.78" y1="423.62" x2="67.78" y2="420.50" stroke="#1c3679" stroke-width="0.6"/>
<line x1="67.18" y1="420.50" x2="68.38" y2="420.50" stroke="#1c3679" stroke-width="0.6"/>
<line x1="65.98" y1="471.70" x2="65.98" y2="474.70" stroke="#333" stroke-width="0.7"/>
<text x="69.48" y="481.30" font-size="7.0" fill="#333" text-anchor="end" textLength="30.12" lengthAdjust="spacingAndGlyphs" transform="rotate(-45 69.48 481.30)">CD19 CAR</text>
<rect x="72.06" y="469.87" width="2.20" height="1.83" fill="#c8102e" />
<rect x="75.66" y="421.40" width="2.20" height="50.30" fill="#1c3679" />
<line x1="76.76" y1="421.40" x2="76.76" y2="418.13" stroke="#1c3679" stroke-width="0.6"/>
<line x1="76.16" y1="418.13" x2="77.36" y2="418.13" stroke="#1c3679" stroke-width="0.6"/>
<line x1="74.96" y1="471.70" x2="74.96" y2="474.70" stroke="#333" stroke-width="0.7"/>
<text x="78.46" y="481.30" font-size="7.0" fill="#333" text-anchor="end" textLength="30.12" lengthAdjust="spacingAndGlyphs" transform="rotate(-45 78.46 481.30)">CD20 CAR</text>
<rect x="81.04" y="469.34" width="2.20" height="2.36" fill="#c8102e" />
<rect x="84.64" y="423.62" width="2.20" height="48.08" fill="#1c3679" />
<line x1="85.74" y1="423.62" x2="85.74" y2="420.50" stroke="#1c3679" stroke-width="0.6"/>
<line x1="85.14" y1="420.50" x2="86.34" y2="420.50" stroke="#1c3679" stroke-width="0.6"/>
<line x1="83.94" y1="471.70" x2="83.94" y2="474.70" stroke="#333" stroke-width="0.7"/>
<text x="87.44" y="481.30" font-size="7.0" fill="#333" text-anchor="end" textLength="26.06" lengthAdjust="spacingAndGlyphs" transform="rotate(-45 87.44 481.30)">TanCAR1</text>
<rect x="90.02" y="470.91" width="2.20" height="0.79" fill="#c8102e" />
<rect x="93.62" y="425.46" width="2.20" height="46.24" fill="#1c3679" />
<line x1="94.72" y1="425.46" x2="94.72" y2="422.45" stroke="#1c3679" stroke-width="0.6"/>
<line x1="94.12" y1="422.45" x2="95.32" y2="422.45" stroke="#1c3679" stroke-width="0.6"/>
<line x1="92.92" y1="471.70" x2="92.92" y2="474.70" stroke="#333" stroke-width="0.7"/>
<text x="96.42" y="481.30" font-size="7.0" fill="#333" text-anchor="end" textLength="26.06" lengthAdjust="spacingAndGlyphs" transform="rotate(-45 96.42 481.30)">TanCAR2</text>
<rect x="99.00" y="470.13" width="2.20" height="1.57" fill="#c8102e" />
<rect x="102.60" y="423.62" width="2.20" height="48.08" fill="#1c3679" />
<line x1="103.70" y1="423.62" x2="103.70" y2="420.50" stroke="#1c3679" stroke-width="0.6"/>
<line x1="103.10" y1="420.50" x2="104.30" y2="420.50" stroke="#1c3679" stroke-width="0.6"/>
<line x1="101.90" y1="471.70" x2="101.90" y2="474.70" stroke="#333" stroke-width="0.7"/>
<text x="105.40" y="481.30" font-size="7.0" fill="#333" text-anchor="end" textLength="26.06" lengthAdjust="spacingAndGlyphs" transform="rotate(-45 105.40 481.30)">TanCAR3</text>
<rect x="107.98" y="470.39" width="2.20" height="1.31" fill="#c8102e" />
<rect x="111.58" y="422.71" width="2.20" height="48.99" fill="#1c3679" />
<line x1="112.68" y1="422.71" x2="112.68" y2="419.52" stroke="#1c3679" stroke-width="0.6"/>
<line x1="112.08" y1="419.52" x2="113.28" y2="419.52" stroke="#1c3679" stroke-width="0.6"/>
<line x1="110.88" y1="471.70" x2="110.88" y2="474.70" stroke="#333" stroke-width="0.7"/>
<text x="114.38" y="481.30" font-size="7.0" fill="#333" text-anchor="end" textLength="26.06" lengthAdjust="spacingAndGlyphs" transform="rotate(-45 114.38 481.30)">TanCAR4</text>
<rect x="116.96" y="469.60" width="2.20" height="2.10" fill="#c8102e" />
<rect x="120.56" y="423.62" width="2.20" height="48.08" fill="#1c3679" />
<line x1="121.66" y1="423.62" x2="121.66" y2="420.50" stroke="#1c3679" stroke-width="0.6"/>
<line x1="121.06" y1="420.50" x2="122.26" y2="420.50" stroke="#1c3679" stroke-width="0.6"/>
<line x1="119.86" y1="471.70" x2="119.86" y2="474.70" stroke="#333" stroke-width="0.7"/>
<text x="123.36" y="481.30" font-size="7.0" fill="#333" text-anchor="end" textLength="26.06" lengthAdjust="spacingAndGlyphs" transform="rotate(-45 123.36 481.30)">TanCAR5</text>
<rect x="125.94" y="469.60" width="2.20" height="2.10" fill="#c8102e" />
<rect x="129.54" y="424.02" width="2.20" height="47.68" fill="#1c3679" />
<line x1="130.64" y1="424.02" x2="130.64" y2="420.92" stroke="#1c3679" stroke-width="0.6"/>
<line x1="130.04" y1="420.92" x2="131.24" y2="420.92" stroke="#1c3679" stroke-width="0.6"/>
<line x1="128.84" y1="471.70" x2="128.84" y2="474.70" stroke="#333" stroke-width="0.7"/>
<text x="132.34" y="481.30" font-size="7.0" fill="#333" text-anchor="end" textLength="26.06" lengthAdjust="spacingAndGlyphs" transform="rotate(-45 132.34 481.30)">TanCAR6</text>
<rect x="134.92" y="469.08" width="2.20" height="2.62" fill="#c8102e" />
<rect x="138.52" y="424.02" width="2.20" height="47.68" fill="#1c3679" />
<line x1="139.62" y1="424.02" x2="139.62" y2="420.92" stroke="#1c3679" stroke-width="0.6"/>
<line x1="139.02" y1="420.92" x2="140.22" y2="420.92" stroke="#1c3679" stroke-width="0.6"/>
<line x1="137.82" y1="471.70" x2="137.82" y2="474.70" stroke="#333" stroke-width="0.7"/>
<text x="141.32" y="481.30" font-size="7.0" fill="#333" text-anchor="end" textLength="26.06" lengthAdjust="spacingAndGlyphs" transform="rotate(-45 141.32 481.30)">TanCAR7</text>
<rect x="143.90" y="470.39" width="2.20" height="1.31" fill="#c8102e" />
<rect x="147.50" y="422.18" width="2.20" height="49.52" fill="#1c3679" />
<line x1="148.60" y1="422.18" x2="148.60" y2="418.96" stroke="#1c3679" stroke-width="0.6"/>
<line x1="148.00" y1="418.96" x2="149.20" y2="418.96" stroke="#1c3679" stroke-width="0.6"/>
<line x1="146.80" y1="471.70" x2="146.80" y2="474.70" stroke="#333" stroke-width="0.7"/>
<text x="150.30" y="481.30" font-size="7.0" fill="#333" text-anchor="end" textLength="26.06" lengthAdjust="spacingAndGlyphs" transform="rotate(-45 150.30 481.30)">TanCAR8</text>
<line x1="53.10" y1="402.90" x2="53.10" y2="472.30" stroke="#2a2a2a" stroke-width="1.15"/>
<line x1="52.50" y1="471.70" x2="151.80" y2="471.70" stroke="#222" stroke-width="1.1"/>
<line x1="50.10" y1="471.70" x2="53.10" y2="471.70" stroke="#333" stroke-width="0.9"/>
<text x="47.50" y="474.00" font-size="6.4" fill="#333" text-anchor="end" font-weight="normal"  textLength="3.74" lengthAdjust="spacingAndGlyphs">0</text>
<line x1="50.10" y1="458.60" x2="53.10" y2="458.60" stroke="#333" stroke-width="0.9"/>
<text x="47.50" y="460.90" font-size="6.4" fill="#333" text-anchor="end" font-weight="normal"  textLength="14.95" lengthAdjust="spacingAndGlyphs">5000</text>
<line x1="50.10" y1="445.50" x2="53.10" y2="445.50" stroke="#333" stroke-width="0.9"/>
<text x="47.50" y="447.80" font-size="6.4" fill="#333" text-anchor="end" font-weight="normal"  textLength="18.69" lengthAdjust="spacingAndGlyphs">10000</text>
<line x1="50.10" y1="432.40" x2="53.10" y2="432.40" stroke="#333" stroke-width="0.9"/>
<text x="47.50" y="434.70" font-size="6.4" fill="#333" text-anchor="end" font-weight="normal"  textLength="18.69" lengthAdjust="spacingAndGlyphs">15000</text>
<line x1="50.10" y1="419.30" x2="53.10" y2="419.30" stroke="#333" stroke-width="0.9"/>
<text x="47.50" y="421.60" font-size="6.4" fill="#333" text-anchor="end" font-weight="normal"  textLength="18.69" lengthAdjust="spacingAndGlyphs">20000</text>
<line x1="50.10" y1="406.20" x2="53.10" y2="406.20" stroke="#333" stroke-width="0.9"/>
<text x="47.50" y="408.50" font-size="6.4" fill="#333" text-anchor="end" font-weight="normal"  textLength="18.69" lengthAdjust="spacingAndGlyphs">25000</text>
<text x="23.60" y="437.30" font-size="7.6" fill="#333" text-anchor="middle" textLength="42.18" lengthAdjust="spacingAndGlyphs" transform="rotate(-90 23.60 437.30)">IFN-&#947; (pg/mL)</text>
<text x="102.30" y="397.70" font-size="8.7" fill="#333" text-anchor="middle" font-weight="normal"  textLength="22.11" lengthAdjust="spacingAndGlyphs">IFN-&#947;</text>
<text x="102.30" y="511.40" font-size="8.4" fill="#2a2a2a" text-anchor="middle" font-weight="normal" stroke="#2a2a2a" stroke-width="0.18" textLength="55.80" lengthAdjust="spacingAndGlyphs">E:T=1:1 Time:48h</text>
<rect x="195.60" y="471.50" width="2.20" height="0.20" fill="#c8102e" />
<rect x="199.20" y="471.20" width="2.20" height="0.50" fill="#1c3679" />
<line x1="198.50" y1="471.70" x2="198.50" y2="474.70" stroke="#333" stroke-width="0.7"/>
<text x="202.00" y="481.30" font-size="7.0" fill="#333" text-anchor="end" textLength="8.12" lengthAdjust="spacingAndGlyphs" transform="rotate(-45 202.00 481.30)">NT</text>
<rect x="204.57" y="471.50" width="2.20" height="0.20" fill="#c8102e" />
<rect x="208.17" y="424.54" width="2.20" height="47.16" fill="#1c3679" />
<line x1="209.27" y1="424.54" x2="209.27" y2="421.47" stroke="#1c3679" stroke-width="0.6"/>
<line x1="208.67" y1="421.47" x2="209.87" y2="421.47" stroke="#1c3679" stroke-width="0.6"/>
<line x1="207.47" y1="471.70" x2="207.47" y2="474.70" stroke="#333" stroke-width="0.7"/>
<text x="210.97" y="481.30" font-size="7.0" fill="#333" text-anchor="end" textLength="30.12" lengthAdjust="spacingAndGlyphs" transform="rotate(-45 210.97 481.30)">CD19 CAR</text>
<rect x="213.54" y="471.30" width="2.20" height="0.40" fill="#c8102e" />
<rect x="217.14" y="412.35" width="2.20" height="59.35" fill="#1c3679" />
<line x1="218.24" y1="412.35" x2="218.24" y2="408.49" stroke="#1c3679" stroke-width="0.6"/>
<line x1="217.64" y1="408.49" x2="218.84" y2="408.49" stroke="#1c3679" stroke-width="0.6"/>
<line x1="216.44" y1="471.70" x2="216.44" y2="474.70" stroke="#333" stroke-width="0.7"/>
<text x="219.94" y="481.30" font-size="7.0" fill="#333" text-anchor="end" textLength="30.12" lengthAdjust="spacingAndGlyphs" transform="rotate(-45 219.94 481.30)">CD20 CAR</text>
<rect x="226.11" y="441.37" width="2.20" height="30.33" fill="#1c3679" />
<line x1="227.21" y1="441.37" x2="227.21" y2="439.40" stroke="#1c3679" stroke-width="0.6"/>
<line x1="226.61" y1="439.40" x2="227.81" y2="439.40" stroke="#1c3679" stroke-width="0.6"/>
<line x1="225.41" y1="471.70" x2="225.41" y2="474.70" stroke="#333" stroke-width="0.7"/>
<text x="228.91" y="481.30" font-size="7.0" fill="#333" text-anchor="end" textLength="26.06" lengthAdjust="spacingAndGlyphs" transform="rotate(-45 228.91 481.30)">TanCAR1</text>
<rect x="235.08" y="422.52" width="2.20" height="49.18" fill="#1c3679" />
<line x1="236.18" y1="422.52" x2="236.18" y2="419.33" stroke="#1c3679" stroke-width="0.6"/>
<line x1="235.58" y1="419.33" x2="236.78" y2="419.33" stroke="#1c3679" stroke-width="0.6"/>
<line x1="234.38" y1="471.70" x2="234.38" y2="474.70" stroke="#333" stroke-width="0.7"/>
<text x="237.88" y="481.30" font-size="7.0" fill="#333" text-anchor="end" textLength="26.06" lengthAdjust="spacingAndGlyphs" transform="rotate(-45 237.88 481.30)">TanCAR2</text>
<rect x="244.05" y="435.42" width="2.20" height="36.28" fill="#1c3679" />
<line x1="245.15" y1="435.42" x2="245.15" y2="433.07" stroke="#1c3679" stroke-width="0.6"/>
<line x1="244.55" y1="433.07" x2="245.75" y2="433.07" stroke="#1c3679" stroke-width="0.6"/>
<line x1="243.35" y1="471.70" x2="243.35" y2="474.70" stroke="#333" stroke-width="0.7"/>
<text x="246.85" y="481.30" font-size="7.0" fill="#333" text-anchor="end" textLength="26.06" lengthAdjust="spacingAndGlyphs" transform="rotate(-45 246.85 481.30)">TanCAR3</text>
<rect x="253.02" y="431.90" width="2.20" height="39.80" fill="#1c3679" />
<line x1="254.12" y1="431.90" x2="254.12" y2="429.31" stroke="#1c3679" stroke-width="0.6"/>
<line x1="253.52" y1="429.31" x2="254.72" y2="429.31" stroke="#1c3679" stroke-width="0.6"/>
<line x1="252.32" y1="471.70" x2="252.32" y2="474.70" stroke="#333" stroke-width="0.7"/>
<text x="255.82" y="481.30" font-size="7.0" fill="#333" text-anchor="end" textLength="26.06" lengthAdjust="spacingAndGlyphs" transform="rotate(-45 255.82 481.30)">TanCAR4</text>
<rect x="261.99" y="440.06" width="2.20" height="31.64" fill="#1c3679" />
<line x1="263.09" y1="440.06" x2="263.09" y2="438.00" stroke="#1c3679" stroke-width="0.6"/>
<line x1="262.49" y1="438.00" x2="263.69" y2="438.00" stroke="#1c3679" stroke-width="0.6"/>
<line x1="261.29" y1="471.70" x2="261.29" y2="474.70" stroke="#333" stroke-width="0.7"/>
<text x="264.79" y="481.30" font-size="7.0" fill="#333" text-anchor="end" textLength="26.06" lengthAdjust="spacingAndGlyphs" transform="rotate(-45 264.79 481.30)">TanCAR5</text>
<rect x="270.96" y="436.53" width="2.20" height="35.17" fill="#1c3679" />
<line x1="272.06" y1="436.53" x2="272.06" y2="434.25" stroke="#1c3679" stroke-width="0.6"/>
<line x1="271.46" y1="434.25" x2="272.66" y2="434.25" stroke="#1c3679" stroke-width="0.6"/>
<line x1="270.26" y1="471.70" x2="270.26" y2="474.70" stroke="#333" stroke-width="0.7"/>
<text x="273.76" y="481.30" font-size="7.0" fill="#333" text-anchor="end" textLength="26.06" lengthAdjust="spacingAndGlyphs" transform="rotate(-45 273.76 481.30)">TanCAR6</text>
<rect x="279.93" y="423.73" width="2.20" height="47.97" fill="#1c3679" />
<line x1="281.03" y1="423.73" x2="281.03" y2="420.62" stroke="#1c3679" stroke-width="0.6"/>
<line x1="280.43" y1="420.62" x2="281.63" y2="420.62" stroke="#1c3679" stroke-width="0.6"/>
<line x1="279.23" y1="471.70" x2="279.23" y2="474.70" stroke="#333" stroke-width="0.7"/>
<text x="282.73" y="481.30" font-size="7.0" fill="#333" text-anchor="end" textLength="26.06" lengthAdjust="spacingAndGlyphs" transform="rotate(-45 282.73 481.30)">TanCAR7</text>
<rect x="288.90" y="429.18" width="2.20" height="42.52" fill="#1c3679" />
<line x1="290.00" y1="429.18" x2="290.00" y2="426.41" stroke="#1c3679" stroke-width="0.6"/>
<line x1="289.40" y1="426.41" x2="290.60" y2="426.41" stroke="#1c3679" stroke-width="0.6"/>
<line x1="288.20" y1="471.70" x2="288.20" y2="474.70" stroke="#333" stroke-width="0.7"/>
<text x="291.70" y="481.30" font-size="7.0" fill="#333" text-anchor="end" textLength="26.06" lengthAdjust="spacingAndGlyphs" transform="rotate(-45 291.70 481.30)">TanCAR8</text>
<line x1="194.50" y1="402.90" x2="194.50" y2="472.30" stroke="#2a2a2a" stroke-width="1.15"/>
<line x1="193.90" y1="471.70" x2="293.00" y2="471.70" stroke="#222" stroke-width="1.1"/>
<line x1="191.50" y1="471.70" x2="194.50" y2="471.70" stroke="#333" stroke-width="0.9"/>
<text x="188.90" y="474.00" font-size="6.4" fill="#333" text-anchor="end" font-weight="normal"  textLength="3.74" lengthAdjust="spacingAndGlyphs">0</text>
<line x1="191.50" y1="458.60" x2="194.50" y2="458.60" stroke="#333" stroke-width="0.9"/>
<text x="188.90" y="460.90" font-size="6.4" fill="#333" text-anchor="end" font-weight="normal"  textLength="14.95" lengthAdjust="spacingAndGlyphs">1300</text>
<line x1="191.50" y1="445.50" x2="194.50" y2="445.50" stroke="#333" stroke-width="0.9"/>
<text x="188.90" y="447.80" font-size="6.4" fill="#333" text-anchor="end" font-weight="normal"  textLength="14.95" lengthAdjust="spacingAndGlyphs">2600</text>
<line x1="191.50" y1="432.40" x2="194.50" y2="432.40" stroke="#333" stroke-width="0.9"/>
<text x="188.90" y="434.70" font-size="6.4" fill="#333" text-anchor="end" font-weight="normal"  textLength="14.95" lengthAdjust="spacingAndGlyphs">3900</text>
<line x1="191.50" y1="419.30" x2="194.50" y2="419.30" stroke="#333" stroke-width="0.9"/>
<text x="188.90" y="421.60" font-size="6.4" fill="#333" text-anchor="end" font-weight="normal"  textLength="14.95" lengthAdjust="spacingAndGlyphs">5200</text>
<line x1="191.50" y1="406.20" x2="194.50" y2="406.20" stroke="#333" stroke-width="0.9"/>
<text x="188.90" y="408.50" font-size="6.4" fill="#333" text-anchor="end" font-weight="normal"  textLength="14.95" lengthAdjust="spacingAndGlyphs">6500</text>
<text x="168.00" y="437.30" font-size="7.6" fill="#333" text-anchor="middle" textLength="37.25" lengthAdjust="spacingAndGlyphs" transform="rotate(-90 168.00 437.30)">IL-2 (pg/mL)</text>
<text x="243.50" y="397.70" font-size="8.7" fill="#333" text-anchor="middle" font-weight="normal"  textLength="15.59" lengthAdjust="spacingAndGlyphs">IL-2</text>
<text x="243.50" y="511.40" font-size="8.4" fill="#2a2a2a" text-anchor="middle" font-weight="normal" stroke="#2a2a2a" stroke-width="0.18" textLength="55.80" lengthAdjust="spacingAndGlyphs">E:T=1:1 Time:48h</text>
<rect x="208.17" y="471.70" width="2.20" height="5.30" fill="#1c3679" />
<rect x="337.50" y="471.37" width="2.20" height="0.33" fill="#c8102e" />
<rect x="341.10" y="470.72" width="2.20" height="0.98" fill="#1c3679" />
<line x1="340.40" y1="471.70" x2="340.40" y2="474.70" stroke="#333" stroke-width="0.7"/>
<text x="343.90" y="481.30" font-size="7.0" fill="#333" text-anchor="end" textLength="8.12" lengthAdjust="spacingAndGlyphs" transform="rotate(-45 343.90 481.30)">NT</text>
<rect x="350.12" y="427.65" width="2.20" height="44.05" fill="#1c3679" />
<line x1="351.22" y1="427.65" x2="351.22" y2="424.79" stroke="#1c3679" stroke-width="0.6"/>
<line x1="350.62" y1="424.79" x2="351.82" y2="424.79" stroke="#1c3679" stroke-width="0.6"/>
<line x1="349.42" y1="471.70" x2="349.42" y2="474.70" stroke="#333" stroke-width="0.7"/>
<text x="352.92" y="481.30" font-size="7.0" fill="#333" text-anchor="end" textLength="30.12" lengthAdjust="spacingAndGlyphs" transform="rotate(-45 352.92 481.30)">CD19 CAR</text>
<rect x="355.54" y="471.37" width="2.20" height="0.33" fill="#c8102e" />
<rect x="359.14" y="427.65" width="2.20" height="44.05" fill="#1c3679" />
<line x1="360.24" y1="427.65" x2="360.24" y2="424.79" stroke="#1c3679" stroke-width="0.6"/>
<line x1="359.64" y1="424.79" x2="360.84" y2="424.79" stroke="#1c3679" stroke-width="0.6"/>
<line x1="358.44" y1="471.70" x2="358.44" y2="474.70" stroke="#333" stroke-width="0.7"/>
<text x="361.94" y="481.30" font-size="7.0" fill="#333" text-anchor="end" textLength="30.12" lengthAdjust="spacingAndGlyphs" transform="rotate(-45 361.94 481.30)">CD20 CAR</text>
<rect x="368.16" y="453.69" width="2.20" height="18.01" fill="#1c3679" />
<line x1="369.26" y1="453.69" x2="369.26" y2="452.52" stroke="#1c3679" stroke-width="0.6"/>
<line x1="368.66" y1="452.52" x2="369.86" y2="452.52" stroke="#1c3679" stroke-width="0.6"/>
<line x1="367.46" y1="471.70" x2="367.46" y2="474.70" stroke="#333" stroke-width="0.7"/>
<text x="370.96" y="481.30" font-size="7.0" fill="#333" text-anchor="end" textLength="26.06" lengthAdjust="spacingAndGlyphs" transform="rotate(-45 370.96 481.30)">TanCAR1</text>
<rect x="377.18" y="435.68" width="2.20" height="36.02" fill="#1c3679" />
<line x1="378.28" y1="435.68" x2="378.28" y2="433.33" stroke="#1c3679" stroke-width="0.6"/>
<line x1="377.68" y1="433.33" x2="378.88" y2="433.33" stroke="#1c3679" stroke-width="0.6"/>
<line x1="376.48" y1="471.70" x2="376.48" y2="474.70" stroke="#333" stroke-width="0.7"/>
<text x="379.98" y="481.30" font-size="7.0" fill="#333" text-anchor="end" textLength="26.06" lengthAdjust="spacingAndGlyphs" transform="rotate(-45 379.98 481.30)">TanCAR2</text>
<rect x="382.60" y="471.37" width="2.20" height="0.33" fill="#c8102e" />
<rect x="386.20" y="433.55" width="2.20" height="38.15" fill="#1c3679" />
<line x1="387.30" y1="433.55" x2="387.30" y2="431.07" stroke="#1c3679" stroke-width="0.6"/>
<line x1="386.70" y1="431.07" x2="387.90" y2="431.07" stroke="#1c3679" stroke-width="0.6"/>
<line x1="385.50" y1="471.70" x2="385.50" y2="474.70" stroke="#333" stroke-width="0.7"/>
<text x="389.00" y="481.30" font-size="7.0" fill="#333" text-anchor="end" textLength="26.06" lengthAdjust="spacingAndGlyphs" transform="rotate(-45 389.00 481.30)">TanCAR3</text>
<rect x="395.22" y="430.93" width="2.20" height="40.77" fill="#1c3679" />
<line x1="396.32" y1="430.93" x2="396.32" y2="428.28" stroke="#1c3679" stroke-width="0.6"/>
<line x1="395.72" y1="428.28" x2="396.92" y2="428.28" stroke="#1c3679" stroke-width="0.6"/>
<line x1="394.52" y1="471.70" x2="394.52" y2="474.70" stroke="#333" stroke-width="0.7"/>
<text x="398.02" y="481.30" font-size="7.0" fill="#333" text-anchor="end" textLength="26.06" lengthAdjust="spacingAndGlyphs" transform="rotate(-45 398.02 481.30)">TanCAR4</text>
<rect x="400.64" y="471.37" width="2.20" height="0.33" fill="#c8102e" />
<rect x="404.24" y="451.07" width="2.20" height="20.63" fill="#1c3679" />
<line x1="405.34" y1="451.07" x2="405.34" y2="449.73" stroke="#1c3679" stroke-width="0.6"/>
<line x1="404.74" y1="449.73" x2="405.94" y2="449.73" stroke="#1c3679" stroke-width="0.6"/>
<line x1="403.54" y1="471.70" x2="403.54" y2="474.70" stroke="#333" stroke-width="0.7"/>
<text x="407.04" y="481.30" font-size="7.0" fill="#333" text-anchor="end" textLength="26.06" lengthAdjust="spacingAndGlyphs" transform="rotate(-45 407.04 481.30)">TanCAR5</text>
<rect x="413.26" y="443.86" width="2.20" height="27.84" fill="#1c3679" />
<line x1="414.36" y1="443.86" x2="414.36" y2="442.05" stroke="#1c3679" stroke-width="0.6"/>
<line x1="413.76" y1="442.05" x2="414.96" y2="442.05" stroke="#1c3679" stroke-width="0.6"/>
<line x1="412.56" y1="471.70" x2="412.56" y2="474.70" stroke="#333" stroke-width="0.7"/>
<text x="416.06" y="481.30" font-size="7.0" fill="#333" text-anchor="end" textLength="26.06" lengthAdjust="spacingAndGlyphs" transform="rotate(-45 416.06 481.30)">TanCAR6</text>
<rect x="422.28" y="427.65" width="2.20" height="44.05" fill="#1c3679" />
<line x1="423.38" y1="427.65" x2="423.38" y2="424.79" stroke="#1c3679" stroke-width="0.6"/>
<line x1="422.78" y1="424.79" x2="423.98" y2="424.79" stroke="#1c3679" stroke-width="0.6"/>
<line x1="421.58" y1="471.70" x2="421.58" y2="474.70" stroke="#333" stroke-width="0.7"/>
<text x="425.08" y="481.30" font-size="7.0" fill="#333" text-anchor="end" textLength="26.06" lengthAdjust="spacingAndGlyphs" transform="rotate(-45 425.08 481.30)">TanCAR7</text>
<rect x="427.70" y="471.37" width="2.20" height="0.33" fill="#c8102e" />
<rect x="431.30" y="427.65" width="2.20" height="44.05" fill="#1c3679" />
<line x1="432.40" y1="427.65" x2="432.40" y2="424.79" stroke="#1c3679" stroke-width="0.6"/>
<line x1="431.80" y1="424.79" x2="433.00" y2="424.79" stroke="#1c3679" stroke-width="0.6"/>
<line x1="430.60" y1="471.70" x2="430.60" y2="474.70" stroke="#333" stroke-width="0.7"/>
<text x="434.10" y="481.30" font-size="7.0" fill="#333" text-anchor="end" textLength="26.06" lengthAdjust="spacingAndGlyphs" transform="rotate(-45 434.10 481.30)">TanCAR8</text>
<line x1="336.30" y1="402.90" x2="336.30" y2="472.30" stroke="#2a2a2a" stroke-width="1.15"/>
<line x1="335.70" y1="471.70" x2="434.90" y2="471.70" stroke="#222" stroke-width="1.1"/>
<line x1="333.30" y1="471.70" x2="336.30" y2="471.70" stroke="#333" stroke-width="0.9"/>
<text x="330.70" y="474.00" font-size="6.4" fill="#333" text-anchor="end" font-weight="normal"  textLength="3.74" lengthAdjust="spacingAndGlyphs">0</text>
<line x1="333.30" y1="455.32" x2="336.30" y2="455.32" stroke="#333" stroke-width="0.9"/>
<text x="330.70" y="457.62" font-size="6.4" fill="#333" text-anchor="end" font-weight="normal"  textLength="11.21" lengthAdjust="spacingAndGlyphs">500</text>
<line x1="333.30" y1="438.95" x2="336.30" y2="438.95" stroke="#333" stroke-width="0.9"/>
<text x="330.70" y="441.25" font-size="6.4" fill="#333" text-anchor="end" font-weight="normal"  textLength="14.95" lengthAdjust="spacingAndGlyphs">1000</text>
<line x1="333.30" y1="422.57" x2="336.30" y2="422.57" stroke="#333" stroke-width="0.9"/>
<text x="330.70" y="424.88" font-size="6.4" fill="#333" text-anchor="end" font-weight="normal"  textLength="14.95" lengthAdjust="spacingAndGlyphs">1500</text>
<line x1="333.30" y1="406.20" x2="336.30" y2="406.20" stroke="#333" stroke-width="0.9"/>
<text x="330.70" y="408.50" font-size="6.4" fill="#333" text-anchor="end" font-weight="normal"  textLength="14.95" lengthAdjust="spacingAndGlyphs">2000</text>
<text x="309.50" y="437.30" font-size="7.6" fill="#333" text-anchor="middle" textLength="44.99" lengthAdjust="spacingAndGlyphs" transform="rotate(-90 309.50 437.30)">TNF-&#945; (pg/mL)</text>
<text x="386.00" y="397.70" font-size="8.7" fill="#333" text-anchor="middle" font-weight="normal"  textLength="25.83" lengthAdjust="spacingAndGlyphs">TNF-&#945;</text>
<text x="386.00" y="511.40" font-size="8.4" fill="#2a2a2a" text-anchor="middle" font-weight="normal" stroke="#2a2a2a" stroke-width="0.18" textLength="55.80" lengthAdjust="spacingAndGlyphs">E:T=1:1 Time:48h</text>
<rect x="0.5" y="0.5" width="519" height="520" fill="none" stroke="#000" stroke-width="1"/>
</svg>
</body></html>
